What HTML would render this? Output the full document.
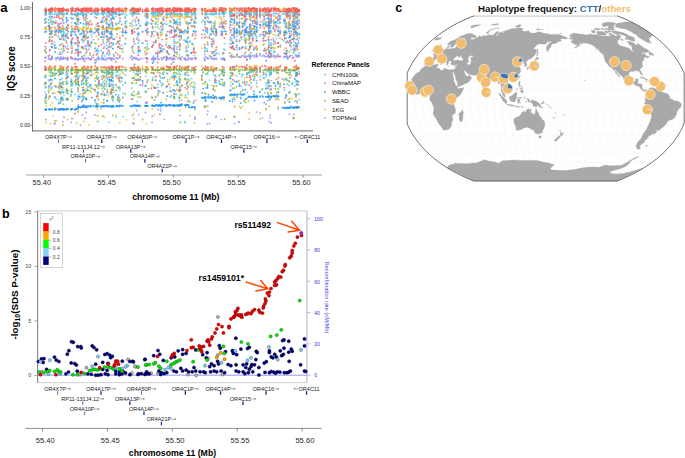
<!DOCTYPE html>
<html><head><meta charset="utf-8"><title>Figure</title>
<style>
html,body{margin:0;padding:0;background:#fff;}
body{width:685px;height:458px;overflow:hidden;}
svg{display:block;font-family:"Liberation Sans",sans-serif;}
</style></head><body>
<svg width="685" height="458" viewBox="0 0 685 458">
<rect width="685" height="458" fill="#fff"/>
<path d="M32.5 130.9H313" stroke="#858585" stroke-width="1.4" fill="none"/>
<path d="M32.5 2V131.6" stroke="#6c6c6c" stroke-width="1" fill="none"/>
<path d="M30.6 125.2H32.4" stroke="#555" stroke-width="0.6"/>
<text x="30" y="127" text-anchor="end" font-size="5.1" fill="#222">0.00</text>
<path d="M30.6 95.9H32.4" stroke="#555" stroke-width="0.6"/>
<text x="30" y="97.7" text-anchor="end" font-size="5.1" fill="#222">0.25</text>
<path d="M30.6 66.5H32.4" stroke="#555" stroke-width="0.6"/>
<text x="30" y="68.3" text-anchor="end" font-size="5.1" fill="#222">0.50</text>
<path d="M30.6 37.2H32.4" stroke="#555" stroke-width="0.6"/>
<text x="30" y="39" text-anchor="end" font-size="5.1" fill="#222">0.75</text>
<path d="M30.6 7.8H32.4" stroke="#555" stroke-width="0.6"/>
<text x="30" y="9.6" text-anchor="end" font-size="5.1" fill="#222">1.00</text>
<text transform="translate(14.6 68.8) rotate(-90)" text-anchor="middle" font-size="10.8" textLength="44.6" lengthAdjust="spacingAndGlyphs" font-weight="bold" fill="#000">IQS score</text>
<path d="M76.6 123.3h0M54.5 68.5h0M204.7 10.7h0M136 11.5h0M104.3 76.6h0M264.2 43.9h0M287.6 18.2h0M154.4 16h0M169.7 47h0M297.1 28.7h0M111.3 91.5h0M104.5 85.8h0M96.4 36.3h0M119.9 123h0M286 24.2h0M213.2 11.2h0M268.8 10.9h0M78.1 9.9h0M106.5 10.5h0M202.2 48.2h0M166.3 33.9h0M136.2 94.5h0M255.4 73.2h0M219.2 10.6h0M275.5 67.5h0M166.5 21.1h0M214.1 23.9h0M81.8 29.2h0M83.6 48.7h0M287.6 9h0M72.9 10.9h0M71.8 82.6h0M271 32.6h0M187.9 26.4h0M110.4 28.2h0M58.4 86.6h0M295.5 10.6h0M191 17.2h0M264.2 35.9h0M294.9 10h0M161.7 11.7h0M78 91.4h0M288.4 10.9h0M260 91.5h0M112.9 10.1h0M132 10.6h0M147.1 66.7h0M62.1 27.9h0M45.9 52.5h0M297.1 34.8h0M52.1 82.5h0M245.8 32.5h0M276.5 66.9h0M191.7 16.7h0M294 30.9h0M174.9 22h0M49.5 24.7h0M250 80.7h0M56.8 30.9h0M195.8 52.8h0M131.7 10.8h0M62.1 29.6h0M254.6 9.5h0M213.3 11.6h0M72.1 28.8h0M245.7 11.9h0M49.9 95.7h0M298.4 82.1h0M298.4 14.8h0M50.7 27h0M256.6 65.4h0M212.1 31.5h0M66.6 29.3h0M106 22.4h0M273.3 34.5h0M72.1 29.2h0M111.8 28.8h0M102 102.6h0M232.6 24.5h0M192 15.7h0M250.2 44.7h0M221 18.3h0M266.2 10.3h0M59.6 9.6h0M61.4 97.5h0M63 67.7h0M132.7 33.1h0M117.1 28.9h0M151.3 11.6h0M192.7 9.8h0M167.3 67.7h0M188.2 54.9h0M158.4 38h0M294 21.9h0M64 81.8h0M78.4 15.9h0M103 29.2h0M56.1 9.7h0M166.3 99.3h0M256.7 68.1h0M106.5 82.1h0M140.3 79.8h0M83.2 93.7h0M252.9 11.2h0M179.8 110.4h0M162.2 9.6h0M58.8 85.3h0M63.6 16.6h0M76.4 17.4h0M273.3 8.2h0M107.4 28.5h0M260 21.8h0M293.5 32.3h0M245.7 48h0M288.4 14.1h0M58.7 28.4h0M63 83.9h0M106.5 80.2h0M96.6 106.4h0M289.9 98.2h0M162.2 78.1h0M111.3 28.6h0M179.8 40.1h0M76.4 28.4h0M61.8 29.2h0M88.4 36.8h0M288.8 10.9h0M104.3 32.1h0M112.6 81.5h0M297.1 10.4h0M277.9 99.1h0M136.8 11.3h0M168.8 67.3h0M86.5 80.8h0M64 28.4h0M179.8 16.7h0" stroke="#f6bb2f" stroke-width="1.95" stroke-linecap="round" stroke-opacity="0.78" fill="none"/>
<path d="M164.2 20.1h0M297.2 35.5h0M48.5 59.1h0M132.6 123.1h0M286.5 25.5h0M245.2 48.2h0M146.5 58.5h0M169.1 59h0M137.3 38h0M51.4 59.2h0M86.5 45.4h0M109.5 58.2h0M106.5 42.5h0M233.6 35.4h0M242.7 30.9h0M296.5 34.2h0M233.6 28.9h0M290.2 55.5h0M52.3 17.1h0M189.9 17.1h0M132 59.3h0M174.1 30.7h0M249.7 26.9h0M72.1 59.1h0M90.6 58.9h0M168.8 58.1h0M269 57.6h0M62 35h0M75.1 58.1h0M222.3 58.4h0M293.7 57.3h0M45 70h0M278 56.5h0M195.1 16.1h0M293.5 48.8h0M138.8 23.6h0M299.2 55.6h0M298.4 40.8h0M113.5 18.1h0M191.7 59.4h0M231.7 55.5h0M195.1 58.7h0M295.9 94.7h0M232.6 88.3h0M89 58.9h0M157.7 87.5h0M263.3 24.7h0M83.2 59.3h0M185.2 122.6h0M297.1 34.3h0M122.8 58.7h0M107.5 91.7h0M87.9 44.1h0M244.4 21.8h0M187.9 59.8h0M152.6 58h0M153.8 59.5h0M66.3 58h0M185.4 58.7h0M236.5 39.4h0M252.7 23.6h0M136 73.7h0M72.9 37.9h0M207.8 17h0M262.3 34.2h0M163.1 58h0M244.7 32.8h0M78.5 77.7h0M166.5 59.9h0M65.5 58.1h0M145.6 30.2h0M252.7 38.2h0M91.8 57.2h0M45.9 18.4h0M151.3 19.2h0M251.3 87.2h0M264.2 36.8h0M216 117.2h0M239.4 57.1h0M273.6 15.8h0M286.2 56.9h0M87.7 42.5h0M280.3 45.3h0M136.8 58.1h0M166.5 59h0M277.9 17h0M205.6 56.8h0M78.1 21.8h0M139.5 59.4h0M248.3 55.1h0M260.3 34.6h0M132.6 57.6h0M83.6 57.9h0M286.2 97.5h0M188.8 58.7h0M249.2 56.2h0M54.5 123.6h0M169.7 58.3h0M114.2 18.7h0M267.8 33.1h0M181.1 30.4h0M82.9 47.1h0M169.1 48.4h0M236.5 45.3h0M102 33.5h0M155.6 58.5h0M295.9 32.2h0M106.5 45.3h0M187.1 50.8h0M45.9 13.8h0M74.9 43.6h0M45.9 109.6h0M136 57.7h0M145.4 102.6h0M224.6 59.9h0" stroke="#9a90f7" stroke-width="1.95" stroke-linecap="round" stroke-opacity="0.78" fill="none"/>
<path d="M205.6 69.8h0M130.1 25.8h0M194.3 94.6h0M174.4 85.4h0M101.4 37.2h0M251.4 69.9h0M52.1 76.3h0M46.2 96.8h0M62.8 87.9h0M256.5 112.1h0M173 69.8h0M72.1 70h0M54.9 69.4h0M234.4 70.3h0M102 88.5h0M284.9 70.2h0M164.2 49.2h0M138.3 69.9h0M62.1 99.5h0M194.3 70.1h0M260 69.9h0M59.6 69.3h0M132 78.3h0M195.8 69.8h0M86.2 91.1h0M97.5 95.9h0M176.1 69.1h0M246.8 82h0M250.2 69.6h0M51.4 88.8h0M154.4 69.7h0M54.9 75.4h0M155.4 70.4h0M146.5 50h0M101.1 70.3h0M102 72.1h0M48.5 98.8h0M230.6 85.6h0M147.2 69.8h0M117.8 27.8h0M247 77.2h0M121.7 69.8h0M83.5 48.4h0M103 75.8h0M102 55.5h0M60.8 72.9h0M110.4 94h0M48.5 19.9h0M70.9 95.9h0M179.8 91.1h0M166.5 56.4h0M136 79.7h0M233.6 70h0M112.3 76.1h0M125.4 69.6h0M278.6 34.3h0M204.7 105.9h0M207.3 72.9h0M287.4 50.5h0M204.7 34.1h0M66.3 41h0M268.9 46.9h0M108.5 47h0M140.3 96.9h0M157.7 34.1h0M256.5 69.5h0M119.1 69.4h0M138.6 27.9h0M180.4 122.5h0M268.9 69.7h0M179.4 43.1h0M209.6 69.9h0M173.4 69.8h0M229.8 53h0M111.3 75.6h0M131.8 70h0M242.6 69.8h0M278.3 106.9h0M78.1 84h0M210.6 69.6h0M166.3 69.9h0M125.3 18h0M237.1 81.9h0M145 69.8h0M176.9 70.1h0M93.4 70.1h0M289.5 25.5h0M292.2 70.2h0M245.7 16.6h0M266.2 69.5h0M176.1 56.6h0M230.6 30h0M280.3 46.8h0M152.6 28.2h0M116.5 69.8h0M153.6 21.2h0M158.4 70h0M182 69.9h0M298.4 19.7h0M173.7 73h0M103.8 77.8h0M75.1 70.3h0M55 70.3h0M71.8 91.7h0M185.6 69.6h0M112.9 69.6h0M72.9 70h0M161.1 32.8h0M48.5 90.7h0M239.5 27h0M284.3 69.5h0M152.2 72.7h0M132.6 69.7h0M285.2 30.6h0M180.2 79.5h0M113.5 86.7h0M80 69.9h0M181.5 95.4h0M174.7 53h0M173.7 97.4h0M286.5 94.9h0M78 72.5h0M225.9 21.2h0M82.9 93.6h0M215 22.8h0M86.3 49.7h0M289.9 72.5h0M176.1 73h0M95.3 69.8h0M147.7 69.7h0M293.8 45.3h0M86.2 99.6h0M71.1 43.7h0M289.5 81.5h0M280.3 83.4h0M245.8 41h0M60.2 52.1h0M273.6 69.7h0M286.5 52.7h0M86.3 85.3h0M231.7 43.5h0M245.7 102.6h0M136.2 82.9h0M86.7 69.8h0M138.8 50.5h0M52.9 74.9h0M274.6 70.1h0M249.2 34.9h0M215 90.6h0M251 53h0M81.5 75.5h0M245.7 38.7h0M256.7 48.5h0M120 82.3h0M71.1 69.9h0" stroke="#8bb52e" stroke-width="1.95" stroke-linecap="round" stroke-opacity="0.78" fill="none"/>
<path d="M48.5 55.9h0M83.6 26.8h0M214 13.7h0M51.4 72.1h0M182.1 16.4h0M205.3 50.3h0M230.6 37.3h0M86.2 84.9h0M277.9 72.3h0M293.7 35.9h0M72.1 82.9h0M121.7 13.8h0M216.4 53.2h0M171.7 14.4h0M289 29h0M223.9 71.7h0M133.9 53h0M97.6 14h0M101.4 85.4h0M108.3 70.9h0M248.3 13.9h0M232.8 14.4h0M86.2 14.2h0M80.6 14.4h0M189.9 22.9h0M193.8 82h0M256.7 14.1h0M295.5 13.9h0M268.8 44.2h0M180.2 14.4h0M136.8 71.5h0M155.4 76.1h0M299.2 56.1h0M75.1 13.9h0M153 14.5h0M159.4 14.3h0M185.6 14.2h0M186 41.7h0M87.9 71.9h0M58.7 71.4h0M112.9 89.2h0M213.7 14.5h0M182 14.2h0M79 75.9h0M286.8 28h0M62.1 82.3h0M276.5 38.5h0M212.1 13.8h0M179 14h0M107.5 71.7h0M231.7 38.2h0M268.2 86.2h0M262.3 14.4h0M98.4 23.5h0M146.5 91.8h0M299.2 72.1h0M270 71.2h0M230.5 75.9h0M174.2 13.5h0M164.2 23.3h0M250.2 36.2h0M179.4 54.6h0M297.2 29.1h0M139.5 51.4h0M120 14.1h0M90.5 30.8h0M117.1 14h0M58.7 54h0M187.4 50.5h0M118.6 96.5h0M79 30.9h0M167.3 14.4h0M174.9 75.7h0M67.8 73.7h0M106.5 22.1h0M103 14.9h0M83.8 33.5h0M269 99.1h0M275.3 22.3h0M245.7 14.6h0M236.5 81.5h0M286.5 13.2h0M63 83.8h0M180.2 78.8h0M177.5 21.8h0M174.7 13.6h0M112.9 72.8h0M256.5 31.5h0M179.8 21.9h0M180.1 32.1h0M60.2 13.8h0M61.8 78.7h0M83.6 24h0M62 12.3h0M83.2 71.6h0M111.4 92.7h0M286.2 95.3h0M224.6 43.6h0M145.6 71.7h0M289.5 28.8h0M271.3 13.9h0M254.6 22.7h0M104.7 55.9h0M138.2 52.7h0M211.3 29.7h0M140.3 73.5h0M102.1 14h0M270 56.4h0M209.6 80.1h0M293.5 34.4h0M290.2 17.9h0M179.4 39.9h0M60 73.8h0M240.7 97.5h0M79 14.1h0M137.3 34.1h0M66.5 17.7h0M297.1 84h0M78.1 14h0M157.6 14h0M266.2 72.1h0M90.5 13.5h0M66.9 36.4h0M111.3 21.7h0M161.7 22.4h0M78 12.6h0M291.2 49.8h0M112.6 25.2h0M115.8 16.5h0M251.3 13.1h0M61.8 97.1h0M163.1 27.2h0M66.9 29.6h0M296.5 12.1h0M116.2 117h0M195.8 14.2h0M170.2 37.4h0M221.1 21.6h0M256.6 15.8h0M180.4 74.2h0M276.5 13.7h0M185 121.8h0M174.2 39.1h0M54.5 42.2h0M286 14.1h0M106.9 100.8h0M254.6 14.5h0M293.5 22.8h0M223.2 13.4h0M45.9 13h0M111.4 13.5h0M84.5 93.1h0M207.3 14.2h0M106.5 82.4h0M293.8 14h0M182.1 15.9h0M195.1 19.2h0M278.6 13.8h0M285.2 23.8h0M66.5 75.6h0M260 35.9h0M60.4 13.8h0M145.6 85.4h0M56.1 34.9h0M79 96.8h0M111.1 86.1h0M45 14.4h0M278.3 14.1h0M103 71.2h0M182 32.5h0M289 74.7h0M164.2 72.1h0M299.2 71.4h0M271.1 50.9h0M78.1 56h0M231.7 14.3h0M176.9 80.7h0M82.9 12.8h0M91.8 36.9h0M86.7 14.1h0M244.7 14.6h0M91.2 41.9h0M293.8 29.4h0" stroke="#45cff4" stroke-width="1.95" stroke-linecap="round" stroke-opacity="0.78" fill="none"/>
<path d="M287.4 108.1h0M95 48.3h0M67.9 93.5h0M58.7 109.7h0M52.1 109.3h0M295.9 107.6h0M86.7 106.4h0M112.3 74.2h0M80.6 107.5h0M101.1 106.3h0M266 104.1h0M279.9 32.6h0M60 109.4h0M187.9 28.1h0M161.1 105.2h0M112.7 25.8h0M257.2 97.2h0M275.5 96h0M231.7 73.5h0M71.8 74.1h0M102.1 34h0M232.6 94.7h0M56.1 30.6h0M163.1 105.2h0M160.7 48.1h0M185.6 104.8h0M275.3 96.5h0M242.7 94.7h0M109.5 33.2h0M289.5 101.9h0M297.9 81.7h0M256.5 96.9h0M50.8 32.3h0M188.8 23.3h0M81.8 106.5h0M221.1 97.5h0M238.8 25.7h0M71.4 35.2h0M294.9 32.1h0M255.4 96.6h0M88.4 106.4h0M116.2 90.6h0M192 107.3h0M138 105.4h0M110.4 32.2h0M106.9 48.5h0M180.4 89.9h0M289.9 74.2h0M45.9 109.5h0M51.4 46.6h0M219.2 75.4h0M115.8 12.5h0M174.7 105.9h0M132.6 31.2h0M299.2 28.1h0M163.1 74.2h0M284.9 108h0M66.6 84h0M179 104.8h0M296 45.4h0M152 32.1h0M87.9 106.7h0M85.2 19.7h0M225.9 31.5h0M286 107.8h0M146.3 106h0M270 31.8h0M186 105.4h0M136 105.7h0M121.7 48.9h0M76.4 24.5h0M251.3 31h0M277.9 96.4h0M153.8 12.3h0M98.4 99.6h0M98.9 106.6h0M146.5 103.1h0M66.6 109.2h0M138.2 74.1h0M78.4 46.6h0M293.7 18.8h0M111.4 37.4h0M106.5 105.8h0M166.5 35.5h0M161 105.3h0M174.2 96.6h0M205.3 81.7h0M51.8 31.9h0M189.9 41.4h0M266 96.6h0M152.2 105.5h0M60.8 109.2h0M297.1 107.3h0M80 34.1h0M179.4 105.1h0M188.4 100.7h0M295.5 25.9h0M132 47.8h0M189.9 107.4h0M179.8 33h0M63.5 109.1h0M169.1 105.1h0M269.1 96.3h0M87.7 106.2h0M244.4 94.6h0M296 22.2h0M78.5 107.4h0M126.5 32.4h0M278 96h0M121.7 105.8h0M276.5 96.6h0M79 106.7h0M54.5 45.6h0M237 54.3h0M185.4 12.6h0M242.6 47.3h0M85.2 77.9h0M187.4 42.4h0M109.5 38.1h0M254.6 96.9h0M185.2 105.2h0M248.3 97h0M111.8 90.2h0M97.5 53.5h0M138.3 105.8h0M251 31.3h0M215 55.2h0M286.8 12.3h0M87.9 77.8h0M54.5 109.6h0M76.6 109.2h0M230.5 47.2h0M246.8 59.4h0M91.2 30.9h0M61.4 108.9h0M238.8 94.1h0" stroke="#1e93f5" stroke-width="1.95" stroke-linecap="round" stroke-opacity="0.78" fill="none"/>
<path d="M204.7 44.7h0M176.1 34.7h0M95.3 11.1h0M191.7 25.9h0M268.2 15.6h0M120 77.3h0M216.4 68.4h0M246.8 11.6h0M239.5 9.4h0M146.9 11h0M231.7 11.4h0M205.3 10.9h0M233.6 14.8h0M111.4 37.1h0M101.1 84.4h0M295.5 10.9h0M245.8 42.9h0M174.4 43.1h0M174.7 15h0M101.1 67.3h0M65.5 10h0M109.5 9h0M146.3 66.9h0M142.6 11.7h0M247 59.7h0M45.9 12h0M52.3 36.9h0M136.2 10.3h0M174.9 9.1h0M276.5 79.3h0M98.9 84.6h0M262.3 66.3h0M240.7 13.3h0M287.6 15.4h0M179.4 68.2h0M249.2 8.6h0M194.9 52.5h0M248.3 8.5h0M95 89.5h0M72.1 11.1h0M232.8 10h0M78.1 40.3h0M55 11.7h0M72.1 10.1h0M179.8 8.8h0M293.5 38.5h0M111.8 11.8h0M251.4 11h0M233.6 8.4h0M176.9 65.9h0M82.3 56.5h0M106.5 19.7h0M202.2 34.6h0M203.1 67.9h0M191.7 9.9h0M297.1 21.2h0M293.5 8.9h0M193.8 52.5h0M213.3 41h0M102 71.5h0M162.2 39.6h0M155.6 10.8h0M142.6 9.5h0M159.1 45.8h0M84.5 61.3h0M82.3 68h0M216.4 29.4h0M174.4 20.5h0M251.4 9.6h0M55.6 11.3h0M119.9 9.6h0M115.8 68.1h0M194.5 67.8h0M76.6 76.7h0M90 11h0M133.9 123.8h0M114.2 9.6h0M279.9 15.5h0M112.3 9.2h0M176.1 9h0M85.2 7.9h0M273.6 9h0M68.1 49h0M193.4 8.5h0M104.3 11.1h0M249.7 16.1h0M78.4 9.7h0M45.7 67.8h0M88.4 9.6h0M153 8.1h0M232.8 9.9h0M231.7 10h0M106 10.1h0M245.2 11.8h0M278 20.4h0M174.4 48h0M252.7 8.4h0M187.9 10.3h0M126.5 9h0M255.4 21.5h0M138.3 8.9h0M76 76.9h0M66.6 9.6h0M162.2 8.5h0M221 8.7h0M116.5 11.4h0M153.6 11.1h0M142.6 68.5h0M213.3 43.9h0M195.8 57.7h0M156 40.4h0M211.3 67.4h0M185.2 68.1h0M290.2 17.9h0M88.4 69.9h0M154.4 59.1h0M51.8 8.2h0M271 53.7h0M268.9 11.3h0M152 11.5h0M291.2 9.7h0M86.2 10.7h0M66.6 67.9h0M59.6 11.3h0M63.6 10.6h0M210.6 11.3h0M191.7 53.1h0M46.2 10.5h0M45 9.4h0M120 10.8h0M230.6 9.1h0M282.2 39.5h0M121.7 66.5h0M63.4 67.8h0M134.6 67.8h0M139.5 8.8h0M287.4 17.1h0M131.7 55.9h0M87.9 23.7h0M173.4 67.6h0M288.8 22.7h0M299.2 11.8h0M88.4 11.7h0M294.9 79.1h0M112.3 22.7h0M76.4 72.7h0M256.7 18.8h0M52.1 9.2h0M208.5 67.4h0M122.8 9.9h0M138.6 40.3h0M132.7 46.2h0M66.3 9.8h0M91.8 8.3h0M219.8 10.9h0M213.7 9.9h0M290.2 40.8h0M132.6 8.1h0M147.7 9.2h0M271.1 8.4h0M185 8.4h0M240.7 8.2h0M118.6 87.9h0M51.4 9h0M256.6 67.1h0M174.9 35.5h0M244.4 16h0M195.8 58.8h0M166.2 9.4h0M112.6 28.5h0M159.9 114.3h0M286.2 42.5h0M284.9 67.2h0M188.2 11.3h0M254.6 74.6h0M254.6 48.3h0M170.1 14.1h0M49.6 37.1h0M292.7 10.7h0M176.9 34.8h0M267.8 11.7h0M180.2 9.3h0M195.8 8.9h0M224.3 38h0M60.4 54.1h0M88.4 42.6h0M173 90h0M77.4 26.8h0M58.4 32.7h0M59.6 11.1h0M104.7 10.2h0M109 12h0M276.6 18h0M260.1 72h0M96.4 10.1h0M224 10.5h0M112.3 8.8h0M71.7 53h0M75.1 113.4h0M181.1 8.9h0M173.7 9.8h0M138.8 8.7h0M45 22.9h0M63 8.5h0M112.6 11.6h0M179.8 8.9h0M70.9 34.5h0M252.9 17h0M83.6 10.5h0M278 8.7h0M82.3 8.6h0M254.6 8.1h0M75.1 67h0M254.7 67.7h0M109.5 67.5h0M133.9 10.4h0M268.9 67.4h0M189.9 9.7h0M205.7 10.6h0M86.3 10.2h0M155.4 10.7h0M256.6 17.8h0M297.2 9.5h0M187.9 28.1h0M86.7 10.2h0M179 36.8h0M294 50h0M262.3 9.5h0M278.3 8.8h0M55.6 8.7h0M246.8 10.8h0M166.3 38.9h0M102 11.7h0M67.9 52.1h0M119.1 68h0M211.6 44.4h0M179.8 8.9h0M50.7 11.2h0M117.1 34.1h0M132 29.6h0M256.5 71.8h0M166.3 11.4h0M138.6 9.3h0M185.4 8.8h0M132.6 14.7h0M277.9 67.4h0M106.9 8h0M101.1 37.1h0M173.4 11.4h0M108.5 67.3h0M78 8.3h0M109 10.7h0M147.1 29.7h0M78.1 18.5h0M180.1 9.9h0M296 8.7h0M176.1 8.2h0M278 67.7h0M251.3 66.9h0M245.7 68.2h0M154.4 87.9h0M133.8 8.5h0M223.2 9h0M224.3 22.1h0M275.3 10.5h0M174.4 11.5h0M176.9 9.7h0M222.3 66.8h0M224.3 9.3h0M60.4 11.7h0M163.1 11.4h0M48.8 10h0M103 67.2h0" stroke="#f65a58" stroke-width="1.95" stroke-linecap="round" stroke-opacity="0.78" fill="none"/>
<path d="M146.5 48.5h0M212.1 85.6h0M269.4 10.1h0M188.4 44.4h0M244.7 77.7h0M189.9 115.4h0M189.9 80.3h0M106 77.5h0M64 15.5h0M194.9 16.8h0M49.7 16.5h0M181.3 67.8h0M78.4 78.7h0M269 28.6h0M157.7 21.6h0M275.5 56.4h0M86.5 28.4h0M189.9 16.3h0M78.5 28.6h0M207.3 11h0M275.3 16.6h0M82.3 29.2h0M256.6 49h0M106 27.8h0M292.2 25.8h0M45.9 29.6h0M251.4 8.8h0M157.7 72.6h0M174.1 10.5h0M93.4 10.9h0M222.3 35.8h0M119.2 97.9h0M269 81h0M289.5 11.6h0M251 88.9h0M294.9 39.2h0M273.3 38.1h0M266.2 109.7h0M166.3 45h0M145 15.7h0M49.7 28.7h0M273.6 25.5h0M98.9 28.7h0M96.6 68.3h0M188.8 65.7h0M45 19.6h0M249.6 10.2h0M166.5 11.8h0M240.7 10.5h0M275.5 18.5h0M168.8 84.6h0M255.4 66.2h0M223.9 99.6h0M51.8 40.4h0M294.8 66.4h0M82.9 28.7h0M289 21.6h0M76 29.1h0M162.2 33.8h0M293.7 50.7h0M147.2 15h0M224.6 9.6h0M223 68.3h0M279.9 9.4h0M136.8 80.6h0M60.2 93.1h0M147.7 68.9h0M98.9 104.1h0M284.3 34.5h0M169.1 10.4h0M45.2 27.5h0M177.6 15.8h0M289 12h0M104.7 29.1h0M57.8 91.9h0M133.8 114h0M133.9 80.5h0M58.4 28.5h0M61 28h0M83.8 121.4h0M213.7 67.2h0M135.5 75.5h0M202.2 11.9h0M179.8 9.9h0M174.7 29.3h0M63 45h0M67.9 119.8h0M249.7 66.1h0M181.5 100h0M170.1 20.7h0M185 67h0M125.4 10.3h0M80 28.5h0M66.9 28.7h0M157.7 67.8h0M221.7 19.7h0M223.2 10.8h0M251 10.1h0M87.7 29.5h0M205.6 11.6h0M191 86.1h0M123 48.3h0M293.5 9h0M156 53h0M293.7 28.7h0M163.1 66.9h0M158.1 15.9h0M292.2 98.8h0M214 86.9h0M109.4 20.9h0M173.7 30.6h0M260.3 11.1h0M136.2 9.6h0M74.9 28.8h0M225.9 8.5h0M257.2 10.1h0M297.2 8.9h0M116.2 28.1h0M54.9 123h0M146.3 11.1h0M278 9.4h0M287.4 83.7h0M231.7 31.1h0M266.2 88.3h0M264.8 9.7h0M249.2 18.4h0M95 51.7h0" stroke="#f6bb2f" stroke-width="1.95" stroke-linecap="round" stroke-opacity="0.78" fill="none"/>
<path d="M155.4 58.9h0M257.2 24h0M188.4 24.2h0M299.2 26.3h0M271.3 70.8h0M102.1 59.5h0M224.3 28.8h0M113.5 54.5h0M80.6 59.1h0M294 29h0M191 58.2h0M63.5 58.4h0M277.9 83.4h0M103 91.5h0M254.5 56.7h0M75.1 53.2h0M286 35.1h0M106.5 58.4h0M293.8 26.6h0M142.6 58.5h0M112.9 38.9h0M109 68.3h0M147.7 59h0M239.4 34.6h0M133.8 57.5h0M231.7 43.6h0M237 32.3h0M83.6 104.7h0M101.4 21.9h0M278.6 99.6h0M86.2 23.9h0M260 55.6h0M61.8 53.4h0M166.5 51.5h0M160.7 110.7h0M254.7 56.9h0M278 19.9h0M80 93.9h0M249.2 36.8h0M221 58.8h0M262.3 21.5h0M269.4 121.8h0M109 17.1h0M263.3 74.7h0M86.2 112.5h0M224 85.7h0M194.3 100.8h0M256.7 72.5h0M107.5 52.3h0M250 14.4h0M89 49.1h0M49.7 29.5h0M234.4 56.8h0M166.2 59.7h0M82.4 114.9h0M275.5 25.8h0M257.2 20.9h0M271 56.7h0M257.2 56.9h0M236.5 55.7h0M67.9 58.8h0M293.8 32.9h0M214 59.1h0M237.1 23.8h0M179.8 22.3h0M45.2 57.7h0M293.7 114.4h0M147.2 24.8h0M179.8 58.8h0M289.5 57.1h0M78.5 59.7h0M152.2 59.1h0M192 58.6h0M111.1 57.9h0M63 38.8h0M119.9 21h0M71.8 57.9h0M80.6 34.5h0M120 57.3h0M254.6 47.4h0M109 40h0M222.5 35h0M186 67.8h0M180.1 45.9h0M98.4 57.9h0M292.7 24.1h0M96.4 24.9h0M87.7 50.6h0M289 37.7h0M77.4 59.4h0M216.1 58.1h0M49.5 37.3h0M242.6 47.1h0M58.8 31.4h0M238.8 121.7h0M286 56.2h0M256.5 38.3h0M267.8 56.4h0M111.8 59.7h0M273.3 56.4h0M90 31.2h0M201.8 37.7h0M167.7 58.9h0M297.2 102.7h0M174.1 48.2h0M86.7 33.1h0M234.4 28.2h0M78.4 53.1h0M76.6 59.1h0M295.5 43.1h0M103 58h0M145.6 57.9h0M180.1 58.8h0" stroke="#9a90f7" stroke-width="1.95" stroke-linecap="round" stroke-opacity="0.78" fill="none"/>
<path d="M252.9 69.7h0M270 72.8h0M297.1 69.4h0M85.2 98h0M161.1 34.8h0M177.6 41.9h0M81.8 80.9h0M125.3 26.9h0M120 88.1h0M78 69.9h0M49.6 34h0M112.9 78.1h0M222.3 70h0M123 73.2h0M148.5 48.7h0M234.4 18.9h0M286.8 53.6h0M257.2 69.8h0M122.8 70h0M76.4 82.9h0M97.6 69.5h0M207.8 70h0M221.7 73.4h0M109.5 51.8h0M216.4 86h0M140.3 76.9h0M245.7 69.7h0M109.5 69.9h0M293.8 23.7h0M82.4 69.8h0M211.3 70.5h0M96.6 103.7h0M211.6 70.1h0M286.5 23.2h0M181.1 35.6h0M86.2 52.6h0M295.5 69.9h0M290.2 69.7h0M138.2 75.3h0M273.6 43.9h0M179.8 80.7h0M132.7 50.3h0M179 97.1h0M242.7 82.4h0M271.3 69.4h0M229.8 69.3h0M186.8 46.1h0M58.8 70.1h0M134.6 69.5h0M274.6 96.3h0M63.6 69.9h0M112.6 69.9h0M297.2 88.9h0M109 72.7h0M216 96.5h0M83.2 87.6h0M236.5 69.2h0M166.2 35.5h0M246.8 73.3h0M103 28.1h0M187.1 69.6h0M67.9 98.5h0M138.6 33.9h0M67.9 70.1h0M125.4 38.4h0M224.6 119h0M97.6 96.3h0M78.4 69.6h0M293.5 53.1h0M219.8 24.1h0M179.4 76.8h0M71.7 69.6h0M251 34h0M122.8 28.8h0M62 69.8h0M58.4 70.5h0M205.7 69.8h0M90 54.9h0M239.4 73.7h0M106.5 70.1h0M179 35.6h0M276.5 92.4h0M112.6 16.4h0M163.1 70h0M292.7 70h0M242.6 74.7h0M112.2 70h0M104.3 72.7h0M131.7 70h0M45 101.4h0M221.1 73.6h0M193.8 70h0M137.3 69.8h0M213.7 70h0M133.8 69.8h0M45 69.5h0M161 69.3h0M289.9 77.9h0M186.5 55.3h0M155.6 69.9h0M74.9 81.5h0M222.5 26.5h0M114.2 56h0M158.4 37.8h0M87.9 69.6h0M215 27.9h0M98.9 85.8h0M54.9 107.9h0M192.7 26.3h0M49.6 72.1h0M275.3 89h0M260.1 69.5h0M148.5 69.5h0M250.2 47h0M95.3 85.1h0M122.8 51.8h0M297.2 24.5h0M80.6 70.7h0M271.1 98.1h0M60.8 100.1h0M232.8 69.3h0M48.8 92.6h0M50.7 83.5h0M171.4 95.8h0M114.2 70.1h0M264.8 69.4h0M133.9 70.5h0M155.6 80.2h0M247 69.6h0M230.4 69.7h0M86.5 82.6h0M277.9 70.1h0M83.2 69.9h0M103 41.4h0M115.8 52.7h0M152 70h0M108.5 70.1h0M45.2 83.8h0M174.2 69.7h0M78.4 53.4h0" stroke="#8bb52e" stroke-width="1.95" stroke-linecap="round" stroke-opacity="0.78" fill="none"/>
<path d="M156 18.3h0M86.2 30.8h0M126.5 15.1h0M170.1 96.9h0M201.8 22.2h0M209.6 35.9h0M103.8 35h0M77.4 74.4h0M90.6 21.2h0M295.5 54.7h0M88.4 27.4h0M48.8 88h0M96.6 14.9h0M159.1 14.3h0M205.7 15h0M125.4 25.9h0M289 85.5h0M78.1 91.6h0M169.1 14h0M138.6 91.5h0M182.1 85.3h0M102 13.6h0M117.1 72h0M230.6 20.7h0M174.2 93.1h0M133.9 72.1h0M173 74.4h0M112.2 13.8h0M162.2 14h0M86.2 80.6h0M271.1 22.9h0M111.3 13.9h0M109.4 13.9h0M180.4 89.2h0M254.7 13.8h0M108.5 71.3h0M77.4 42h0M153 77.7h0M119.9 46.2h0M264.2 16.8h0M179.8 74.2h0M166.5 17.8h0M284.9 71.2h0M55 44.6h0M297.1 13.4h0M287.6 14.1h0M72.1 91.6h0M216.4 82.6h0M252.9 71.9h0M216.1 116.1h0M221 84.4h0M106.5 14.1h0M45.9 48.5h0M72.1 13.9h0M247 14.3h0M91.2 46.5h0M162.6 28.7h0M254.7 33.8h0M191 71.6h0M254.6 13.3h0M237.1 97.6h0M275.5 35.3h0M216.4 99h0M174.2 13.8h0M269.4 75.6h0M219.8 16.3h0M96.4 50.3h0M79 19.7h0M125.3 14.1h0M91.2 72h0M154.4 42.6h0M174.1 12.8h0M188.2 13.9h0M86.5 89.9h0M147.1 14.2h0M278.3 84.1h0M233.6 22.6h0M83.5 14.3h0M276.6 72.8h0M254.6 78.3h0M188.2 94.2h0M294.9 27.5h0M253.9 71.6h0M63.6 32.5h0M63.6 31.2h0M115.8 14.1h0M62 35.3h0M52.9 73.4h0M299.2 52.9h0M161 31.9h0M288.4 12.3h0M45.7 13.8h0M78 49.1h0M173.7 46.2h0M72.9 14.3h0M64 13.6h0M121.7 71.7h0M284.9 23.2h0M187.1 83.3h0M78.5 45.5h0M66.9 13.7h0M117.8 42.7h0M194.3 55.4h0M46.2 31.7h0M118.6 23.6h0M81.5 83.5h0M224.6 82.9h0M160.7 51.6h0M221 22.9h0M216 14h0M169.7 13.3h0M121.7 78.2h0M186.5 51.5h0M116.2 76.1h0M294.8 85.9h0M63 82.3h0M109 122.1h0M86.7 24.4h0M166.3 44.4h0M66.3 74.4h0M52.3 23.9h0M45.2 92.1h0M249.6 39.5h0M155.6 13.7h0M156 14.1h0M260 13.9h0M237 49.7h0M194.3 89.3h0M147.1 44.3h0M299.2 35.2h0M107.4 23.1h0M249.7 72.4h0M146.5 14.2h0M138.8 14.1h0M114.2 14h0M62 83.5h0M98.9 13.5h0M147.1 46.9h0M207.4 87.2h0M102 57h0M213.3 72h0M238.8 13.6h0M76.4 19.3h0M52.1 79.9h0M232.8 28.6h0M238.8 71.3h0M285.2 26.1h0M86.7 89.3h0M256.5 14.3h0M251.4 35.6h0M205.6 14.8h0M103 82.3h0M214 52.8h0M268.9 18.9h0M297.1 74h0M90.6 13.6h0M211.6 13.6h0M78 14.1h0M101.4 86.1h0M50.8 13.9h0M182.1 13.9h0M62.1 37h0M49.5 17.1h0M109.5 25.8h0M148.5 22.7h0M212.1 41.8h0M111.3 35.5h0M294.8 71.7h0M93.4 89.2h0M239.4 13.7h0M132.7 26.3h0M161.7 23.4h0M298.4 13.6h0M202.2 12.8h0M268.2 56.1h0M121.7 80.9h0M292.2 14.2h0M177.6 14.3h0M101.4 21.7h0M171.4 21.6h0M145.4 71.2h0M61.4 101.2h0M187.9 38.2h0M62.8 93.1h0M103 72.3h0M221.7 97.7h0M152 33.4h0M138.2 43h0M239.5 71.4h0M78.5 71.9h0M193.4 13.9h0" stroke="#45cff4" stroke-width="1.95" stroke-linecap="round" stroke-opacity="0.78" fill="none"/>
<path d="M157.7 11h0M71.1 109.3h0M71.8 109h0M139.5 105.6h0M72.9 29.1h0M86.2 107h0M221.7 32.3h0M120 28.3h0M260 96.4h0M52.3 47.5h0M212.1 31.2h0M251.3 31.5h0M108.5 106.6h0M125.3 82.8h0M173.4 76.6h0M83.8 31.9h0M91.8 42.8h0M50.7 84.5h0M46.2 109.4h0M180.4 31.5h0M151.3 36.2h0M222.3 31.7h0M260 97h0M62.8 73.2h0M278 31.3h0M61 109.3h0M177.5 105.5h0M67.9 90.6h0M284 31.9h0M140.3 105.7h0M86.3 73.7h0M142.6 31.7h0M48.5 25.9h0M195.1 11.9h0M260.1 11.7h0M111.3 77.1h0M248.3 72.7h0M50.7 109.6h0M188.4 87.1h0M181.1 105.4h0M83.6 83.4h0M230.4 95h0M216.4 32.2h0M81.5 12.4h0M145.6 24.8h0M204.7 97.6h0M287.6 41.1h0M276.6 96h0M48.5 109.3h0M274.6 23.2h0M112.6 97h0M250.2 32.4h0M79 85.4h0M180.1 105.7h0M245.7 21.2h0M211.6 97.4h0M56.8 31h0M54.9 78.4h0M109.5 72.5h0M188.4 105.3h0M297.1 108h0M155.6 97.3h0M186.8 41.4h0M260.3 96.5h0M252.7 96.7h0M213.2 89.2h0M153.6 61.2h0M45 31.9h0M274.6 51.7h0M66.6 99.7h0M280.3 31.3h0M268.8 96.2h0M60.2 79.6h0M86.2 106.5h0M266.2 32.3h0M164.2 105.1h0M268.1 96.5h0M170.1 105.1h0M87.9 41h0M86.2 80.3h0M67.9 109h0M51.8 31h0M266.2 60.8h0M186.8 105h0M208.5 94.7h0M269.4 31.4h0M97.5 105.9h0M269 18.4h0M269.4 96.4h0M148.5 32h0M288.4 107.8h0M273.3 96.3h0M260 24.7h0M161.1 102.7h0M61.4 87h0M71.4 32.5h0M195.8 17.6h0M109.5 79.5h0M207.3 32.5h0M58.8 29.4h0M173.4 61.9h0M294 107.6h0M234.6 30.3h0M71.7 45.5h0M268.9 19.9h0M80.6 22.9h0M61 91.9h0M192.7 44.3h0M266.2 83.1h0M222.3 79.6h0M68.1 31.4h0M78.1 50h0M103 106.7h0M90 32.1h0M286 78.8h0M113.5 106.7h0M81.8 33.4h0M104.7 83.8h0M219.8 84h0M284 84.2h0M290.2 25.1h0M61.8 31.4h0M83.8 106.5h0M242.7 90.2h0M95.3 62.8h0M173.7 105.4h0M269 96.8h0M142.6 43h0M60 83.4h0M293.5 29.2h0M193.8 48.4h0M205.7 97.3h0M66.6 27.2h0M193.4 102.7h0M50.7 79.6h0M299.2 33.8h0M109.4 106.1h0M113.5 44.3h0M96.6 50.7h0M159.1 104.9h0M239.5 27.4h0M108.5 24.7h0M103.8 12.3h0M254.6 25.9h0M244.4 94h0M253.9 96.6h0M256.6 24.2h0M157.6 54h0M159.4 105.5h0M240.7 98.3h0M147.7 17.4h0M219.2 81.2h0M138.8 105.6h0M179.8 49.2h0M52.9 93.5h0M106 18.9h0M173.7 55.7h0M201.8 97.8h0M207.8 44.5h0M63.5 109.4h0M95 90.6h0" stroke="#1e93f5" stroke-width="1.95" stroke-linecap="round" stroke-opacity="0.78" fill="none"/>
<path d="M208.5 22h0M71.7 8.3h0M299.2 10.1h0M256.6 8.9h0M166.2 9.3h0M45 67.3h0M264.2 8.9h0M134.6 13.7h0M275.5 10.2h0M46.2 43.1h0M271 16.2h0M72.1 10.9h0M219.8 7.9h0M221.7 8.9h0M271 68.4h0M56.8 15.4h0M297.2 22.7h0M254.6 20.3h0M89 44.9h0M140.3 9.8h0M231.7 35h0M111.3 10.3h0M177.6 9.3h0M109.4 15.6h0M138.3 11.5h0M234.6 8.3h0M83.2 79.3h0M82.3 68.2h0M83.2 9.5h0M252.7 38.4h0M192 10.2h0M86.2 8.9h0M112.9 8.5h0M223.2 11.7h0M260 67.4h0M51.4 67.8h0M268.8 15.9h0M269.4 86.6h0M164.2 57.2h0M270 11.3h0M230.6 10.3h0M234.4 9.6h0M67.8 10.7h0M296.5 67.4h0M159.4 11.8h0M181.1 9.7h0M45 51.1h0M244.7 16.7h0M253.9 26h0M252.7 38.6h0M230.6 11.3h0M237.1 33.6h0M45.2 66.5h0M52.1 8.2h0M45.2 46.5h0M108.3 11.7h0M230.5 30.1h0M252.9 8.3h0M264.2 50.6h0M186.8 8.8h0M194.3 9h0M111.1 80.3h0M191 20.3h0M76.4 72.1h0M185 9.8h0M174.1 9.6h0M158.1 15.3h0M171.7 13.7h0M295.9 14.1h0M146.5 9.5h0M234.6 14.1h0M194.9 10.4h0M84.5 76h0M162.6 25h0M279.9 11.7h0M97.6 23.2h0M85.2 10.6h0M135.5 20.4h0M161 23.2h0M55 66.2h0M104.7 8.6h0M256.5 14.7h0M187.1 88.9h0M254.7 67.7h0M271.3 66.7h0M119.9 9.7h0M45 50.1h0M211.3 10.3h0M174.2 8.8h0M91.8 11.5h0M77.4 44.9h0M256.6 15h0M72.9 9.3h0M112.9 66.8h0M146.3 22.7h0M84.5 34.5h0M234.6 67.6h0M62.1 8.6h0M63.5 8.7h0M157.7 56.1h0M169.1 84.1h0M256.5 10.6h0M285.2 21.1h0M83.6 10.2h0M194.9 8.9h0M164.2 68.7h0M101.4 9.5h0M86.2 9.8h0M166.5 11h0M192.7 34.2h0M232.8 35.3h0M82.4 10.8h0M159.4 44h0M233.6 43.2h0M138 9.4h0M285.2 11.6h0M119.2 11.1h0M125.4 10.2h0M286 48.1h0M225.9 23.8h0M221.7 9.9h0M58.8 17.1h0M173 10.3h0M225.9 34.2h0M260.3 9.1h0M54.9 7.9h0M246.8 30.6h0M60 11.1h0M170.1 67.5h0M152 8.7h0M232.6 67h0M255.4 8.5h0M271 53.6h0M80.6 11h0M120 9.2h0M249.6 77.3h0M54.9 22.5h0M174.1 11.2h0M106 68h0M49.9 33.7h0M271.3 8.4h0M287.4 9.1h0M182 9.3h0M72.9 68.1h0M156 42.4h0M260 10.1h0M108.5 8.2h0M167.7 67.3h0M168.8 68.3h0M78.4 99.2h0M294.8 8.3h0M77.4 10.4h0M156 10.2h0M145.4 71.1h0M58.4 8.4h0M107.4 11.7h0M132.7 8.5h0M136.8 10.8h0M76.4 8.8h0M169.1 10.6h0M221.1 8.8h0M97.6 26.4h0M231.7 10.5h0M207.3 28.3h0M90.5 10.9h0M74.9 43.1h0M174.1 23.4h0M109.4 11.5h0M214.1 68.5h0M270 57.1h0M62 67.5h0M245.7 57.2h0M211.6 10h0M78 10.2h0M292.7 58.2h0M251 79.2h0M268.9 9.8h0M52.3 11.3h0M230.5 68.7h0M250.2 9h0M216.4 32.7h0M146.9 32.9h0M174.1 66.4h0M299.2 74h0M179.4 8.5h0M176.9 9.8h0M159.1 8.2h0M106.5 9.4h0M83.2 11.4h0M112.3 24h0M106.5 10.1h0M89 22.7h0M171.4 32.9h0M83.5 9.4h0M255.4 10.9h0M204.7 11.1h0M109.5 37.9h0M268.9 11.6h0M274.6 8.3h0M74.9 31.7h0M136 11.8h0M166.5 66h0M205.7 8.5h0M260.3 27.4h0M98.4 10.5h0M188.8 10.2h0M80.6 9.3h0M87.9 8.2h0M279.9 10.8h0M174.9 10.5h0M193.8 11.4h0M82.4 10.2h0M211.3 10.3h0M76.4 67.1h0M289 10.4h0M86.7 18.6h0M268.1 8.3h0M50.8 67.8h0M97.6 78.6h0M192 67.7h0M213.7 55.5h0M249.2 85.2h0M97.6 11.8h0M153.8 9.1h0M179 10.2h0M204.7 37.7h0M60.2 9.3h0M112.6 10.9h0M256.7 11.8h0M278.3 42.9h0M291.2 35.1h0M167.7 47.2h0M294 11.4h0M187.4 72.3h0M104.7 89.1h0M216.4 67.9h0M257.2 11.1h0M291.2 9.1h0M161 10.5h0M68.1 11.1h0M66.3 9.8h0M76.6 23.1h0M173.4 8.4h0M117.1 9.6h0M251.3 70.7h0M234.6 15.3h0M140.3 8.4h0M237 10.3h0M93.4 11.6h0M159.4 9.2h0M194.5 10.2h0M85.2 11.5h0M56.8 15.4h0M294 11.4h0M71.4 26.6h0M63 8.1h0M151.3 88.3h0M71.7 73.7h0M145.6 40.6h0M222.3 8.5h0M260 10.6h0M256.5 31.1h0M187.9 55.8h0M157.7 33.4h0M179 9.7h0M66.6 42.8h0" stroke="#f65a58" stroke-width="1.95" stroke-linecap="round" stroke-opacity="0.78" fill="none"/>
<path d="M134.6 12.3h0M155.4 26.8h0M182 16.1h0M62 28.9h0M86.3 91h0M48.5 29.2h0M249.2 37.6h0M222.3 8.4h0M110.4 74.7h0M246.8 10.4h0M296.5 10.6h0M161.1 15.9h0M286.8 10.7h0M181.1 10.6h0M286.2 78.2h0M158.4 16.6h0M278.6 9.2h0M185.4 21.4h0M207.8 37.4h0M212.1 11.3h0M273.6 49.6h0M130.1 9.6h0M219.2 17.4h0M298.4 67.3h0M155.4 17.3h0M294 11.2h0M60.4 93.1h0M97.2 28.9h0M101.1 27h0M210.6 21.4h0M252.7 45.5h0M52.9 116.1h0M174.1 79.8h0M167.7 92.1h0M102 68h0M192.7 86.7h0M249.2 119h0M174.7 15.7h0M242.7 26.8h0M297.9 10.5h0M245.2 40h0M68.1 8.7h0M193.4 86.2h0M273.3 22.6h0M140.3 106.8h0M57.8 91.4h0M232.6 9h0M186.8 102.1h0M224.3 26.7h0M284.3 10.9h0M254.6 18.4h0M96.6 43.1h0M110.4 28h0M242.6 106.5h0M205.7 66.2h0M284 9h0M95 73.3h0M170.2 16.5h0M215 20.7h0M87.9 28.2h0M204.7 47.2h0M161 68h0M203.1 10h0M237 18.2h0M115.8 28.6h0M89 125h0M286.5 10.6h0M219.2 9.8h0M79 28.6h0M179.8 11.2h0M146.5 123.8h0M194.9 16.1h0M63.6 84.4h0M278.6 35.2h0M180.2 86.6h0M219.8 10.2h0M134.6 18.6h0M287.4 17.5h0M103.8 29.1h0M50.7 123.7h0M171.4 15.2h0M58.4 72.5h0M95 78.4h0M187.4 97.7h0M119.2 28.2h0M83.6 94.4h0M185.4 67.3h0M152.2 24h0M238.8 67.7h0M208.5 9.6h0M179 16.1h0M66.3 28.5h0M280.3 30.1h0M72.9 118.8h0M299.2 10.2h0M97.6 9.8h0M152.2 11.4h0M104.3 9.6h0M293.8 8.8h0M50.8 11.8h0M279.9 27.7h0M86.3 28h0M244.4 11.4h0M84.5 40.2h0M181.1 29.7h0M277.9 92.3h0M230.5 67.1h0M256.5 10h0M90.6 29.7h0M62.1 83.1h0M229.8 93.9h0M115.8 84.9h0M216.1 76.4h0M179.8 79.8h0M154.4 115.3h0M171.7 76.5h0" stroke="#f6bb2f" stroke-width="1.95" stroke-linecap="round" stroke-opacity="0.78" fill="none"/>
<path d="M107.5 58.5h0M126.5 26.1h0M250.2 24h0M71.7 31.2h0M194.5 91.1h0M68.1 58.5h0M245.8 21.2h0M185.4 30.5h0M147.1 81.7h0M207.8 58.2h0M209.6 22.8h0M167.3 57.5h0M242.7 55.5h0M83.8 17.3h0M185.2 40.7h0M55.6 58.1h0M62 59h0M193.8 21.3h0M136.8 110.5h0M104.5 95.3h0M254.6 33.6h0M230.5 32.5h0M262.3 118.1h0M98.4 84.9h0M75.1 58.6h0M60.2 29.5h0M166.3 35.5h0M117.8 42h0M145.4 16.3h0M293.7 41.2h0M299.2 23h0M153.8 31.2h0M287.4 56.3h0M91.8 13.9h0M276.6 55.8h0M111.3 19.5h0M132.6 16.1h0M296 56h0M212.1 14.4h0M55 123.8h0M284.9 101.6h0M166.5 17.7h0M159.1 59.2h0M76.6 28.8h0M279.9 56.4h0M195.8 35.4h0M285.2 70.2h0M78.5 54.8h0M113.5 59h0M48.8 57.4h0M138.2 59.1h0M249.2 50.2h0M111.3 60h0M83.6 75.2h0M185.6 59.8h0M174.9 32.3h0M216.4 53.8h0M250.2 42.7h0M230.4 56.2h0M180.2 59h0M244.4 25.2h0M56.1 29.3h0M132 24h0M271 45.2h0M279.9 18.4h0M279.9 38.1h0M211.6 59.1h0M256.7 27.7h0M109.5 57.9h0M205.6 36.4h0M238.8 122.2h0M60.2 58.3h0M176.1 36.5h0M156 15.6h0M189.9 58.6h0M83.8 37.4h0M140.3 79.4h0M174.2 51h0M71.4 42.2h0M111.3 47h0M63.4 34.3h0M174.1 29.3h0M45.7 58h0M72.9 58.7h0M48.5 79.9h0M159.9 91.6h0M207.8 105.9h0M239.5 86.3h0M60 57.8h0M278 109.1h0M66.6 59h0M70.9 58.1h0M274.6 41.2h0M264.8 35h0M76.4 42.9h0M85.2 46.4h0M81.8 56.8h0M116.5 58.6h0M115.8 84.9h0M204.7 17.8h0M284.3 56.7h0M66.6 48.2h0M78.1 59.7h0M72.1 13.7h0M296.5 56.3h0M82.3 46.7h0M174.4 34.7h0M185.2 87.7h0M244.4 57h0M289.5 114.2h0M82.9 15.4h0M77.4 20.5h0M112.9 77.5h0M91.2 24.2h0M87.9 86.8h0M162.2 59.5h0M252.7 55.7h0M138.6 21.7h0M173.7 58.8h0M64 58.8h0M174.2 58.7h0M286.5 54.1h0M103 53.7h0M107.4 16.6h0M104.7 59.3h0M121.7 45.1h0M299.2 68.2h0M284.9 20.7h0M112.6 58.3h0M83.6 58.7h0M116.2 57.6h0M140.3 58.5h0M97.5 94.4h0M254.7 69.3h0M271.3 56.2h0" stroke="#9a90f7" stroke-width="1.95" stroke-linecap="round" stroke-opacity="0.78" fill="none"/>
<path d="M221 79.1h0M113.5 18.4h0M103 116.3h0M75.1 81.7h0M125.3 94h0M278.3 70.1h0M166.5 105.7h0M77.4 69.9h0M292.7 16.2h0M110.4 91.8h0M130.1 70.7h0M78.5 81.4h0M60.2 70h0M82.3 96h0M46.2 52.5h0M55 73.9h0M111.3 72.4h0M293.5 70h0M232.6 72.9h0M119.1 78.9h0M86.2 70h0M76 69.9h0M119.9 99.7h0M252.7 75.8h0M125.3 23.2h0M284.9 103.1h0M112.3 99.3h0M233.6 33.1h0M158.1 70.1h0M119.2 69.6h0M205.7 18.5h0M79 69.9h0M222.3 70.3h0M71.4 84.9h0M242.6 22.7h0M85.2 93h0M252.7 70h0M221 70h0M117.8 70.1h0M176.9 23.5h0M162.2 69.6h0M179.4 70h0M78.4 84.6h0M60.8 85.2h0M248.3 72.9h0M58.4 36.2h0M133.9 91.6h0M116.2 29.1h0M254.7 69.9h0M244.4 69.9h0M83.2 79.4h0M278 83.2h0M112.7 69.6h0M240.7 37.4h0M108.3 69.9h0M49.9 39.4h0M49.5 69.9h0M97.5 72.7h0M81.8 69.9h0M188.2 69h0M273.3 96h0M188.2 37.2h0M109.4 73h0M70.9 84.6h0M131.7 94.9h0M278.6 70.1h0M269.1 106.2h0M90.5 70.2h0M189.9 101.7h0M78.1 87.9h0M63.4 69.6h0M136.8 70h0M224.6 72.6h0M63.4 46.7h0M271.3 47.5h0M232.6 56.6h0M186.5 69.8h0M204.7 69.2h0M231.7 70.1h0M58.8 75.3h0M71.4 85.5h0M54.9 85.8h0M76.4 75.1h0M212.1 70.1h0M194.9 69.5h0M273.6 21.6h0M187.4 85.9h0M176.9 69.8h0M164.2 69.7h0M111.1 69.8h0M67.8 70h0M286.2 69.9h0M104.7 72.4h0M96.4 72.3h0M238.8 70.4h0M192.7 69.4h0M145.6 69.9h0M216.1 69.7h0M133.9 95.4h0M117.8 100.1h0M270 33.5h0M71.4 69.8h0M170.1 21.8h0M271 69.9h0M83.5 70.3h0M55.6 86.3h0M152.2 69.7h0M153.8 72.7h0M185.6 107h0M295.5 42.9h0M55.6 73.7h0M96.6 75.9h0M242.7 23h0M71.1 17.8h0M185 69.7h0M157.6 70h0M90.5 30.3h0M58.7 91.6h0M138.8 93.2h0M167.7 69.5h0M177.6 69.7h0M230.5 72.5h0M136 69.9h0M63 69.9h0M59.6 91.7h0M185.4 97.3h0M112.6 89.7h0M239.4 25.4h0M240.7 34.3h0M87.9 73.4h0M203.1 72.6h0" stroke="#8bb52e" stroke-width="1.95" stroke-linecap="round" stroke-opacity="0.78" fill="none"/>
<path d="M112.7 44.7h0M59.6 13.5h0M74.9 27.1h0M187.1 14.5h0M112.7 76.6h0M291.2 107.9h0M297.2 24.6h0M109.5 47.3h0M109 54.9h0M193.8 13.2h0M194.3 71.4h0M111.1 23.5h0M136.2 13.6h0M101.1 37h0M46.2 100.5h0M244.4 29.9h0M297.9 14.4h0M71.8 51.7h0M256.5 36.4h0M96.4 13.8h0M101.4 50.4h0M71.8 13.8h0M224.3 13.6h0M249.6 13.5h0M224 23.4h0M133.9 12.4h0M85.2 14.4h0M194.3 30.7h0M241.6 76.3h0M177.6 19.3h0M191.7 14.6h0M236.5 12.4h0M163.1 24.3h0M171.7 91.5h0M188.4 79.1h0M256.6 71.5h0M279.9 19h0M139.5 14.1h0M244.4 81.4h0M194.9 13.4h0M263.3 15.1h0M268.2 71.4h0M60 87.6h0M54.5 23h0M296 14h0M56.1 21.3h0M166.5 13.9h0M186 51.2h0M91.8 14.1h0M104.5 36.9h0M276.6 71.8h0M215 75.4h0M90 71.4h0M152.6 13h0M254.5 14.7h0M116.5 13.1h0M279.9 17.4h0M174.4 22.7h0M257.2 22.5h0M86.2 35.5h0M63 14.4h0M112.6 42.8h0M219.8 13.6h0M78.5 24.3h0M153.6 14.1h0M256.5 31.4h0M62.8 30.6h0M76.4 83.6h0M294.8 78.4h0M234.6 22.7h0M181.3 14.1h0M45.7 77.5h0M147.7 23.4h0M81.8 14.1h0M63.4 22.2h0M132 14.3h0M66.3 13.8h0M74.9 94.5h0M95.3 80.9h0M296.5 23.3h0M234.6 123.8h0M49.7 37.1h0M173.7 12.8h0M62.8 13.9h0M284 13.5h0M219.2 53.5h0M263.3 77.9h0M257.2 55.9h0M125.3 21.6h0M170.1 87.7h0M136 13.4h0M279.9 22.6h0M160.7 108.5h0M179 72h0M77.4 15.5h0M236.5 75.9h0M49.7 97h0M174.9 13.7h0M269.4 73.9h0M282.2 14.1h0M71.7 82.7h0M81.8 81.4h0M58.4 71.9h0M106.5 76.1h0M251 82.9h0M208.5 71.6h0M119.9 40.6h0M173.7 41.5h0M256.5 13.8h0M211.6 34.3h0M98.4 56.4h0M132.6 14.4h0M286.8 13.6h0M295.9 45.8h0M161.7 30.3h0M247 26.9h0M180.1 14h0M254.5 13.7h0M125.3 16.7h0M273.6 52.4h0M294.8 23.7h0M185 29.8h0M104.5 80.5h0M264.8 92.8h0M90.5 71.6h0M58.7 88.1h0M284 41.1h0M59.8 13.6h0M254.6 31.3h0M119.1 86.6h0M296 100.8h0M66.5 14.2h0M82.9 98.4h0M153.6 56.2h0M185.2 14.2h0M123 116.5h0M81.5 14h0M60 71.7h0M102 84.3h0M155.4 12.7h0M83.6 13.5h0M48.5 23h0M297.1 14h0M242.6 14.2h0M121.7 31.9h0M176.1 83.3h0M72.1 86.1h0M153 57.1h0M254.5 95.4h0M158.4 14.4h0M289.5 23.6h0M90.6 30.6h0M49.6 13.9h0M104.5 12.4h0M187.4 14.2h0M296 34.1h0M131.7 14h0M52.9 22h0M112.9 14.1h0M62.1 13.6h0M56.1 99h0M74.9 14.7h0M159.9 28.7h0M152.6 15.7h0" stroke="#45cff4" stroke-width="1.95" stroke-linecap="round" stroke-opacity="0.78" fill="none"/>
<path d="M145 105.7h0M174.9 105.2h0M256.7 96.7h0M125.4 32h0M80 97.1h0M157.6 105.4h0M230.5 25h0M174.2 105.2h0M274.6 83.2h0M291.2 31.5h0M201.8 76h0M138.3 34.3h0M169.1 45.8h0M83.6 106.9h0M284 108.3h0M210.6 34h0M146.9 58.2h0M237.1 94.6h0M249.2 96.4h0M98.9 59.4h0M155.4 23.8h0M55 11.3h0M83.6 106.9h0M137.3 28.9h0M215 79h0M271.1 72.8h0M271 74.4h0M195.8 31.5h0M223 97.3h0M119.2 106.4h0M289.9 45.3h0M176.9 28.6h0M207.3 51.3h0M147.7 106.3h0M254.7 96.6h0M271 93.4h0M273.6 96.1h0M138.8 47.3h0M86.3 107h0M289.5 107.9h0M224.3 31.1h0M245.2 31.4h0M289.9 36.7h0M134.6 43.6h0M109.5 44.1h0M90 85.7h0M288.4 28.4h0M222.3 97.6h0M233.6 94.9h0M118.6 106.1h0M274.6 96.6h0M83.5 106.3h0M78.1 37.6h0M207.8 97h0M107.4 100.7h0M234.4 94.7h0M215 82.1h0M116.2 105.9h0M296 13.9h0M54.9 31.7h0M282.2 107.4h0M239.5 30.9h0M66.3 78.2h0M236.5 32.6h0M132 12.3h0M112.9 48.7h0M182.1 104.5h0M134.6 64.4h0M134.6 104.9h0M117.8 106.1h0M45 19.5h0M71.8 43h0M98.4 32.7h0M58.8 109.4h0M102 106.3h0M219.8 98.1h0M187.9 31.8h0M253.9 49.7h0M224 75.3h0M97.6 106.1h0M221 97.6h0M57.8 109.2h0M109.4 80.3h0M173.7 49.5h0M271 96.6h0M104.3 94.2h0M269 28.7h0M86.5 99.2h0M271.1 89.2h0M266.2 74.6h0M193.8 92.4h0M104.7 106.3h0M297.2 46.4h0M204.7 60.5h0M101.4 106.4h0M111.3 106.5h0M194.3 26h0M166.5 105.5h0M111.3 79.8h0M174.9 75.9h0M120 105.5h0M119.1 106.1h0M57.8 57.5h0M239.5 84.9h0M136.8 105.8h0M247 19.2h0M229.8 101h0M264.2 50.6h0M169.7 105.4h0M268.2 25.7h0M273.6 28.7h0M249.7 32.1h0M269.1 25.7h0M52.9 21.5h0M223.9 75.5h0M45.9 22.3h0M207.4 30.5h0M97.5 30.3h0M160.7 105.9h0M293.7 107.7h0M145.4 86h0M267.8 88.2h0M266.2 11.9h0M213.3 97.4h0M51.4 59.1h0M176.9 81.9h0M266 32.2h0M249.6 28.9h0M86.3 22.2h0M214.1 97.4h0M264.2 31.5h0M106 19.3h0M264.2 24.1h0M210.6 97.5h0M298.4 106.9h0M84.5 76.4h0M104.3 95h0M276.5 22.3h0M131.8 31.4h0M205.6 31.2h0M294 38.5h0M239.4 32.1h0M213.2 95.2h0M109.4 83.7h0M249.2 12h0M271 25.7h0M250 25h0M249.2 35.6h0M276.5 26.3h0M251.4 96.8h0M152.6 63h0M45.7 110.1h0M138.2 79.8h0" stroke="#1e93f5" stroke-width="1.95" stroke-linecap="round" stroke-opacity="0.78" fill="none"/>
<path d="M90 44.4h0M254.5 32.7h0M174.4 55.6h0M276.6 27.2h0M239.4 15.1h0M76 9.9h0M222.5 11.6h0M214.1 41.8h0M181.5 10.1h0M157.6 12h0M79 52h0M211.6 68.6h0M49.7 67.5h0M159.4 8.9h0M51.8 41.1h0M157.7 67.2h0M287.4 9.4h0M63.4 9.3h0M103 10h0M104.3 8.6h0M110.4 34h0M119.2 66.9h0M187.9 67h0M277.9 9.3h0M223 10.2h0M182 31.6h0M95 70.1h0M111.4 9.9h0M52.3 8.9h0M49.5 55.3h0M224 11.5h0M138 10.7h0M297.1 11h0M123 10.1h0M237 16.7h0M58.8 15h0M148.5 11.1h0M63 68.2h0M111.4 11h0M167.7 11.1h0M194.9 22.2h0M104.3 8.8h0M116.2 69.1h0M194.3 8.5h0M268.1 27.1h0M91.2 10.3h0M297.1 10.7h0M111.8 68.6h0M98.9 80.5h0M242.6 10.6h0M58.4 26.3h0M62 8.6h0M49.9 9.2h0M294.9 13.9h0M90 53.1h0M245.2 30.8h0M242.6 10h0M264.2 28h0M153.8 11.6h0M131.8 8.7h0M161.7 51.3h0M219.2 9.2h0M157.7 9.1h0M278.3 10.5h0M115.8 11.1h0M158.1 8.9h0M52.9 10.1h0M249.2 8.6h0M211.6 39.3h0M166.2 10.6h0M66.9 77.6h0M75.1 8.6h0M156 9.9h0M115.8 61.8h0M135.5 10.3h0M213.2 8.2h0M161.7 68.2h0M49.6 50.8h0M297.9 67.9h0M169.7 31.5h0M230.5 67.5h0M90.6 59.4h0M83.6 8.4h0M146.5 68.5h0M266 11.4h0M131.7 10.3h0M293.5 29.4h0M216.4 8.9h0M112.9 10.7h0M101.4 9.5h0M112.9 105.7h0M70.9 12h0M80.6 52.3h0M57.8 11.7h0M188.2 8.2h0M156 8.6h0M117.8 41.8h0M237.1 23.3h0M157.6 10.2h0M211.6 27.9h0M157.7 35h0M262.3 9.5h0M250.2 19.6h0M233.6 48.9h0M211.3 67.9h0M133.8 67.7h0M224.6 10h0M84.5 9.8h0M268.1 69.2h0M167.3 9.5h0M285.2 11h0M205.6 11.8h0M74.9 11.2h0M286.2 32.8h0M249.6 48.4h0M264.2 8.3h0M139.5 79.9h0M68.1 25.4h0M201.8 79h0M271.1 86.1h0M216.4 97.9h0M90 9.1h0M230.5 9.7h0M83.8 8.1h0M242.6 15.2h0M58.8 11.8h0M91.8 24.2h0M205.6 67.8h0M293.7 8.5h0M133.8 11.4h0M213.7 10h0M266 15.3h0M269.1 51.1h0M245.7 8.8h0M102.1 79.2h0M257.2 8.8h0M117.8 8.5h0M111.3 66.2h0M193.4 67.9h0M97.2 68.1h0M274.6 10.1h0M297.1 8.5h0M173.4 37.1h0M119.9 48.3h0M242.7 15.3h0M83.6 10h0M174.7 8.6h0M171.4 64h0M205.6 12.1h0M231.7 9.2h0M66.3 10.1h0M67.8 28.3h0M298.4 10.2h0M147.2 8.5h0M87.7 8.5h0M193.4 9.1h0M297.1 16.5h0M193.4 8.8h0M112.6 12h0M117.1 67.4h0M216 80.5h0M249.6 14.3h0M219.2 9.3h0M195.1 10.2h0M253.9 8.5h0M61 66.4h0M254.6 10.4h0M296.5 11.7h0M173.7 8.5h0M54.9 27.4h0M249.7 9.7h0M289 10h0M232.8 67.5h0M216.1 11.1h0M299.2 11h0M194.9 27.3h0M224.6 10.8h0M162.6 11.2h0M263.3 38.4h0M286.5 15.9h0M133.9 41.3h0M111.8 67.3h0M193.4 51.6h0M194.9 38.4h0M45.7 69.5h0M51.4 9.3h0M179.4 89.5h0M250.2 25.6h0M255.4 23.3h0M239.4 10.7h0M109.4 68.7h0M78.5 9.3h0M76 10.5h0M61.4 71.6h0M289.9 10.9h0M58.4 9h0M288.8 9.2h0M286.2 53.7h0M77.4 52.3h0M87.9 9.5h0M260.3 11.9h0M268.8 11.1h0M252.7 28.8h0M195.8 66.6h0M108.3 9.1h0M159.1 11.8h0M59.6 9.3h0M256.5 46.7h0M182.1 10.5h0M244.7 11.6h0M239.4 15.2h0M188.2 81.4h0M207.8 11.2h0M262.3 10.7h0M83.2 15.6h0M267.8 100.6h0M239.5 11.1h0M82.4 87.6h0M278.3 46.7h0M292.7 11.5h0M278.3 56.2h0M241.6 48.2h0M133.9 67.1h0M284 11.1h0M50.8 21.7h0M174.9 8.1h0M48.8 86.2h0M97.2 10.7h0M298.4 67.9h0M205.6 10.5h0M76.6 10.6h0M46.2 10.7h0M160.7 8.3h0M253.9 11.9h0M171.7 27h0M176.1 11.4h0M86.3 15.7h0M256.5 40.9h0M162.6 10.2h0M249.2 8h0M118.6 10.7h0M278 9.8h0M269 11.1h0M293.7 21.8h0M293.8 10.5h0M133.9 9.5h0M269 11.9h0M248.3 33.6h0M268.8 25.2h0M108.3 8.7h0M153.6 73.6h0M271.3 39.6h0M167.3 11.6h0M89 25h0M174.7 10.8h0M120 18.2h0M119.9 38.2h0M68.1 9.7h0M166.5 8.9h0M142.6 11.3h0M103.8 11.5h0M152 97.1h0M45.9 8.1h0M186.5 9.6h0M271 67.9h0M293.5 12.8h0M186.5 8.7h0M136.8 80.3h0M289.5 8.7h0M102.1 11.5h0M110.4 67.4h0M153.6 42.1h0M188.8 11.5h0M177.5 10.5h0M106.5 9.2h0M296 67.1h0M295.5 67.2h0M81.8 8.9h0M111.1 66.5h0M289.9 33.7h0M179.4 24.3h0M111.3 43h0M251 9.3h0M286 68.8h0M71.7 40.3h0M221 10.3h0M93.4 10.9h0M264.8 11.4h0M224 9.3h0M61.8 9.7h0M104.5 10.3h0M181.1 38.6h0M163.1 68.2h0M163.1 20h0M276.5 9.3h0M293.8 11.2h0M72.1 48.3h0M63.4 10.7h0" stroke="#f65a58" stroke-width="1.95" stroke-linecap="round" stroke-opacity="0.78" fill="none"/>
<path d="M45.2 28.8h0M184 17.4h0M90.6 88h0M138.3 9.6h0M185.6 78.2h0M76 52h0M45.9 83.2h0M49.9 11.7h0M60.4 65.6h0M156 32h0M109.5 11.6h0M215 10.3h0M179.8 50.2h0M109.5 28.5h0M224.3 20.2h0M221 22.7h0M102.1 94.3h0M101.1 94.8h0M166.5 42.3h0M106.9 10.2h0M239.5 66.8h0M234.4 56.8h0M153 66.8h0M112.2 90.2h0M188.4 17.2h0M157.6 16.6h0M60.2 28.7h0M70.9 47.9h0M67.8 28.6h0M119.9 36.1h0M187.9 12.3h0M97.2 108.9h0M245.2 67.5h0M180.1 67.1h0M146.5 15.6h0M204.7 83.4h0M181.5 104h0M160.7 11.6h0M50.8 105.5h0M278.3 67.2h0M71.8 29.2h0M118.6 28.1h0M72.9 82.6h0M91.8 29h0M239.5 106.4h0M85.2 38.9h0M234.6 10.7h0M159.9 53.2h0M159.9 16.1h0M268.2 48.3h0M167.3 79.6h0M57.8 11.4h0M152.6 21.6h0M87.7 87.8h0M269.1 45.2h0M153.8 15.9h0M241.6 11.7h0M60.8 10.8h0M180.2 16.1h0M248.3 10.6h0M194.3 123h0M102.1 29h0M262.3 15h0M52.1 22.7h0M246.8 49h0M216 10.1h0M106.9 18.3h0M67.9 57.1h0M138 10.9h0M181.3 94.3h0M83.6 27h0M116.2 23.2h0M176.9 54.5h0M52.9 67.2h0M264.2 12.1h0M164.2 16.5h0M75.1 29h0M251.4 45.8h0M71.1 11.6h0M268.1 10.9h0M63.6 28.8h0M187.1 16.2h0M256.5 11.5h0M56.8 120.6h0M52.1 68.1h0M138.8 66.6h0M242.7 18.4h0M292.7 20.8h0M84.5 31.6h0M133.8 9h0M224.3 10.1h0M216.4 9.5h0M82.4 11.3h0M288.4 26.8h0M116.5 37h0M83.6 9.6h0M104.3 117.3h0M174.2 8.7h0M260.1 9.3h0M284.3 80.8h0M139.5 7.8h0M237.1 66.5h0M249.2 112.7h0M268.9 11.3h0M109.5 26.6h0M173.7 67.1h0M111.1 76.8h0M146.9 82.6h0M52.9 43.5h0M103.8 16.6h0M133.9 29h0M265.9 35.9h0" stroke="#f6bb2f" stroke-width="1.95" stroke-linecap="round" stroke-opacity="0.78" fill="none"/>
<path d="M249.7 75.5h0M108.3 39.9h0M213.3 58.7h0M173.4 27h0M76 58.9h0M224 59.1h0M249.7 57h0M288.4 57.2h0M86.2 58.1h0M294.9 27.6h0M83.6 35.7h0M111.3 94h0M83.6 58.9h0M56.8 58.3h0M295.5 50.5h0M246.8 98.5h0M83.5 58.3h0M293.7 25.8h0M132.7 59.5h0M147.1 41.3h0M279.9 32.3h0M185.2 58.2h0M59.6 59.7h0M214 34h0M50.8 59.1h0M68.1 38.1h0M234.4 116.7h0M71.4 57.7h0M66.6 22.5h0M234.4 66.7h0M146.9 58.6h0M286.8 42.5h0M204.7 57.9h0M174.1 58.4h0M239.4 21.7h0M275.5 25h0M297.1 21.4h0M45.9 119.4h0M156 53.3h0M232.8 41.9h0M161.1 13.9h0M185 59.7h0M67.8 77.4h0M245.7 16.3h0M207.3 114.6h0M214.1 58.6h0M60.4 59.5h0M288.8 24.8h0M230.5 56.2h0M49.7 16.5h0M63.6 57.2h0M82.9 59h0M195.1 117.9h0M277.9 54.1h0M273.6 20.5h0M65.5 46.4h0M82.9 37.4h0M60 24h0M223.9 16.7h0M179.8 57.6h0M297.2 21.8h0M109.5 53.9h0M45.9 57.2h0M176.9 49.2h0M157.7 84.3h0M184 33.2h0M211.3 57.9h0M71.1 122.4h0M221.1 119.6h0M49.9 49.7h0M98.9 34.4h0M224.6 49.9h0M210.6 29.3h0M68.1 20.3h0M245.7 28.5h0M251.3 56.3h0M80 58.4h0M62.8 58.5h0M136.8 39.2h0M188.4 57.1h0M111.4 84.2h0M207.8 111.3h0M208.5 58.5h0M207.3 124h0M78 28.9h0M184 40h0M106.5 75.4h0M71.7 118.6h0M293.8 23.9h0M230.6 22h0M180.4 58.5h0M86.5 58.4h0M230.5 18.3h0M293.5 28.7h0M130.1 57.5h0M290.2 36h0M201.8 75.1h0M237 56.3h0M260.1 113.3h0M138 60.1h0M63.4 100.2h0M273.6 39.7h0M49.5 81.3h0M104.5 17h0M294 19.7h0M147.1 58.1h0M88.4 57.7h0M205.3 24.1h0M284.9 19.2h0M263.3 55.1h0M245.8 52.1h0M271 43h0M108.5 68.2h0M110.4 59h0M275.5 57.5h0M262.3 26.1h0M158.1 109.7h0M58.4 24.9h0M234.4 20.3h0M57.8 26h0M268.1 55.2h0M268.9 13.9h0M286.5 56.9h0M97.6 58.5h0M74.9 32.6h0M66.6 35.4h0" stroke="#9a90f7" stroke-width="1.95" stroke-linecap="round" stroke-opacity="0.78" fill="none"/>
<path d="M289.5 69.8h0M201.8 80.3h0M249.2 43.5h0M278 88.9h0M260 69.4h0M84.5 89.7h0M216 31h0M224.3 69.7h0M230.5 16.2h0M225.9 33.9h0M223.2 97.7h0M76 84.1h0M254.7 29.2h0M50.7 70.2h0M112.3 69.9h0M119.9 70h0M185 79.5h0M299.2 56.4h0M185.4 72.7h0M156 80.4h0M284 70.4h0M95 69.3h0M76.4 75.9h0M174.9 30.7h0M213.7 89.3h0M48.8 69.3h0M98.4 69.8h0M205.3 69.8h0M297.1 94.4h0M90 45.1h0M187.9 30.3h0M223.9 98h0M167.3 70h0M63.5 48.7h0M231.7 75.8h0M156 69.8h0M278 73h0M98.4 39.4h0M101.4 70h0M70.9 69.7h0M201.8 70h0M166.2 106.3h0M223 69.9h0M268.8 36.9h0M176.1 21.3h0M204.7 69.8h0M71.4 92.5h0M241.6 18.4h0M174.7 72.4h0M205.6 93.8h0M186.8 70h0M294.9 93.7h0M116.5 29.8h0M161.1 22.7h0M289.9 23.9h0M167.3 73.1h0M67.8 83.1h0M162.6 73.1h0M254.6 69.7h0M51.8 69.4h0M109.4 73h0M192 69.7h0M205.6 106.8h0M249.2 69.5h0M279.9 69.6h0M83.8 37.2h0M251.3 17.7h0M146.5 72.9h0M289 93h0M66.6 89.1h0M234.4 88.2h0M146.3 24.2h0M296 33.9h0M83.5 97h0M250 69.9h0M159.9 69.9h0M168.8 69.6h0M293.5 118.2h0M273.3 47.7h0M179.8 69.7h0M173.7 69.6h0M126.5 69.7h0M97.6 115.8h0M48.5 70.2h0M125.3 70.1h0M268.1 93.9h0M142.6 69.7h0M289 99.2h0M66.5 98.7h0M293.8 69.6h0M91.8 70.2h0M254.6 76.4h0M181.5 69.4h0M244.4 23.5h0M296.5 72.5h0M266 50.3h0M116.2 43.6h0M63 29.1h0M86.7 80.3h0M244.7 53.4h0M223.2 75.2h0M273.3 82.9h0M90 90.8h0M103.8 86.9h0M169.7 70h0M151.3 72.7h0M106.5 20.3h0M52.1 72.8h0M262.3 88.9h0M256.5 74.4h0M74.9 72.5h0M191.7 70.1h0M250.2 27.5h0M234.4 97.4h0M269.1 69.9h0M87.7 72.9h0M157.7 95.6h0M238.8 80.6h0M215 51.1h0M95 43.3h0M136 25.6h0M187.1 22.4h0M249.2 69.4h0M207.4 42.4h0M177.6 74.3h0M113.5 70.1h0M58.4 87.1h0M71.8 69.9h0M46.2 70.1h0M156 69.7h0" stroke="#8bb52e" stroke-width="1.95" stroke-linecap="round" stroke-opacity="0.78" fill="none"/>
<path d="M293.7 13.5h0M66.6 82h0M77.4 14h0M237 32.4h0M249.7 46.5h0M112.3 34.9h0M109.5 13.9h0M207.8 74.4h0M108.5 13.7h0M203.1 20.1h0M195.1 14.4h0M237.1 22.2h0M97.5 78.9h0M83.6 13.9h0M241.6 39.6h0M109.5 73.6h0M84.5 14.2h0M274.6 83.6h0M82.9 42.1h0M58.8 14.7h0M45.9 13.7h0M49.5 22.6h0M269 54.5h0M45.2 19.5h0M219.2 27h0M138.2 92.6h0M194.9 22.3h0M268.2 84.3h0M188.4 47.3h0M161 13.6h0M284.3 14.1h0M106.5 94.9h0M133.8 14.1h0M118.6 46.9h0M246.8 84.2h0M208.5 21.5h0M82.4 96.6h0M207.8 14.1h0M295.5 30.6h0M146.3 13.9h0M138.2 80h0M158.4 50.6h0M145.4 91.3h0M112.9 99.7h0M189.9 84.3h0M260.1 14h0M152.2 13.9h0M101.1 13.7h0M245.7 46.3h0M66.5 34h0M116.5 14.1h0M242.7 23.1h0M185.4 13.1h0M287.4 13.9h0M52.3 24.3h0M95 14h0M151.3 14h0M71.8 34.8h0M111.8 27.6h0M111.8 72.7h0M239.5 83.2h0M50.8 73.5h0M287.4 84.6h0M170.2 14h0M222.3 71.9h0M169.7 79.6h0M242.7 74.4h0M46.2 22h0M173 14.4h0M126.5 20.9h0M112.6 14h0M54.9 14h0M112.2 81.2h0M109.5 81.7h0M275.3 13.5h0M230.4 12h0M230.5 89.9h0M64 95.4h0M208.5 18.4h0M80 14.1h0M286.2 13.9h0M284.3 35.7h0M145.6 76.1h0M290.2 13.8h0M284 19.6h0M284.9 98.3h0M158.1 33.3h0M240.7 14h0M125.4 70.7h0M157.7 24.5h0M120 14.7h0M170.1 71.2h0M176.9 13.9h0M239.4 18.8h0M119.2 14.5h0M167.7 14.4h0M98.4 93h0M203.1 71.9h0M205.6 14.2h0M256.5 80.7h0M211.6 43h0M284.3 22.8h0M112.6 17.3h0M86.2 14.3h0M193.4 87h0M74.9 76.6h0M112.9 87.4h0M248.3 39.4h0M74.9 14.1h0M76 79.6h0M132.7 13.7h0M71.4 71.9h0M60.8 32.8h0M186 40.5h0M205.6 13.7h0M103.8 13.9h0M138.2 14h0M103 13.8h0M45.2 13.5h0M176.1 77.1h0M162.6 12.7h0M111.8 71.7h0M104.5 46.4h0M71.7 89h0M210.6 14.2h0M48.8 13.5h0M95 28.4h0M140.3 71.7h0M82.3 13.8h0M264.2 20.2h0M294.8 101.2h0M229.8 13.9h0M156 12.4h0M101.4 76.9h0M67.8 14.1h0M117.8 71.8h0M118.6 23.2h0M49.6 86.5h0M221.7 13h0M119.2 98.3h0M207.4 14.2h0M186 14h0M222.5 13.7h0M245.2 23.2h0M83.2 72.1h0M50.7 70.8h0M116.2 72h0M135.5 79.8h0M237.1 32.7h0M215 13.8h0M86.3 13.8h0M168.8 53.6h0M76 84.9h0M119.1 87.6h0M61.4 71.4h0M66.6 71.6h0M260.3 13h0M179.4 13.6h0M230.5 40.3h0M296.5 20.9h0M209.6 13.9h0M55 14.1h0M297.9 17.6h0M98.9 29.9h0M166.3 86.5h0M93.4 12.2h0M67.9 45.6h0M86.5 14.4h0M161.1 83h0M71.7 22.4h0M221.1 31.2h0M134.6 13.5h0M231.7 73.2h0M230.6 13.7h0M204.7 14.2h0M223.9 49.3h0M229.8 43.9h0M294.8 79h0M71.1 71.5h0M246.8 13.3h0M265.9 32.3h0" stroke="#45cff4" stroke-width="1.95" stroke-linecap="round" stroke-opacity="0.78" fill="none"/>
<path d="M188.2 104.6h0M293.5 107.6h0M239.5 49.3h0M162.6 105.2h0M237.1 30.7h0M181.3 36.7h0M161.7 105.4h0M72.9 18.4h0M66.5 89.8h0M78.1 106.6h0M262.3 96h0M132.7 106h0M297.1 45.3h0M114.2 12.3h0M95 99.9h0M52.3 109.2h0M245.8 31h0M292.2 39.2h0M191.7 107.3h0M109 27.1h0M256.6 11.8h0M167.3 51.3h0M66.9 21.1h0M121.7 77.7h0M213.2 51.7h0M166.5 57.5h0M264.2 102.6h0M86.5 107.4h0M269.1 22.9h0M297.2 39.3h0M111.3 80.8h0M194.5 23h0M286.8 80h0M152.2 105.5h0M125.3 32.7h0M213.2 31.6h0M176.1 105.6h0M158.4 90.8h0M270 27.8h0M207.3 87.9h0M63.6 109h0M111.8 106.4h0M84.5 107h0M257.2 96h0M78 106.5h0M234.4 81.4h0M236.5 41.3h0M278 81.7h0M66.9 13h0M112.9 106.7h0M45.9 27.1h0M103 27.8h0M295.9 96.1h0M239.5 57.1h0M294.8 107.7h0M170.2 105.6h0M179.4 98h0M67.9 76.1h0M123 32.6h0M176.9 52.4h0M295.9 74.1h0M108.3 31.1h0M112.7 96.1h0M245.7 32.3h0M273.3 27.8h0M296.5 107.3h0M71.1 81.2h0M137.3 105.9h0M66.3 109.3h0M224 58.3h0M211.3 97.5h0M155.4 105.5h0M216 35.5h0M247 74.4h0M140.3 50.5h0M266 26h0M232.8 42.6h0M78 78.9h0M106 106.1h0M83.6 106.3h0M60.2 85.9h0M86.2 98.7h0M297.2 75.2h0M204.7 96.9h0M268.2 24.3h0M45.9 87h0M45.2 76.9h0M185 105.1h0M284.3 107.6h0M232.6 99.2h0M252.9 33.8h0M239.5 32.5h0M263.3 97.1h0M268.8 30.7h0M65.5 109.1h0M253.9 79.9h0M66.5 17.9h0M173 105.9h0M268.2 82.3h0M203.1 97.7h0M45.9 12h0M109.5 86h0M224 97.3h0M289.9 107.5h0M254.6 31.6h0M133.9 12.7h0M205.3 48h0M216 31.8h0M286 95.9h0M72.1 109.2h0M67.8 99.4h0M287.6 107.4h0M91.8 31.7h0M146.5 31.4h0M49.6 109.6h0M52.1 57.3h0M216.1 31.5h0M216.1 30.1h0M112.9 84.7h0M287.6 58.8h0M237 30.1h0M71.1 41.8h0M45.2 109.1h0M237 24.1h0M82.9 106.2h0M295.9 76.1h0M62.8 20h0M187.4 105h0M83.2 31.4h0M240.7 94.3h0M154.4 106.2h0M231.7 18.9h0M50.7 79.6h0M212.1 46.4h0M78.1 107.2h0M291.2 27.7h0M173.7 77.2h0M83.5 36.5h0M60.4 73.9h0M117.8 99.8h0M161.7 85.6h0M173.4 19.8h0M247 32.6h0M122.8 35.5h0M260 92h0M253.9 91.1h0M184 31.6h0M185 74.2h0M60.4 109.5h0M49.5 109.7h0M116.5 106.5h0M188.2 75.2h0M268.9 96.4h0M289.9 36.6h0M45.2 82.7h0M146.5 106h0M194.9 107.5h0M250 46.7h0M153.6 105.7h0M296.5 84.4h0M232.6 19.6h0M96.4 106.4h0M254.6 100.4h0M163.1 92.7h0" stroke="#1e93f5" stroke-width="1.95" stroke-linecap="round" stroke-opacity="0.78" fill="none"/>
<path d="M104.5 66.8h0M266.2 15.1h0M136.8 9.8h0M138.3 11.5h0M184 67.9h0M231.7 48.2h0M61 23.3h0M268.8 11.3h0M98.9 26h0M114.2 11.8h0M162.6 14h0M93.4 9.7h0M194.3 10.4h0M86.5 9.8h0M234.6 8.2h0M201.8 9.8h0M185.2 68.6h0M54.5 17.3h0M179.4 8.3h0M255.4 67.6h0M292.2 11.6h0M256.7 9.9h0M271.1 10.9h0M106.5 29.4h0M108.5 50.3h0M152.6 10.3h0M71.4 8.6h0M122.8 67.2h0M246.8 65h0M95.3 65.7h0M186 47.9h0M62.8 26h0M166.5 9.6h0M58.7 9.7h0M179 9.8h0M63.5 46.2h0M288.4 16h0M244.4 8.2h0M284.3 8.2h0M296 8.5h0M248.3 8.1h0M101.4 44.5h0M90.6 8.2h0M209.6 9.4h0M78.1 83.3h0M223 53h0M115.8 9.1h0M173 59.6h0M251.3 15.1h0M253.9 16.3h0M213.3 8.3h0M181.3 30.7h0M48.8 9.9h0M147.2 66.9h0M250.2 77h0M221.7 9.8h0M249.7 16.5h0M274.6 9.2h0M171.4 69.5h0M194.9 11.5h0M224 14.4h0M51.8 16.5h0M275.3 9.6h0M152.2 34.3h0M176.1 68h0M224.3 8.2h0M112.7 8.1h0M170.2 9.1h0M177.5 84.6h0M295.9 8.5h0M278.6 77.5h0M109.5 11.6h0M294.9 15.9h0M114.2 12h0M61 9.2h0M82.9 9.9h0M293.8 67.1h0M205.7 67.3h0M72.9 10.3h0M214.1 10h0M132.6 9.1h0M86.2 68.1h0M104.3 67.3h0M254.5 11.9h0M247 8.8h0M260 16.1h0M299.2 14.5h0M209.6 11.4h0M55.6 22.8h0M189.9 11.3h0M71.8 14.2h0M260 9.9h0M249.7 15.6h0M173.7 11h0M241.6 14.3h0M152.2 20.7h0M64 9.3h0M81.8 47.4h0M82.9 76.2h0M125.4 8.9h0M278.3 35.8h0M138.8 10h0M60.4 9.7h0M264.8 65.7h0M245.7 67.3h0M239.5 8.5h0M75.1 29.5h0M233.6 67h0M102 8.4h0M195.1 8.9h0M116.5 67.3h0M290.2 11.6h0M146.9 61.9h0M237.1 8.2h0M263.3 32.1h0M177.5 10.8h0M106.5 10h0M152.2 9.5h0M98.9 45.9h0M171.7 48.4h0M87.9 66.7h0M280.3 11.7h0M286 27.3h0M119.2 80.8h0M279.9 67.1h0M185 10.3h0M50.7 10.3h0M225.9 8.9h0M260 10.9h0M247 11.2h0M51.4 43.6h0M103 10.4h0M216.4 47.3h0M294.8 9.9h0M263.3 40.7h0M146.9 10.7h0M290.2 40.4h0M254.6 8.7h0M293.5 15.7h0M204.7 69.3h0M278.3 8.7h0M216.4 34.2h0M153 9.5h0M90.5 75.3h0M78.1 82.1h0M187.9 10.4h0M278.3 19.4h0M189.9 8.1h0M180.1 10.6h0M244.4 11.4h0M252.9 70.8h0M136.8 8.8h0M63 11.6h0M87.9 37.8h0M299.2 10.8h0M51.8 32.3h0M268.2 39.2h0M215 25.4h0M207.4 10.6h0M80.6 11h0M125.4 67.7h0M271 15.3h0M152.2 9.2h0M179 91.2h0M213.2 10.1h0M246.8 68.4h0M49.5 11.4h0M285.2 9.2h0M177.6 8.2h0M135.5 67.6h0M180.4 9.9h0M179 29.8h0M86.2 8.6h0M152.6 68.3h0M289.9 15.5h0M289 8.4h0M166.3 10.3h0M119.2 10.2h0M137.3 10.1h0M132 9.9h0M54.9 9.7h0M57.8 23.5h0M286.2 9.6h0M87.7 9.9h0M85.2 69.1h0M125.3 11.8h0M48.5 68h0M252.7 21.2h0M79 42h0M179.4 46.7h0M103.8 76.5h0M284.9 9h0M245.8 12h0M62 10h0M296.5 48.3h0M157.6 52.5h0M187.9 32.9h0M159.9 11.6h0M118.6 41.2h0M222.3 11h0M249.6 38.3h0M288.4 8.6h0M162.6 11.1h0M293.7 34.6h0M245.2 10.7h0M276.5 68.3h0M84.5 8.8h0M294 11.8h0M45 69.4h0M49.5 96.5h0M158.4 10.3h0M249.7 15.2h0M116.5 9.5h0M185.4 10.9h0M248.3 11.7h0M278.6 9.8h0M229.8 8.7h0M266 9.8h0M60 18.4h0M139.5 11h0M67.9 66.1h0M109.5 11.4h0M238.8 11.1h0M256.5 10h0M270 89.5h0M93.4 55.3h0M202.2 14.2h0M212.1 11.3h0M201.8 8.7h0M295.9 106.9h0M174.7 78.1h0M97.2 68.2h0M244.7 20.2h0M241.6 9.5h0M106.9 10.3h0M161.7 8.2h0M146.3 8.1h0M174.4 36.6h0M55.6 8.7h0M244.4 67.3h0M245.8 11.6h0M78 9.8h0M59.6 39h0M109 77.3h0M83.6 9.6h0M179.8 10.4h0M223.9 9.3h0M171.7 17.5h0M147.1 16h0M80 11h0M231.7 16h0M107.5 9.1h0M117.8 54.4h0M242.7 23.8h0M58.7 28.5h0M58.8 8.8h0M280.3 11.7h0M195.1 69.5h0M249.2 10.3h0M181.1 10.8h0M122.8 31h0M145 10.6h0M146.5 10.5h0M161 26.4h0M265.9 40.6h0M64 50.7h0M291.2 10.5h0M98.9 81.8h0M222.5 28h0M167.3 11.1h0M239.4 15.7h0M251 8.9h0M268.1 49.1h0M50.8 10.1h0M286.8 67.5h0M164.2 8.6h0M61.4 9.2h0M284 9.5h0M234.4 49.4h0M223 22.5h0M260.1 16.3h0M103 37h0M90.5 8.4h0M83.5 11.3h0" stroke="#f65a58" stroke-width="1.95" stroke-linecap="round" stroke-opacity="0.78" fill="none"/>
<path d="M231.7 40.7h0M117.1 86.9h0M193.8 46.8h0M116.2 115h0M231.7 9.9h0M237 55.5h0M49.6 28.4h0M126.5 11h0M286 67.3h0M58.8 27.7h0M86.2 17.7h0M250.2 9.9h0M83.2 66.9h0M109.4 28.1h0M83.6 19.8h0M45 28.9h0M132.6 12.1h0M126.5 119.8h0M185 18.7h0M52.3 102.8h0M117.8 46.4h0M223.9 9.9h0M222.5 12.1h0M167.3 16.5h0M207.8 10.8h0M185.2 16.3h0M284.9 8.4h0M72.1 26h0M249.2 10.3h0M211.6 66.2h0M174.1 16.2h0M112.2 29.3h0M142.6 66.3h0M119.1 100.2h0M294.9 17.1h0M187.1 33.1h0M271 92.5h0M86.2 28.9h0M174.9 16.5h0M170.1 68.7h0M134.6 28.6h0M59.8 67.1h0M204.7 26.6h0M195.8 100.3h0M138.6 68.8h0M267.8 10.8h0M51.8 27.3h0M153.6 17.4h0M273.6 25.7h0M282.2 9.4h0M186.5 10.6h0M201.8 66.5h0M62.8 16.5h0M297.1 36.4h0M90 30.2h0M179.4 17.2h0M78.5 110.4h0M86.7 27.8h0M260 10.1h0M95 28.1h0M291.2 76h0M277.9 11.5h0M77.4 66.6h0M297.1 18.4h0M78.1 28.4h0M271 10.2h0M72.1 74.1h0M179 16.3h0M61 94.3h0M195.1 10.9h0M278.6 73.8h0M152.6 9.3h0M50.7 32.6h0M55.6 10.8h0M250 97.1h0M254.7 10.4h0M293.5 117.1h0M221 26.4h0M66.5 78.8h0M186.8 11h0M230.6 82.3h0M296 11.4h0M256.7 32.6h0M51.4 28.6h0M111.3 89h0M112.6 29.9h0M245.7 55.5h0M180.1 19.1h0M46.2 106.1h0M239.4 66.7h0M293.5 17.4h0M50.8 34.8h0M125.3 9.8h0M201.8 77.4h0M91.2 92.3h0M234.4 9.1h0M63.4 67.3h0M233.6 75.3h0M49.5 67.5h0M260 119h0M296 36.7h0M288.8 21.4h0M50.7 9.7h0M292.2 10.8h0M121.7 9.4h0M180.2 36.3h0M98.4 28.6h0M91.8 75.4h0M54.9 93h0M103 28.5h0M256.5 45.8h0M297.1 101h0M63.5 9.6h0M160.7 35.8h0M95.3 90.9h0M91.2 28.6h0M242.6 10.8h0M97.5 9.7h0M216.1 17.3h0M284 49.8h0M221.1 8.6h0M83.6 11.8h0M88.4 67.1h0M133.9 66.2h0M159.4 14.8h0M231.7 9.4h0M148.5 11h0M245.8 8.7h0M230.6 10.3h0M133.9 118.8h0M173.7 16.3h0M295.9 97.5h0M83.5 28.4h0M123 67.1h0M158.1 20h0M230.6 23.1h0" stroke="#f6bb2f" stroke-width="1.95" stroke-linecap="round" stroke-opacity="0.78" fill="none"/>
<path d="M242.6 30.2h0M280.3 56.5h0M237 23.7h0M195.1 33.2h0M152 59.5h0M63 58.1h0M288.8 28h0M106.5 23.7h0M257.2 30.4h0M213.2 39.1h0M182.1 56.9h0M184 58.3h0M45.9 15.3h0M271 18.8h0M222.5 23.9h0M264.8 56.5h0M171.7 57.6h0M177.6 58.4h0M271.3 80.6h0M117.8 58.5h0M223 58.8h0M46.2 31.1h0M249.6 26.2h0M111.8 33.4h0M251.4 31h0M138.3 36.1h0M242.6 25.8h0M106 60.2h0M299.2 38h0M270 117.8h0M56.1 47.8h0M52.3 58.6h0M166.5 15.5h0M254.5 32.6h0M180.1 35.9h0M194.9 117.1h0M173 58.7h0M145.6 112.6h0M152.2 33h0M56.1 59.4h0M86.2 23.9h0M297.1 55.5h0M134.6 58.1h0M91.2 59.2h0M181.1 59.4h0M166.5 35.2h0M207.4 58h0M176.1 23.5h0M104.3 21h0M234.6 32.1h0M234.4 66.7h0M297.1 46.3h0M111.3 58.9h0M55 120.8h0M240.7 57.3h0M63.5 28.2h0M133.9 70.1h0M96.4 61h0M293.7 22h0M101.1 108.5h0M52.1 57.4h0M271.1 122.9h0M210.6 57h0M56.1 31.6h0M222.5 59.6h0M87.9 42.4h0M195.8 17.9h0M247 56.5h0M46.2 69h0M244.4 56.2h0M278.3 28.6h0M244.4 23.7h0M51.8 43.6h0M265.9 25.3h0M87.9 42h0M146.5 18.3h0M109.5 46.3h0M215 28.4h0M103 59h0M233.6 56.6h0M254.6 55.2h0M71.8 67.9h0M279.9 18.9h0M296.5 14.5h0M106.5 28.1h0M145.4 112.4h0M268.8 20h0M152.2 116.2h0M62 44h0M132.6 115.5h0M162.6 59.1h0M101.4 58.7h0M156 19h0M138.6 32.8h0M93.4 57.7h0M204.7 59.6h0M114.2 59.1h0M269.4 24.2h0M194.9 58.5h0M169.7 32.8h0M63.6 23.2h0M93.4 33.1h0M249.2 55.9h0M179.8 115.4h0M209.6 123.5h0M138.2 46.6h0M284 56.7h0M264.2 40.8h0M125.4 30.2h0M71.8 18.7h0M147.7 28.5h0M266.2 56.6h0M119.2 57.5h0M132.6 21h0M294.8 47.1h0M256.5 56.3h0" stroke="#9a90f7" stroke-width="1.95" stroke-linecap="round" stroke-opacity="0.78" fill="none"/>
<path d="M245.8 69.7h0M230.6 69.3h0M97.6 121.5h0M136.2 70.3h0M96.6 69.6h0M96.6 85.4h0M45.2 84.5h0M62.1 36.6h0M289 69.7h0M63.5 70.4h0M84.5 92.1h0M214.1 70h0M195.1 72.4h0M51.4 69.6h0M78 111.9h0M97.2 70.3h0M138.6 19.6h0M185.2 78.6h0M103.8 69.6h0M293.5 118.3h0M253.9 70h0M145 47.8h0M236.5 86.4h0M268.1 80.7h0M248.3 101.1h0M213.3 70h0M251 70.2h0M253.9 29.1h0M132.7 69.8h0M289 81.2h0M170.2 70.1h0M239.5 32.8h0M59.8 69.8h0M204.7 93.5h0M297.9 69.8h0M118.6 69.5h0M153 70h0M204.7 51.4h0M271.3 55.8h0M265.9 70h0M139.5 69.8h0M83.6 69.4h0M174.1 70h0M131.7 83.3h0M96.4 77.8h0M241.6 31.9h0M208.5 70.2h0M112.9 72.9h0M268.1 70.2h0M205.7 98.7h0M138 97.1h0M76.6 69.7h0M113.5 90.1h0M45.2 98.4h0M153.8 86.7h0M66.3 92.3h0M188.4 69.9h0M289 27.8h0M180.1 90.6h0M213.7 85.8h0M159.4 70.1h0M268.1 92.4h0M269.4 70.1h0M83.6 70.2h0M166.2 70.1h0M171.7 77.7h0M282.2 70h0M167.7 81.5h0M266.2 50.3h0M147.7 16.3h0M133.9 38.9h0M147.7 79.9h0M145.6 92h0M136.8 74.5h0M84.5 55.6h0M109.5 84.8h0M111.8 72.5h0M257.2 49.8h0M63.5 73.1h0M297.9 49.7h0M286 72.6h0M133.8 77.8h0M260.3 70.1h0M104.5 69.9h0M297.2 69.3h0M125.4 75.1h0M214 69.9h0M147.1 69.9h0M288.4 69.8h0M284 79.1h0M54.5 69.5h0M89 70.2h0M245.2 41.4h0M254.6 69.8h0M184 69.6h0M75.1 70h0M191.7 82.8h0M78.1 84h0M257.2 86.8h0M130.1 23h0M277.9 20h0M163.1 84.2h0M207.4 84h0M187.1 82.1h0M120 70h0M55.6 33.3h0M138.2 94h0M45.9 82.8h0M240.7 108.1h0M294.9 69.9h0M106.5 74.1h0M234.4 116.8h0M146.9 70h0M284.9 38.8h0M219.2 69.5h0M195.1 84.1h0M240.7 91.9h0M179 69.6h0M203.1 83.7h0M45.9 103.2h0M103.8 99.8h0M78.5 70.2h0M244.4 101.4h0" stroke="#8bb52e" stroke-width="1.95" stroke-linecap="round" stroke-opacity="0.78" fill="none"/>
<path d="M145 13.8h0M256.5 29h0M122.8 13.9h0M75.1 15.3h0M299.2 94h0M54.5 14.5h0M194.9 87.5h0M72.9 84.4h0M91.2 34.4h0M207.3 21.2h0M216.4 13.9h0M181.5 14.2h0M106 72.3h0M65.5 29.4h0M249.7 71.6h0M98.4 77.4h0M95 13.7h0M68.1 70.7h0M112.7 14h0M83.6 23.4h0M62.8 51.8h0M237 24.4h0M59.6 38.2h0M296.5 43.7h0M112.7 15h0M119.2 15.5h0M244.7 35.3h0M137.3 13.7h0M136.8 25.1h0M186.8 79.6h0M173.4 13h0M138 13.8h0M180.4 23.1h0M177.5 84.8h0M176.1 22.3h0M147.2 13.7h0M167.3 14h0M244.7 23.7h0M104.3 13.6h0M179 78.9h0M239.5 41.6h0M252.7 36.4h0M251 72.3h0M118.6 95.1h0M186.8 14.5h0M119.9 90h0M265.9 13.8h0M89 86.8h0M104.5 89h0M276.6 94.8h0M83.2 90.4h0M252.7 71.6h0M118.6 75.5h0M294.8 20h0M269.4 14h0M76.4 37h0M83.8 13.7h0M162.6 48.9h0M50.7 19.8h0M296.5 17.2h0M81.8 84.9h0M78.1 77.4h0M207.3 48.9h0M268.1 13.9h0M170.1 14.8h0M157.7 14.2h0M269.4 28.7h0M48.8 41.5h0M195.8 22.4h0M205.3 24.2h0M82.4 13.8h0M137.3 101.4h0M266.2 85.6h0M83.2 75.9h0M77.4 83.7h0M213.2 23.2h0M162.6 51.6h0M52.1 13.9h0M187.4 38.8h0M249.2 71.2h0M250.2 13.9h0M167.3 74.3h0M260.3 71.8h0M289 72.2h0M273.6 71.3h0M61 82.9h0M191.7 43.7h0M78.1 13.4h0M138.8 40.4h0M45.2 75.5h0M213.3 29.3h0M179 36.7h0M110.4 13.5h0M87.7 21.6h0M225.9 12.4h0M68.1 27.8h0M51.8 33.6h0M159.9 14h0M162.6 73.6h0M271.1 22.5h0M278 23.6h0M166.5 14.5h0M244.4 14.1h0M247 34.5h0M103 85.6h0M185 14.4h0M156 22.2h0M160.7 77.9h0M61 13.5h0M97.2 70.5h0M269 23.1h0M297.1 56.6h0M264.8 14.1h0M95.3 101.7h0M112.6 28.3h0M152 12.9h0M286.8 33h0M251.3 20.5h0M285.2 26.5h0M86.2 25.6h0M234.6 22.6h0M271.3 44.6h0M214 25.7h0M168.8 13.8h0M268.9 51.9h0M176.9 22h0M58.8 14.1h0M107.4 79h0M260 13.6h0M112.9 101.1h0M293.7 51.8h0M107.5 31.4h0M153.6 44.5h0M188.4 54.9h0M257.2 12.4h0M211.6 56.8h0M132 93.4h0M173.7 23.2h0M63 98.5h0M138.3 71.6h0M251 13.9h0M138.6 13.9h0M292.7 82.5h0M219.2 14.1h0M64 33.6h0M84.5 55.1h0M162.6 77.9h0M224.3 13.8h0M103 22h0M71.1 31.6h0M112.3 71.8h0M50.7 75.8h0M123 93.3h0M191.7 78.6h0M192.7 13.4h0M290.2 43.1h0M237 36.1h0M78.4 14.5h0M286.5 38.2h0M112.9 80.8h0M166.3 13.9h0M63.5 14h0M166.2 13.8h0M264.2 14.1h0M247 92.5h0M268.8 13.7h0M76 13.6h0M262.3 89.5h0" stroke="#45cff4" stroke-width="1.95" stroke-linecap="round" stroke-opacity="0.78" fill="none"/>
<path d="M76 109.1h0M112.2 106.2h0M289.9 92h0M270 31.8h0M286.2 31.7h0M98.4 28.9h0M210.6 22.2h0M290.2 107.5h0M152.6 80h0M83.2 30.6h0M280.3 85.4h0M112.3 105.9h0M152.6 105.8h0M111.1 106.8h0M159.9 105.7h0M266 88.6h0M97.2 106.5h0M55 97.3h0M242.7 26.7h0M112.6 17.8h0M104.3 106.2h0M252.9 97.2h0M230.4 90.5h0M55 51.9h0M95 32.4h0M82.3 106.9h0M122.8 106h0M155.6 105.4h0M82.9 90.2h0M138.2 50.7h0M151.3 23.7h0M81.8 101.5h0M250 32.7h0M297.2 80.9h0M279.9 22.4h0M62.1 108.9h0M76 35.1h0M179 106h0M62 109.3h0M95.3 106.5h0M292.7 25.4h0M230.5 21.7h0M72.9 31.4h0M292.7 107.4h0M78.1 18.6h0M267.8 96.7h0M78 108.7h0M117.1 105.7h0M106.9 106h0M112.7 106.1h0M77.4 13.6h0M202.2 97.7h0M107.5 71.8h0M192 19.2h0M296 81.4h0M67.8 109h0M111.3 31.8h0M239.5 22.9h0M213.7 97.7h0M203.1 30.3h0M111.3 33.9h0M202.2 92.9h0M181.3 105.1h0M215 96.8h0M58.7 103.4h0M85.2 36.3h0M64 40h0M234.4 21.1h0M166.5 86.8h0M117.8 97.5h0M260.1 25h0M60.2 102.7h0M291.2 42.8h0M191 12.5h0M297.2 33h0M59.8 31h0M114.2 38.9h0M269.1 82.5h0M234.6 37.5h0M159.9 80.9h0M98.4 51.1h0M252.9 21.5h0M250.2 97.1h0M171.4 30.3h0M267.8 18.1h0M221.1 34.5h0M45.9 97.4h0M133.9 78.1h0M223.2 12.4h0M265.9 96.8h0M62.8 109.4h0M50.7 11.6h0M90.5 106.4h0M192.7 107.3h0M234.4 31.3h0M242.6 94.6h0M166.3 104.9h0M138.6 105.9h0M170.2 25.7h0M76.4 109h0M255.4 34.7h0M106.9 27.2h0M174.9 31.1h0M66.5 109.8h0M271.1 96.5h0M163.1 18h0M166.5 24.3h0M64 109.4h0M116.2 24.3h0M249.6 96.7h0M250.2 58.6h0M111.4 105.9h0M75.1 109.7h0M167.3 105.6h0M289 31.6h0M60.2 31.5h0M230.5 95.4h0M61 98.5h0M280.3 33.5h0M265.9 33.6h0M179.8 82.4h0M158.4 93.1h0M223 27.2h0M241.6 94.8h0M250 97h0M56.1 73.4h0M106.9 35.9h0M232.6 101.6h0M70.9 109.3h0M269.4 52.2h0M253.9 94h0M107.5 12h0M290.2 37h0M82.4 80.8h0M289 31.2h0M245.7 98.9h0M254.5 96.7h0M166.5 105.4h0M103 52.5h0M251 30h0M54.9 47.9h0M106.9 32.2h0M174.9 22.8h0M109.5 11.3h0M122.8 97.4h0M109.4 24.5h0M194.9 107.6h0M59.6 109.4h0M82.9 99.7h0M232.6 83.9h0M133.8 105.5h0M293.8 107.2h0M93.4 106h0M295.5 11.8h0M152 46.6h0M147.1 106.1h0M205.3 98.3h0M295.9 27.1h0M115.8 94.6h0M91.2 106.2h0M239.5 48h0M60 45.2h0M138.2 105.5h0M158.1 105.9h0M295.9 31.7h0M168.8 105h0M286.5 108h0M234.4 94.4h0M209.6 96.7h0M140.3 25.8h0" stroke="#1e93f5" stroke-width="1.95" stroke-linecap="round" stroke-opacity="0.78" fill="none"/>
<path d="M294.8 28.9h0M229.8 27.4h0M174.2 94.3h0M216 11.8h0M79 10.3h0M254.6 10.2h0M109.5 11.6h0M184 10.4h0M286 67.5h0M52.9 9.4h0M286.5 10.6h0M76.6 8.9h0M222.3 7.9h0M273.6 68.2h0M167.3 8.5h0M96.4 54.8h0M167.3 10.9h0M91.2 9.4h0M167.3 53h0M264.2 16.4h0M247 10.7h0M260 11.2h0M265.9 8.2h0M270 11.6h0M295.5 11.5h0M77.4 8.3h0M112.9 11.6h0M86.3 9h0M245.2 84.8h0M242.7 8.3h0M187.1 12h0M161 50.2h0M106.9 9.4h0M260.1 9.3h0M45 61.2h0M78 89.5h0M62.1 18.5h0M97.5 10.3h0M277.9 42.9h0M126.5 8.7h0M263.3 11.5h0M223.9 67.7h0M167.3 86.3h0M278.6 10.5h0M106.9 30.4h0M133.9 8.2h0M252.9 68.8h0M284.9 10.9h0M242.6 15.1h0M62.1 9.8h0M293.8 8.2h0M191 11.8h0M289.5 15.9h0M48.5 9.6h0M179.4 10.8h0M256.6 16.2h0M96.6 96.6h0M177.6 11.4h0M254.5 8.9h0M204.7 8.7h0M126.5 27.5h0M109.5 11.5h0M182.1 67.4h0M68.1 67.3h0M170.1 9.5h0M260 15.8h0M275.5 29.8h0M251 11.5h0M269 47h0M234.6 106.4h0M299.2 15.1h0M96.6 17.7h0M54.5 35h0M120 14.6h0M289.9 9h0M97.6 8.5h0M240.7 9.3h0M79 9.7h0M221 8.3h0M74.9 63.8h0M260.1 8.1h0M168.8 8.9h0M97.6 67.5h0M76 80.2h0M267.8 14.6h0M95.3 8.4h0M185.6 11.5h0M157.6 8.9h0M125.3 8.3h0M276.6 11.4h0M83.6 10.2h0M138.2 71.4h0M274.6 31.5h0M250 68.7h0M49.7 10.9h0M264.8 48.4h0M174.7 67.6h0M138.2 69.2h0M171.4 10.5h0M131.7 67.9h0M104.7 9.9h0M211.6 11.1h0M83.6 72.8h0M186 9.4h0M222.3 25.7h0M87.9 67.8h0M205.3 10.7h0M213.7 9.9h0M95 10.5h0M181.3 11.2h0M146.3 25.2h0M161.7 9.4h0M138.6 48.6h0M66.9 67.7h0M61.4 11.3h0M62 87.1h0M173 37.1h0M54.5 8.7h0M297.9 11.8h0M284.9 68.7h0M292.2 8h0M288.8 9.5h0M103 18h0M104.5 33.9h0M286.2 9.4h0M63.5 10.1h0M90.6 8.6h0M83.6 40.6h0M159.4 47.8h0M229.8 8.3h0M219.2 11.7h0M159.4 52.2h0M162.2 46.2h0M152.6 9.6h0M234.4 69.2h0M269.4 11.2h0M256.5 14.2h0M163.1 11.8h0M123 10.6h0M180.1 44.4h0M271 21.6h0M60 11.6h0M269.1 68.2h0M68.1 37.9h0M294 70.5h0M158.4 11.1h0M138.2 9.2h0M256.6 9.6h0M271.1 10.2h0M90.6 10.2h0M250 15.3h0M157.7 35.1h0M282.2 11.6h0M287.4 11.1h0M174.9 66.6h0M89 8.4h0M153 68.8h0M265.9 11.5h0M76 26.4h0M71.1 35.7h0M289.9 10.9h0M256.6 53.8h0M232.8 74.3h0M162.2 8.1h0M286.2 11h0M148.5 10.9h0M112.7 11.6h0M298.4 9.9h0M204.7 9.3h0M171.7 10h0M181.5 8.4h0M296.5 65.5h0M130.1 68h0M264.2 19.2h0M230.5 15.7h0M167.7 11h0M83.6 77.1h0M233.6 15h0M275.3 8.8h0M153.6 8.7h0M209.6 37.9h0M76.6 15.7h0M159.9 73.2h0M95 12h0M86.2 69.6h0M297.2 23.9h0M239.5 40.2h0M97.5 12.1h0M112.2 8.4h0M95 60h0M249.6 67.3h0M234.4 10.8h0M251.3 10.1h0M134.6 8.8h0M237 8.5h0M81.8 8.9h0M249.2 8.7h0M273.3 11.3h0M79 43.3h0M133.9 10.4h0M50.8 9.6h0M83.6 17.7h0M97.2 11.6h0M296 67.7h0M252.7 68.3h0M169.7 8.3h0M286.5 15.5h0M215 8.1h0M75.1 11.5h0M101.1 22.2h0M268.2 10.1h0M111.3 10.8h0M266.2 10h0M57.8 8.7h0M151.3 67.2h0M49.5 28.5h0M132 67.7h0M251.4 10.5h0M81.8 11.1h0M232.8 79.8h0M86.3 37.8h0M121.7 10.7h0M152.2 67.6h0M241.6 33.3h0M98.9 34.6h0M170.1 11.8h0M269.4 53.3h0M294 15.7h0M60.4 8.7h0M185.6 11.4h0M113.5 8h0M137.3 67.9h0M90 10.1h0M237.1 24.3h0M224.6 10.3h0M106 9.5h0M171.4 31.4h0M295.9 18h0M288.4 12h0M112.9 67.1h0M111.4 15.1h0M214.1 9.1h0M298.4 10.5h0M286.5 11.6h0M245.2 10.8h0M188.4 8.7h0M116.2 67.2h0M265.9 32.8h0M103.8 11.2h0M180.2 11.8h0M173.7 7.9h0M174.7 11.5h0M186.5 16.8h0M132 9.3h0M292.2 11.4h0M186 8.3h0M82.9 9.5h0M260.1 67.7h0M225.9 10.3h0M287.6 8.7h0M239.4 9.1h0M111.8 9.7h0M50.7 8.5h0M161.7 10.2h0M213.7 71.2h0M270 9.5h0M153.6 8.5h0M244.4 82.8h0M63.5 10.4h0M296.5 11.8h0M98.9 9.5h0M145.6 11.6h0M186.5 84h0M207.4 67.5h0M45.7 9.4h0M137.3 10.3h0M121.7 24.4h0M103 26.9h0M173 8.2h0M173 9.9h0M87.7 72.4h0M223.9 11.1h0M89 9.1h0M109 8.8h0" stroke="#f65a58" stroke-width="1.95" stroke-linecap="round" stroke-opacity="0.78" fill="none"/>
<path d="M250 67.1h0M167.7 17.5h0M46.2 74.9h0M287.6 100.2h0M285.2 10.2h0M78.1 42.7h0M251.4 27.5h0M293.7 10.9h0M254.6 33.4h0M191 22.7h0M181.5 16.4h0M265.9 11h0M49.5 75.5h0M138.2 14h0M95.3 66.8h0M107.5 28.8h0M181.1 31h0M166.5 16.7h0M86.5 21.8h0M221.7 17.8h0M236.5 56.7h0M249.2 32.8h0M67.9 66.9h0M111.1 29.4h0M45.9 122.4h0M152.2 108.8h0M205.6 10h0M97.5 97.8h0M279.9 85.9h0M230.4 8.3h0M194.3 74.2h0M145.6 66.7h0M211.3 67.3h0M108.5 95.6h0M252.7 10.9h0M152.2 16.4h0M62.8 28.1h0M231.7 54.4h0M179 57h0M248.3 39.3h0M176.9 16.5h0M78 21h0M275.3 48.3h0M194.3 10.2h0M119.1 97.9h0M119.1 29.1h0M176.1 15.2h0M45.9 28h0M250 80.7h0M195.8 11.3h0M66.3 89.8h0M181.1 15.9h0M287.6 26h0M244.4 39.9h0M138.8 78.6h0M75.1 67.4h0M266 32.1h0M251 29.3h0M76.6 28.6h0M59.6 82.3h0M147.7 34.9h0M249.2 40.2h0M135.5 10.5h0M59.8 89h0M193.8 10.1h0M174.2 79.5h0M114.2 28.9h0M158.1 94.1h0M188.2 92.2h0M90.5 20.8h0M90.5 28.1h0M132.6 52.1h0M55 8.7h0M78 29.6h0M117.1 77.5h0M109 28.2h0M224 10h0M275.5 99.6h0M49.6 90h0M58.7 49h0M229.8 10.8h0M71.7 28.2h0M160.7 15h0M233.6 10.4h0M255.4 17.6h0M194.3 21.2h0M234.6 25.6h0M205.6 88h0M222.3 83h0M295.9 67.3h0M153.8 36.3h0M83.8 65.8h0M106.5 84.9h0M251.3 67.5h0M120 66.4h0M155.6 87.7h0M120 74.3h0M254.6 65.5h0M111.4 46h0M96.4 29.6h0M249.2 11.6h0M180.4 15.9h0M237 96.9h0M119.9 10.2h0M107.4 67.2h0M167.3 38.5h0M185.6 11.3h0M269.4 20.9h0M205.3 11.6h0M222.3 9.3h0M114.2 92.3h0M290.2 74.6h0M264.2 22.4h0M146.9 67.3h0M46.2 29.2h0M82.4 80.2h0M54.9 29.6h0M186 16.3h0" stroke="#f6bb2f" stroke-width="1.95" stroke-linecap="round" stroke-opacity="0.78" fill="none"/>
<path d="M298.4 24.2h0M103.8 59.4h0M89 46.6h0M142.6 85.4h0M80.6 52.1h0M103 27.1h0M264.2 55.6h0M256.7 83.2h0M78 54.7h0M265.9 22.3h0M256.6 55.7h0M249.6 56h0M93.4 39.8h0M152.2 58.9h0M51.8 87h0M299.2 20.8h0M282.2 79h0M160.7 44.7h0M187.1 59.4h0M271.1 30.9h0M106.9 15.7h0M211.6 21.9h0M236.5 28.6h0M98.9 58.2h0M78.1 29.3h0M204.7 54.5h0M216.4 59.6h0M268.9 24.8h0M61.4 58.8h0M194.9 119.3h0M109 58.1h0M90.5 59.5h0M171.4 59.4h0M266.2 24.8h0M266.2 18.6h0M50.7 59.4h0M256.5 22.3h0M86.3 59.3h0M215 75.8h0M86.3 48.6h0M82.3 59.3h0M111.3 37.2h0M106.9 54h0M222.3 97.8h0M58.7 58.4h0M245.8 40.6h0M164.2 119.1h0M78.4 19.7h0M268.2 21.9h0M86.2 16.9h0M138.6 114.5h0M284.3 53h0M74.9 59.6h0M152 122.4h0M269.1 27.4h0M64 117.2h0M275.5 22h0M136.2 59.2h0M289.9 56.4h0M170.1 46.7h0M157.7 58.9h0M76 49.7h0M131.7 33.5h0M72.1 51h0M96.6 29.9h0M268.8 56.2h0M262.3 56.2h0M273.6 55.2h0M297.2 56.9h0M154.4 58h0M78.4 104.8h0M78.4 31.8h0M251 56.3h0M174.9 59h0M56.1 87h0M216 58.8h0M174.9 51.8h0M67.8 59.9h0M213.7 58.9h0M80.6 125.2h0M289.9 19.3h0M85.2 118.2h0M49.7 59.2h0M298.4 55.2h0M278.6 20h0M78 50.8h0M219.8 26.8h0M180.1 25.1h0M271.1 55h0M95 17h0M270 115.1h0M207.3 29.7h0M266 23.9h0M62.8 121.7h0M170.2 58h0M257.2 16.5h0M237.1 81.6h0M192.7 58.4h0M103.8 43.4h0M78.5 42.3h0M78.4 59.1h0M96.6 58.7h0M230.4 39.4h0M223 26h0M251.3 42.8h0M174.9 30.2h0M135.5 58.6h0M231.7 57.6h0M109.5 42.3h0M265.9 69.5h0M292.2 55.6h0M61 57h0M299.2 28.1h0M211.3 51.6h0M241.6 55.9h0M274.6 56.4h0M95 115h0M161.1 58.1h0M278.3 26.6h0M269.1 50.1h0M252.7 38.9h0M207.3 58.4h0M157.6 57.2h0M155.6 40.7h0" stroke="#9a90f7" stroke-width="1.95" stroke-linecap="round" stroke-opacity="0.78" fill="none"/>
<path d="M179.8 87.3h0M202.2 69.6h0M82.3 70h0M171.7 69.5h0M271.1 69.4h0M293.7 69.8h0M251.3 69.4h0M189.9 70.2h0M289.5 52h0M154.4 100h0M54.9 109.7h0M66.9 91.2h0M223.9 84.9h0M78.1 20.8h0M276.6 99.1h0M76.4 70.7h0M86.2 83.5h0M107.5 92.7h0M101.4 93.9h0M138.6 70.1h0M63.5 35.3h0M66.3 70h0M273.3 69.9h0M111.8 97.4h0M98.4 88.2h0M169.1 70h0M267.8 26h0M57.8 69.9h0M52.9 72.7h0M103 25.6h0M84.5 69.9h0M64 109.7h0M244.4 100.2h0M45.9 69.7h0M138 69.8h0M140.3 69.8h0M116.2 70h0M83.6 84h0M63 104.1h0M106.9 71.8h0M263.3 70.2h0M266 108.6h0M216.4 69.9h0M176.9 27.5h0M107.4 89.8h0M224 72.9h0M266.2 32.3h0M132 70h0M60 73.2h0M91.8 88.3h0M91.2 70h0M106 69.3h0M291.2 106.2h0M234.6 69.9h0M204.7 107.2h0M205.7 74.2h0M194.9 109.6h0M256.5 69.3h0M157.7 27.3h0M70.9 90.6h0M168.8 54.2h0M112.9 115.5h0M132.6 83.1h0M96.6 86.7h0M255.4 69.6h0M103.8 102.8h0M78.1 72.5h0M192.7 35.8h0M193.4 70h0M249.2 49.8h0M62.1 70.1h0M264.2 73.9h0M107.5 40.9h0M205.6 70h0M287.4 72.8h0M61.8 70h0M72.1 100.7h0M239.5 70.2h0M240.7 69.5h0M110.4 38.4h0M188.8 69.7h0M185.2 69.4h0M169.1 26.1h0M267.8 69.4h0M296.5 23.6h0M271.3 96.7h0M269 69.9h0M52.1 56.2h0M264.2 70.1h0M166.5 69.6h0M296.5 74h0M62.8 124.9h0M148.5 88.8h0M111.4 69.4h0M224.3 82.5h0M152.2 98.1h0M145 51.9h0M142.6 119.5h0M186.5 23.5h0M71.1 109.7h0M268.2 79.6h0M157.7 70h0M152 85.1h0M223 53.8h0M55.6 69.7h0M234.4 69.7h0M213.3 27.3h0M194.5 69.5h0M86.5 69.6h0M132.7 99.3h0M62.8 69.9h0M174.7 98.3h0M45.9 69.8h0M284.3 33.3h0M82.9 73.8h0M83.8 73h0M276.6 70h0M209.6 55.7h0M113.5 97.5h0M263.3 44.7h0M90.6 69.6h0M78 81.3h0M82.9 70.2h0M71.7 72.9h0M278.3 46.6h0M176.9 89.7h0M245.2 69.5h0M288.8 69.9h0M97.5 78.4h0M275.3 70.3h0M181.3 69.1h0M213.3 32.2h0M207.4 70h0M72.1 69.5h0M182.1 69.8h0M257.2 75.5h0M230.4 78.3h0M266 26h0" stroke="#8bb52e" stroke-width="1.95" stroke-linecap="round" stroke-opacity="0.78" fill="none"/>
<path d="M98.4 14.2h0M270 86h0M179.4 100.4h0M145.6 23.8h0M87.9 83.2h0M176.1 43h0M106 86h0M177.6 24.1h0M179.8 95.1h0M205.7 101.1h0M63.5 13.8h0M251.4 25.2h0M49.9 14.2h0M86.2 81.2h0M160.7 14.3h0M244.7 21.6h0M266 76.7h0M71.7 80.2h0M135.5 22.4h0M192 14.3h0M295.9 13.8h0M294.9 16.2h0M123 12.8h0M153.8 13.9h0M299.2 99.7h0M158.1 13.9h0M91.8 74.2h0M264.2 78.3h0M97.6 48.7h0M95.3 13.2h0M146.9 21.6h0M119.1 13h0M215 82.9h0M266.2 22.5h0M288.4 15.7h0M45.2 87.8h0M185.4 95.2h0M187.9 16.3h0M255.4 13.9h0M279.9 87.5h0M174.7 45.4h0M154.4 13.7h0M180.1 19h0M131.8 87.9h0M104.7 13.2h0M75.1 23h0M86.2 78.6h0M189.9 23.2h0M179.8 30.2h0M224 14.1h0M61.4 49.3h0M49.7 17.4h0M234.4 35.5h0M83.8 97h0M216.1 13.6h0M56.8 14h0M130.1 13.4h0M268.8 19.1h0M174.9 13.9h0M67.8 33.6h0M273.3 13.7h0M289.9 12.6h0M241.6 12.4h0M237 13.5h0M205.3 100.3h0M86.2 46h0M70.9 94.8h0M186 74.7h0M237 45.6h0M97.5 14.6h0M297.1 23.1h0M274.6 13.4h0M241.6 86.3h0M230.5 14h0M78.5 13.6h0M250 12.9h0M58.7 100.1h0M83.6 14.2h0M244.7 24.4h0M125.4 23.4h0M103 39.5h0M111.8 92.9h0M51.8 12.5h0M176.1 24h0M179.8 14h0M97.5 77.9h0M158.1 72.1h0M224.3 83.4h0M51.4 18.4h0M83.8 40.3h0M222.3 13.6h0M268.9 42.5h0M260 76.5h0M287.6 80.4h0M152.2 13.8h0M223 14.6h0M213.7 74.6h0M268.9 45h0M58.7 14.6h0M174.1 89.9h0M211.3 13.9h0M50.8 76.1h0M96.4 30h0M86.7 71.5h0M186.5 22.1h0M57.8 14.2h0M65.5 38.3h0M142.6 81.3h0M194.5 72.1h0M231.7 13h0M78 98.7h0M234.4 17h0M294 23.2h0M291.2 71h0M257.2 29.8h0M109 14.1h0M299.2 15.6h0M161.1 13.7h0M132.6 95.2h0M71.1 79.3h0M211.6 25.6h0M244.4 14.5h0M224.6 84h0M204.7 21.4h0M284.3 89.7h0M188.4 14.2h0M263.3 23.1h0M176.9 14.3h0M81.8 47.4h0M268.9 85.5h0M245.8 12.9h0M205.6 27.8h0M51.4 32.1h0M107.4 77.5h0M275.5 22.1h0M76.6 13.7h0M188.8 13.6h0M253.9 32.4h0M245.8 39.4h0M267.8 14.3h0M187.9 14.2h0M279.9 16.7h0M50.7 13.9h0M176.1 94.2h0M66.3 19.6h0M176.9 46.9h0M224 53.1h0M66.5 81.2h0M174.7 41.1h0M234.4 22.9h0M266 23.6h0M70.9 14h0M273.3 41.6h0M222.3 84.9h0M219.2 13.9h0M250 54.7h0M75.1 34.5h0M119.9 22h0M232.6 13.8h0M214.1 14.6h0M181.1 71h0M62.1 90h0M244.4 37.1h0M158.4 18.6h0M122.8 84.7h0M260 17.6h0M224.6 13.7h0M76.4 24.3h0M250 15.4h0" stroke="#45cff4" stroke-width="1.95" stroke-linecap="round" stroke-opacity="0.78" fill="none"/>
<path d="M116.5 75.4h0M106.5 30.8h0M142.6 81.1h0M66.3 36h0M270 99.4h0M125.3 43.7h0M234.6 94.3h0M107.4 106.5h0M91.8 97.6h0M254.5 27h0M85.2 106.3h0M297.2 107.4h0M177.6 105.4h0M236.5 95.5h0M194.5 107.3h0M260 54h0M186.5 32h0M288.8 108.1h0M230.5 78.5h0M176.9 105.6h0M156 104.8h0M112.6 106.1h0M49.9 109.1h0M78.4 30.7h0M285.2 32.8h0M212.1 102h0M131.7 106.3h0M297.9 107.5h0M96.6 103.9h0M269 22h0M61.8 98.1h0M164.2 77.8h0M205.6 100.9h0M222.5 97.6h0M176.1 30.8h0M236.5 32.4h0M158.4 105.3h0M81.8 39.8h0M131.8 105.7h0M72.1 109h0M268.2 97.2h0M167.7 31.6h0M245.7 29.4h0M284 20.5h0M152.6 26.7h0M153 105.7h0M176.9 105.3h0M299.2 107.3h0M49.7 30.9h0M223.9 97.6h0M297.1 73h0M155.4 88h0M257.2 40.8h0M167.3 96h0M80 107.3h0M59.8 92.4h0M111.3 19.2h0M63.6 36.2h0M245.2 89.8h0M193.4 31.4h0M219.2 98h0M234.4 33.5h0M145.4 105.9h0M234.4 99.6h0M87.9 90.2h0M263.3 34.7h0M294.8 49.2h0M108.3 73.9h0M109 106.2h0M207.4 85.9h0M248.3 32.1h0M146.9 105.8h0M98.9 83.1h0M119.9 106.3h0M171.7 105h0M71.7 109.2h0M75.1 109h0M293.5 26.4h0M48.8 26h0M247 27.7h0M166.2 105.1h0M63.5 91.9h0M229.8 11.8h0M135.5 106.2h0M214 98.2h0M104.5 31.8h0M271.3 48.4h0M292.2 84h0M78.4 96.3h0M71.4 81.9h0M55.6 108.9h0M133.9 12.6h0M97.6 92.5h0M271.1 20.2h0M74.9 109.4h0M174.1 105.1h0M162.2 105.3h0M278.3 30.6h0M203.1 88.6h0M298.4 43.3h0M286.5 50.9h0M59.6 27h0M240.7 103.1h0M268.9 40.2h0M96.6 106.1h0M179.8 104.6h0M230.6 95h0M161.1 50.7h0M284.9 54.1h0M244.4 34.7h0M109.5 86h0M256.7 31.8h0M256.6 26.9h0M237 94.7h0M181.5 104.5h0M90.6 85h0M269 33.8h0M191 53h0M145.6 105.8h0M147.2 105.9h0M90.6 105.7h0M106.9 36.9h0M170.2 90.9h0M102.1 20.1h0M221.1 99.3h0M182 32.2h0M156 104.9h0M75.1 22.9h0M112.9 106h0M103 105.8h0M208.5 97.7h0M61 74.1h0M188.8 106.9h0M138.6 20.2h0M63.4 109.8h0M271.3 96.7h0M232.8 47.4h0M49.5 27.2h0M278.3 92.3h0M174.9 90.7h0M102.1 31.9h0M96.6 30.7h0M140.3 84.9h0M222.3 71.5h0M76 49.7h0M231.7 94.5h0M278.6 96.4h0M130.1 106.1h0M63 109.3h0M187.1 105h0M89 106.1h0M177.6 85.4h0M119.2 101.8h0M219.2 97.7h0M50.7 34.1h0M194.3 107h0M275.5 86h0M171.4 105.3h0M98.4 83.2h0M46.2 94.8h0M268.8 25.4h0" stroke="#1e93f5" stroke-width="1.95" stroke-linecap="round" stroke-opacity="0.78" fill="none"/>
<path d="M214 11.4h0M179.8 65.9h0M118.6 9h0M288.8 9.5h0M76.6 68.5h0M214.1 11.8h0M66.5 10.7h0M140.3 69.4h0M216.1 49.7h0M216.1 68.2h0M282.2 11.1h0M256.5 8.9h0M61 39.2h0M67.9 10.4h0M286 10.9h0M171.4 11.9h0M263.3 72.4h0M207.4 11.3h0M72.1 38.9h0M142.6 83.4h0M164.2 10.9h0M182 85.8h0M119.9 11.1h0M282.2 71.1h0M162.6 29.8h0M81.8 47.1h0M125.3 8.5h0M138.2 55.2h0M263.3 9.3h0M188.4 66.9h0M207.8 11.3h0M173.4 67.7h0M188.8 9.8h0M181.3 31h0M153 45.2h0M76 67h0M121.7 8.5h0M70.9 57.2h0M97.6 31.5h0M166.5 10h0M295.9 9.7h0M232.6 15.9h0M266.2 53.2h0M280.3 66h0M145.6 54.6h0M297.1 10.3h0M278.3 70h0M138.2 10.7h0M271 9.8h0M72.1 9.9h0M156 10.5h0M222.3 33.6h0M293.7 8.2h0M236.5 47.5h0M111.8 89.8h0M194.9 9.3h0M275.5 43.3h0M169.1 8.8h0M60.2 68.4h0M137.3 11.3h0M112.6 68.1h0M219.2 10.5h0M107.4 11.3h0M116.2 69.9h0M59.8 10.4h0M87.7 11.7h0M231.7 9.7h0M278.6 15.6h0M132 9.7h0M266.2 9.2h0M71.1 9.4h0M191 10h0M119.1 44h0M120 55.8h0M86.5 10.9h0M58.7 10.4h0M242.7 10.8h0M132 98.9h0M223 9.9h0M49.7 9.8h0M252.9 8.3h0M249.6 10.2h0M71.8 67.3h0M267.8 33.4h0M231.7 47.1h0M284 87.6h0M55 67.6h0M298.4 84.8h0M252.9 40.8h0M159.9 75.9h0M222.5 9.4h0M63.5 10.4h0M156 76.7h0M145 9.8h0M65.5 35.5h0M45.9 10.1h0M202.2 8.6h0M147.2 58.4h0M66.9 10.4h0M147.7 14.3h0M49.5 11.5h0M269.1 10.7h0M252.7 9.3h0M271 18.1h0M256.5 68.8h0M45.2 10.5h0M232.8 46h0M212.1 53.3h0M182.1 11.1h0M106.5 10.2h0M207.3 10.5h0M284.3 11.7h0M263.3 10.2h0M130.1 10.4h0M102.1 8h0M121.7 11.3h0M269.1 14.8h0M179 9h0M72.1 9h0M103.8 48.2h0M118.6 78.2h0M207.4 68.6h0M202.2 10.4h0M185.6 11.2h0M152.2 46.9h0M138.6 10.8h0M170.1 47.3h0M286.8 11.4h0M268.2 10.1h0M179 29.1h0M174.2 68.1h0M157.6 62.5h0M119.2 66.4h0M122.8 11.1h0M156 9.2h0M296 75.4h0M82.9 67.6h0M45.7 10.8h0M138 67.3h0M147.1 11.7h0M174.2 11.2h0M187.4 11.7h0M216 9.6h0M265.9 11.1h0M66.9 30.3h0M119.1 8.2h0M204.7 22.1h0M224.6 59.8h0M138.8 10.5h0M96.4 8.5h0M91.2 66.5h0M180.4 8.9h0M241.6 37.2h0M80 10.7h0M98.4 9.7h0M260.3 10.9h0M130.1 11h0M103 11h0M166.3 11.3h0M268.1 8.2h0M284 35h0M273.6 9.6h0M193.8 49.7h0M287.4 13.8h0M46.2 69h0M268.2 10.7h0M245.7 18.7h0M174.9 9.9h0M161.1 9.1h0M244.7 16.5h0M102.1 8.9h0M186.8 67.1h0M205.7 12.9h0M90.5 67.6h0M131.8 31.2h0M244.4 9.5h0M45 11.3h0M90.5 8.8h0M294.9 60.7h0M299.2 9.6h0M62.8 10.3h0M219.8 9.6h0M71.1 10.9h0M146.9 11.5h0M83.2 67.4h0M294.8 9.6h0M135.5 11.2h0M273.3 8.2h0M236.5 65.5h0M111.3 92.4h0M132.6 33.3h0M212.1 11.5h0M245.7 8.2h0M260.3 79.8h0M133.9 8.7h0M77.4 38.4h0M284.9 38h0M49.5 40.9h0M265.9 66.8h0M81.5 10.6h0M67.9 24.9h0M152.2 9h0M167.3 11.1h0M45.9 11.7h0M117.8 47.1h0M45.2 10.8h0M49.5 10.1h0M86.3 11.6h0M72.9 8h0M234.4 15.4h0M256.5 11.2h0M160.7 11.1h0M136.8 17.4h0M292.2 22h0M264.2 9h0M244.7 12h0M49.6 10.5h0M112.9 11.5h0M270 22.8h0M119.2 15h0M95.3 9.6h0M135.5 8.7h0M294.9 10h0M294.9 10.8h0M111.1 9.3h0M78.1 37.4h0M215 11.2h0M162.2 10.6h0M147.2 102.1h0M222.3 10.7h0M276.5 68.7h0M66.5 72.4h0M170.2 67h0M107.5 39.3h0M86.3 52.4h0M50.7 10.9h0M134.6 32h0M156 9.6h0M167.7 10.3h0M245.8 13.5h0M68.1 10.6h0M195.8 9.1h0M91.8 67.5h0M56.1 9.2h0M244.7 10.5h0M184 10.7h0M138.8 67.5h0M242.7 67.3h0M288.8 42.6h0M84.5 67h0M107.5 10.5h0M71.7 8.5h0M195.1 10.6h0M187.1 8.4h0M191 10.2h0M49.7 65.9h0M168.8 67.3h0M275.5 8.2h0M291.2 46.4h0M146.9 53.3h0M51.8 8.7h0M269.4 10.3h0M177.6 26.5h0M237 16.2h0M97.5 10.9h0M138.2 11.2h0M87.7 32h0M221.1 10.2h0M66.9 77.8h0M205.6 28.7h0M116.2 9.4h0M296.5 68.4h0M131.7 68.4h0M187.4 67.3h0M251.4 34.7h0M176.9 10.6h0M145.6 10.9h0M50.7 9.2h0M215 80.6h0M205.7 17.1h0M145.4 10.9h0M289.5 11.2h0M56.8 17.2h0M241.6 66.4h0M193.8 11.5h0M62 14.4h0M106.5 67.8h0" stroke="#f65a58" stroke-width="1.95" stroke-linecap="round" stroke-opacity="0.78" fill="none"/>
<text x="311.4" y="66.9" font-size="7" font-weight="bold" fill="#000">Reference Panels</text>
<circle cx="325" cy="74.5" r="0.9" fill="#45cff4" fill-opacity="0.9"/>
<text x="332" y="76.6" font-size="6.1" fill="#111">CHN100k</text>
<circle cx="325" cy="83.2" r="0.9" fill="#f65a58" fill-opacity="0.9"/>
<text x="332" y="85.3" font-size="6.1" fill="#111">ChinaMAP</text>
<circle cx="325" cy="91.9" r="0.9" fill="#1e93f5" fill-opacity="0.9"/>
<text x="332" y="94" font-size="6.1" fill="#111">WBBC</text>
<circle cx="325" cy="100.7" r="0.9" fill="#8bb52e" fill-opacity="0.9"/>
<text x="332" y="102.8" font-size="6.1" fill="#111">SEAD</text>
<circle cx="325" cy="109.4" r="0.9" fill="#f6bb2f" fill-opacity="0.9"/>
<text x="332" y="111.5" font-size="6.1" fill="#111">1KG</text>
<circle cx="325" cy="118.1" r="0.9" fill="#9a90f7" fill-opacity="0.9"/>
<text x="332" y="120.2" font-size="6.1" fill="#111">TOPMed</text>
<g><text x="45" y="138.7" font-size="5.5" fill="#222">OR4X7P</text>
<path d="M67.2 137H71.5M71.5 137l-1.2 -0.9M71.5 137l-1.2 0.9" stroke="#444" stroke-width="0.45" fill="none"/>
<rect x="58.1" y="139.4" width="0.7" height="3.6" fill="#1a2a9c"/>
<text x="86.8" y="138.7" font-size="5.5" fill="#222">OR4A17P</text>
<path d="M112 137H116.3M116.3 137l-1.2 -0.9M116.3 137l-1.2 0.9" stroke="#444" stroke-width="0.45" fill="none"/>
<rect x="101.1" y="139.4" width="1.3" height="3.6" fill="#1a2a9c"/>
<text x="127.3" y="138.7" font-size="5.5" fill="#222">OR4A50P</text>
<path d="M152.5 137H156.8M156.8 137l-1.2 -0.9M156.8 137l-1.2 0.9" stroke="#444" stroke-width="0.45" fill="none"/>
<rect x="142" y="139.4" width="0.7" height="3.6" fill="#1a2a9c"/>
<text x="172.5" y="138.7" font-size="5.5" fill="#222">OR4C1P</text>
<path d="M194.9 137H199.2M199.2 137l-1.2 -0.9M199.2 137l-1.2 0.9" stroke="#444" stroke-width="0.45" fill="none"/>
<rect x="185.5" y="139.4" width="1.3" height="3.6" fill="#1a2a9c"/>
<text x="206.3" y="138.7" font-size="5.5" fill="#222">OR4C14P</text>
<path d="M231.7 137H236M236 137l-1.2 -0.9M236 137l-1.2 0.9" stroke="#444" stroke-width="0.45" fill="none"/>
<rect x="220.8" y="139.4" width="1.3" height="3.6" fill="#1a2a9c"/>
<text x="253.5" y="138.7" font-size="5.5" fill="#222">OR4C16</text>
<path d="M275.3 137H279.6M279.6 137l-1.2 -0.9M279.6 137l-1.2 0.9" stroke="#444" stroke-width="0.45" fill="none"/>
<rect x="266.2" y="139.4" width="1.3" height="3.6" fill="#1a2a9c"/>
<text x="299.4" y="138.7" font-size="5.5" fill="#222">OR4C11</text>
<path d="M299 137H294.7M294.7 137l1.2 -0.9M294.7 137l1.2 0.9" stroke="#444" stroke-width="0.45" fill="none"/>
<rect x="306.7" y="139.4" width="1.3" height="3.6" fill="#1a2a9c"/>
<text x="62.1" y="148.5" font-size="5.5" fill="#222">RP11-131J4.12</text>
<path d="M100.3 146.8H104.6M104.6 146.8l-1.2 -0.9M104.6 146.8l-1.2 0.9" stroke="#444" stroke-width="0.45" fill="none"/>
<rect x="83.2" y="149.2" width="0.7" height="3.6" fill="#1a2a9c"/>
<text x="115.7" y="148.5" font-size="5.5" fill="#222">OR4A13P</text>
<path d="M140.9 146.8H145.2M145.2 146.8l-1.2 -0.9M145.2 146.8l-1.2 0.9" stroke="#444" stroke-width="0.45" fill="none"/>
<rect x="130.1" y="149.2" width="1.3" height="3.6" fill="#1a2a9c"/>
<text x="230.5" y="148.5" font-size="5.5" fill="#222">OR4C15</text>
<path d="M252.3 146.8H256.6M256.6 146.8l-1.2 -0.9M256.6 146.8l-1.2 0.9" stroke="#444" stroke-width="0.45" fill="none"/>
<rect x="243.2" y="149.2" width="1.3" height="3.6" fill="#1a2a9c"/>
<text x="70.5" y="158.3" font-size="5.5" fill="#222">OR4A10P</text>
<path d="M95.7 156.6H100M100 156.6l-1.2 -0.9M100 156.6l-1.2 0.9" stroke="#444" stroke-width="0.45" fill="none"/>
<rect x="85.2" y="159" width="0.7" height="3.6" fill="#1a2a9c"/>
<text x="129.8" y="158.3" font-size="5.5" fill="#222">OR4A14P</text>
<path d="M155 156.6H159.3M159.3 156.6l-1.2 -0.9M159.3 156.6l-1.2 0.9" stroke="#444" stroke-width="0.45" fill="none"/>
<rect x="144.2" y="159" width="1.3" height="3.6" fill="#1a2a9c"/>
<text x="147.2" y="168.1" font-size="5.5" fill="#222">OR4A21P</text>
<path d="M172.4 166.4H176.7M176.7 166.4l-1.2 -0.9M176.7 166.4l-1.2 0.9" stroke="#444" stroke-width="0.45" fill="none"/>
<rect x="161.6" y="168.8" width="1.3" height="3.6" fill="#1a2a9c"/></g>
<path d="M26 175H322" stroke="#c2c2c2" stroke-width="1.5" fill="none"/>
<path d="M43.5 175v2.6" stroke="#666" stroke-width="0.7" fill="none"/>
<text x="41.8" y="185.2" text-anchor="middle" font-size="8.1" textLength="18.4" lengthAdjust="spacingAndGlyphs" fill="#2a2a2a">55.40</text>
<path d="M108.4 175v2.6" stroke="#666" stroke-width="0.7" fill="none"/>
<text x="106.7" y="185.2" text-anchor="middle" font-size="8.1" textLength="18.4" lengthAdjust="spacingAndGlyphs" fill="#2a2a2a">55.45</text>
<path d="M173.3 175v2.6" stroke="#666" stroke-width="0.7" fill="none"/>
<text x="171.6" y="185.2" text-anchor="middle" font-size="8.1" textLength="18.4" lengthAdjust="spacingAndGlyphs" fill="#2a2a2a">55.50</text>
<path d="M238.2 175v2.6" stroke="#666" stroke-width="0.7" fill="none"/>
<text x="236.5" y="185.2" text-anchor="middle" font-size="8.1" textLength="18.4" lengthAdjust="spacingAndGlyphs" fill="#2a2a2a">55.55</text>
<path d="M303.1 175v2.6" stroke="#666" stroke-width="0.7" fill="none"/>
<text x="301.4" y="185.2" text-anchor="middle" font-size="8.1" textLength="18.4" lengthAdjust="spacingAndGlyphs" fill="#2a2a2a">55.60</text>
<text x="175.8" y="199.6" text-anchor="middle" font-size="9.2" textLength="87.3" lengthAdjust="spacingAndGlyphs" font-weight="bold" fill="#000">chromosome 11 (Mb)</text>
<text x="0.2" y="11.8" font-size="13.2" font-weight="bold" fill="#000">a</text>
<rect x="37.6" y="210.9" width="269.3" height="171.7" fill="#fff" stroke="#d6d6d6" stroke-width="1.2"/>
<path d="M37.6 210.9V382.6" stroke="#707070" stroke-width="0.8"/>
<path d="M306.9 210.9V382.6" stroke="#d2d2e4" stroke-width="1.4"/>
<path d="M34.2 375.4H37.5" stroke="#777" stroke-width="0.6"/>
<text x="31.2" y="377.3" text-anchor="end" font-size="5.4" fill="#444">0</text>
<path d="M34.2 320.9H37.5" stroke="#777" stroke-width="0.6"/>
<text x="31.2" y="322.8" text-anchor="end" font-size="5.4" fill="#444">5</text>
<path d="M34.2 266.4H37.5" stroke="#777" stroke-width="0.6"/>
<text x="31.2" y="268.3" text-anchor="end" font-size="5.4" fill="#444">10</text>
<path d="M34.2 211.9H37.5" stroke="#777" stroke-width="0.6"/>
<text x="31.2" y="213.8" text-anchor="end" font-size="5.4" fill="#444">15</text>
<path d="M307 375.2H310.4" stroke="#8a8aec" stroke-width="0.6"/>
<text x="314.2" y="377.4" font-size="6" textLength="2.9" lengthAdjust="spacingAndGlyphs" fill="#3838dc">0</text>
<path d="M307 343.9H310.4" stroke="#8a8aec" stroke-width="0.6"/>
<text x="314.2" y="346.1" font-size="6" textLength="5.7" lengthAdjust="spacingAndGlyphs" fill="#3838dc">20</text>
<path d="M307 312.6H310.4" stroke="#8a8aec" stroke-width="0.6"/>
<text x="314.2" y="314.8" font-size="6" textLength="5.7" lengthAdjust="spacingAndGlyphs" fill="#3838dc">40</text>
<path d="M307 281.3H310.4" stroke="#8a8aec" stroke-width="0.6"/>
<text x="314.2" y="283.5" font-size="6" textLength="5.7" lengthAdjust="spacingAndGlyphs" fill="#3838dc">60</text>
<path d="M307 250H310.4" stroke="#8a8aec" stroke-width="0.6"/>
<text x="314.2" y="252.2" font-size="6" textLength="5.7" lengthAdjust="spacingAndGlyphs" fill="#3838dc">80</text>
<path d="M307 218.7H310.4" stroke="#8a8aec" stroke-width="0.6"/>
<text x="314.2" y="220.9" font-size="6" textLength="8.6" lengthAdjust="spacingAndGlyphs" fill="#3838dc">100</text>
<text transform="translate(324.8 297.4) rotate(90)" text-anchor="middle" font-size="5.7" fill="#4646e0">Recombination rate (cM/Mb)</text>
<text transform="translate(18.3 294.5) rotate(-90)" text-anchor="middle" font-size="9.8" font-weight="bold" fill="#000">-log<tspan font-size="6.9" dy="2">10</tspan><tspan dy="-2">(SDS P-value)</tspan></text>
<path d="M37.5 375.2H180 l1 -0.6 1 0.6H306.5" stroke="#6a6af0" stroke-width="0.7" fill="none"/>
<rect x="40.4" y="213.5" width="22" height="54" fill="#fff" stroke="#bbb" stroke-width="0.6"/>
<rect x="43.2" y="223.1" width="5.5" height="8.4" fill="#ff0000"/>
<rect x="43.2" y="231.4" width="5.5" height="8.4" fill="#ffa500"/>
<rect x="43.2" y="239.8" width="5.5" height="8.4" fill="#00ff00"/>
<rect x="43.2" y="248.1" width="5.5" height="8.4" fill="#87cefa"/>
<rect x="43.2" y="256.5" width="5.5" height="8.4" fill="#000080"/>
<path d="M48.7 232h2.6" stroke="#666" stroke-width="0.45"/>
<text x="52.8" y="233.8" font-size="5" fill="#444">0.8</text>
<path d="M48.7 240.3h2.6" stroke="#666" stroke-width="0.45"/>
<text x="52.8" y="242.1" font-size="5" fill="#444">0.6</text>
<path d="M48.7 248.6h2.6" stroke="#666" stroke-width="0.45"/>
<text x="52.8" y="250.4" font-size="5" fill="#444">0.4</text>
<path d="M48.7 256.9h2.6" stroke="#666" stroke-width="0.45"/>
<text x="52.8" y="258.7" font-size="5" fill="#444">0.2</text>
<text x="49.6" y="221.2" font-size="5.6" fill="#444" font-style="italic">r<tspan font-size="3.6" dy="-2.6" font-style="normal">2</tspan></text>
<g fill="#b0b0b0" stroke="#555" stroke-width="0.45"><circle cx="86.4" cy="367.7" r="1.6"/><circle cx="128.1" cy="359.4" r="1.6"/><circle cx="41.9" cy="371.7" r="1.6"/><circle cx="79.9" cy="374.7" r="1.6"/><circle cx="217.9" cy="317" r="1.6"/><circle cx="217.6" cy="355.2" r="1.6"/><circle cx="208" cy="358.3" r="1.6"/><circle cx="135.3" cy="366.6" r="1.6"/><circle cx="131.8" cy="373.2" r="1.6"/><circle cx="151" cy="373.2" r="1.6"/><circle cx="158" cy="373.2" r="1.6"/><circle cx="187.8" cy="374.5" r="1.6"/><circle cx="196.2" cy="375.3" r="1.6"/><circle cx="222.5" cy="374.5" r="1.6"/><circle cx="135.1" cy="366.4" r="1.6"/></g>
<g fill="#00007f" stroke="#000030" stroke-width="0.45"><circle cx="71.5" cy="341.7" r="1.6"/><circle cx="73.3" cy="342.3" r="1.6"/><circle cx="77.7" cy="346.6" r="1.6"/><circle cx="80.8" cy="346.6" r="1.6"/><circle cx="81.2" cy="348" r="1.6"/><circle cx="92.2" cy="345.8" r="1.6"/><circle cx="94" cy="347.5" r="1.6"/><circle cx="96.6" cy="349.8" r="1.6"/><circle cx="68.9" cy="350.7" r="1.6"/><circle cx="67.3" cy="354.2" r="1.6"/><circle cx="104.8" cy="354.5" r="1.6"/><circle cx="107.1" cy="353.7" r="1.6"/><circle cx="109.7" cy="355" r="1.6"/><circle cx="112.3" cy="356.3" r="1.6"/><circle cx="110.6" cy="357.7" r="1.6"/><circle cx="54.5" cy="357.2" r="1.6"/><circle cx="56.3" cy="360.1" r="1.6"/><circle cx="58.9" cy="361.5" r="1.6"/><circle cx="41.4" cy="358.9" r="1.6"/><circle cx="44" cy="358.6" r="1.6"/><circle cx="43.1" cy="362.4" r="1.6"/><circle cx="38.4" cy="361.5" r="1.6"/><circle cx="71.2" cy="362.9" r="1.6"/><circle cx="74.7" cy="363.6" r="1.6"/><circle cx="76.4" cy="365" r="1.6"/><circle cx="95.7" cy="364.2" r="1.6"/><circle cx="102.7" cy="362.4" r="1.6"/><circle cx="108" cy="363.3" r="1.6"/><circle cx="122.3" cy="361.2" r="1.6"/><circle cx="129.9" cy="361.5" r="1.6"/><circle cx="46.6" cy="369.4" r="1.6"/><circle cx="65.9" cy="373.8" r="1.6"/><circle cx="68.5" cy="372" r="1.6"/><circle cx="77.3" cy="371.2" r="1.6"/><circle cx="87.8" cy="373.8" r="1.6"/><circle cx="91.3" cy="374.3" r="1.6"/><circle cx="95.7" cy="375.2" r="1.6"/><circle cx="98.3" cy="375.2" r="1.6"/><circle cx="101" cy="374.7" r="1.6"/><circle cx="105.3" cy="373.8" r="1.6"/><circle cx="108" cy="374.7" r="1.6"/><circle cx="115.8" cy="373.8" r="1.6"/><circle cx="119.4" cy="374.7" r="1.6"/><circle cx="122" cy="373.8" r="1.6"/><circle cx="125.5" cy="372.9" r="1.6"/><circle cx="129.9" cy="374.7" r="1.6"/><circle cx="115.8" cy="371.2" r="1.6"/><circle cx="119.4" cy="372" r="1.6"/><circle cx="122.9" cy="371.2" r="1.6"/><circle cx="102.7" cy="369.4" r="1.6"/><circle cx="107.1" cy="370.3" r="1.6"/><circle cx="219.3" cy="345.6" r="1.6"/><circle cx="220.2" cy="348.2" r="1.6"/><circle cx="225.5" cy="351.7" r="1.6"/><circle cx="158" cy="350.5" r="1.6"/><circle cx="159.8" cy="354.3" r="1.6"/><circle cx="153.7" cy="355.7" r="1.6"/><circle cx="144.9" cy="359.6" r="1.6"/><circle cx="132.6" cy="361.3" r="1.6"/><circle cx="163.3" cy="360.4" r="1.6"/><circle cx="171.2" cy="357.8" r="1.6"/><circle cx="174.7" cy="356.9" r="1.6"/><circle cx="178.2" cy="350.8" r="1.6"/><circle cx="182.6" cy="349.6" r="1.6"/><circle cx="182.6" cy="354.3" r="1.6"/><circle cx="186.1" cy="353.4" r="1.6"/><circle cx="195.7" cy="349.9" r="1.6"/><circle cx="207.1" cy="352.6" r="1.6"/><circle cx="202.7" cy="354.7" r="1.6"/><circle cx="206.2" cy="357.8" r="1.6"/><circle cx="211.5" cy="363.9" r="1.6"/><circle cx="209.7" cy="366.6" r="1.6"/><circle cx="214.1" cy="365.7" r="1.6"/><circle cx="217.6" cy="361.3" r="1.6"/><circle cx="218.5" cy="363.9" r="1.6"/><circle cx="228.1" cy="364.5" r="1.6"/><circle cx="180.8" cy="368.3" r="1.6"/><circle cx="182.6" cy="371" r="1.6"/><circle cx="186.1" cy="370.1" r="1.6"/><circle cx="194" cy="367.5" r="1.6"/><circle cx="188.7" cy="371.8" r="1.6"/><circle cx="192.2" cy="371.8" r="1.6"/><circle cx="195.7" cy="371" r="1.6"/><circle cx="200.1" cy="371.8" r="1.6"/><circle cx="203.6" cy="371.8" r="1.6"/><circle cx="205.3" cy="372.7" r="1.6"/><circle cx="210.6" cy="371.8" r="1.6"/><circle cx="214.1" cy="371" r="1.6"/><circle cx="216.7" cy="371.8" r="1.6"/><circle cx="221.1" cy="371" r="1.6"/><circle cx="224.6" cy="372.7" r="1.6"/><circle cx="137.9" cy="374.5" r="1.6"/><circle cx="141.4" cy="373.6" r="1.6"/><circle cx="144.9" cy="374.5" r="1.6"/><circle cx="147.5" cy="373.6" r="1.6"/><circle cx="146.6" cy="371.8" r="1.6"/><circle cx="160.7" cy="374.5" r="1.6"/><circle cx="161.5" cy="372.7" r="1.6"/><circle cx="164.2" cy="373.6" r="1.6"/><circle cx="166.8" cy="372.7" r="1.6"/><circle cx="173.8" cy="371" r="1.6"/><circle cx="176.4" cy="371.8" r="1.6"/><circle cx="158.9" cy="371" r="1.6"/><circle cx="133.4" cy="361.9" r="1.6"/><circle cx="145.1" cy="359.4" r="1.6"/><circle cx="138.6" cy="373.8" r="1.6"/><circle cx="145.6" cy="373.8" r="1.6"/><circle cx="149.1" cy="373.8" r="1.6"/><circle cx="235.8" cy="338.2" r="1.6"/><circle cx="304.5" cy="338.9" r="1.6"/><circle cx="304.5" cy="345.9" r="1.6"/><circle cx="282.6" cy="340.6" r="1.6"/><circle cx="284" cy="339.9" r="1.6"/><circle cx="288.7" cy="341.2" r="1.6"/><circle cx="284" cy="348.2" r="1.6"/><circle cx="291.3" cy="349.1" r="1.6"/><circle cx="292.2" cy="351.3" r="1.6"/><circle cx="288.7" cy="352.2" r="1.6"/><circle cx="280.3" cy="350.8" r="1.6"/><circle cx="283.4" cy="354.3" r="1.6"/><circle cx="281.7" cy="355.7" r="1.6"/><circle cx="274.7" cy="354.3" r="1.6"/><circle cx="276.4" cy="356.9" r="1.6"/><circle cx="271.2" cy="356.9" r="1.6"/><circle cx="272.9" cy="357.8" r="1.6"/><circle cx="269.4" cy="350.8" r="1.6"/><circle cx="269.4" cy="352.6" r="1.6"/><circle cx="289.2" cy="361.3" r="1.6"/><circle cx="300.6" cy="364.8" r="1.6"/><circle cx="304.5" cy="371" r="1.6"/><circle cx="305.7" cy="371.5" r="1.6"/><circle cx="256.3" cy="351.3" r="1.6"/><circle cx="257.2" cy="352.6" r="1.6"/><circle cx="255.9" cy="359.6" r="1.6"/><circle cx="249.3" cy="347.3" r="1.6"/><circle cx="247.5" cy="348.5" r="1.6"/><circle cx="240.9" cy="349.1" r="1.6"/><circle cx="232.6" cy="350.8" r="1.6"/><circle cx="233.5" cy="352.6" r="1.6"/><circle cx="236.7" cy="354.7" r="1.6"/><circle cx="230.9" cy="365.7" r="1.6"/><circle cx="236.1" cy="364.8" r="1.6"/><circle cx="243.1" cy="364.8" r="1.6"/><circle cx="246.6" cy="363.9" r="1.6"/><circle cx="251.9" cy="364.5" r="1.6"/><circle cx="254.5" cy="364.8" r="1.6"/><circle cx="245.8" cy="367.5" r="1.6"/><circle cx="249.3" cy="369.2" r="1.6"/><circle cx="251" cy="366.6" r="1.6"/><circle cx="264.2" cy="363.1" r="1.6"/><circle cx="266.3" cy="361.7" r="1.6"/><circle cx="258.9" cy="367.5" r="1.6"/><circle cx="236.1" cy="371" r="1.6"/><circle cx="238.8" cy="371.8" r="1.6"/><circle cx="243.1" cy="371.8" r="1.6"/><circle cx="244.9" cy="373.6" r="1.6"/><circle cx="248.4" cy="372.7" r="1.6"/><circle cx="252.8" cy="371.8" r="1.6"/><circle cx="258.9" cy="375" r="1.6"/><circle cx="265" cy="372.4" r="1.6"/><circle cx="269.4" cy="372.7" r="1.6"/><circle cx="271.2" cy="371.5" r="1.6"/><circle cx="273.8" cy="372.2" r="1.6"/><circle cx="275.5" cy="373.2" r="1.6"/><circle cx="277.3" cy="371.8" r="1.6"/><circle cx="279.9" cy="372.2" r="1.6"/><circle cx="284.3" cy="372.7" r="1.6"/><circle cx="286.9" cy="372.7" r="1.6"/><circle cx="288.7" cy="372.2" r="1.6"/><circle cx="290.4" cy="371" r="1.6"/><circle cx="233.4" cy="353.4" r="1.6"/><circle cx="232.5" cy="350.8" r="1.6"/></g>
<g fill="#87cefa" stroke="#33566e" stroke-width="0.45"><circle cx="40.5" cy="361.5" r="1.6"/><circle cx="49.8" cy="360.1" r="1.6"/><circle cx="98" cy="356.6" r="1.6"/><circle cx="92.2" cy="366.3" r="1.6"/><circle cx="48.4" cy="373.8" r="1.6"/><circle cx="60.1" cy="373.8" r="1.6"/><circle cx="127.2" cy="365.6" r="1.6"/><circle cx="125.5" cy="366.8" r="1.6"/><circle cx="122" cy="368.5" r="1.6"/><circle cx="115.8" cy="367.7" r="1.6"/><circle cx="221.5" cy="362.7" r="1.6"/><circle cx="205" cy="365.7" r="1.6"/><circle cx="170.3" cy="366.6" r="1.6"/><circle cx="168.5" cy="367.5" r="1.6"/><circle cx="171.2" cy="368.7" r="1.6"/><circle cx="165" cy="369.7" r="1.6"/><circle cx="268.9" cy="347" r="1.6"/><circle cx="301" cy="349.9" r="1.6"/><circle cx="277.7" cy="359.6" r="1.6"/><circle cx="251" cy="357.8" r="1.6"/><circle cx="247.5" cy="360.4" r="1.6"/><circle cx="235.3" cy="350.8" r="1.6"/></g>
<g fill="#00ee00" stroke="#0a5a0a" stroke-width="0.45"><circle cx="39.1" cy="372" r="1.6"/><circle cx="44" cy="372.6" r="1.6"/><circle cx="47.5" cy="371.5" r="1.6"/><circle cx="49.8" cy="370.6" r="1.6"/><circle cx="54.5" cy="371.5" r="1.6"/><circle cx="57.2" cy="369.9" r="1.6"/><circle cx="58.9" cy="371.5" r="1.6"/><circle cx="60.7" cy="372" r="1.6"/><circle cx="72.9" cy="374.7" r="1.6"/><circle cx="77.3" cy="374.7" r="1.6"/><circle cx="84.3" cy="373.4" r="1.6"/><circle cx="89.6" cy="370.6" r="1.6"/><circle cx="92.2" cy="369.9" r="1.6"/><circle cx="94.8" cy="369.4" r="1.6"/><circle cx="97.5" cy="369.9" r="1.6"/><circle cx="100.1" cy="368.9" r="1.6"/><circle cx="104.5" cy="367.1" r="1.6"/><circle cx="108" cy="366.8" r="1.6"/><circle cx="110.6" cy="367.7" r="1.6"/><circle cx="113.2" cy="368.9" r="1.6"/><circle cx="119.4" cy="368.9" r="1.6"/><circle cx="122" cy="371.2" r="1.6"/><circle cx="223.4" cy="346.4" r="1.6"/><circle cx="224.3" cy="353.4" r="1.6"/><circle cx="207.1" cy="359.9" r="1.6"/><circle cx="193.1" cy="361.7" r="1.6"/><circle cx="198.3" cy="349.9" r="1.6"/><circle cx="179.9" cy="360.1" r="1.6"/><circle cx="177.3" cy="361.3" r="1.6"/><circle cx="175.5" cy="362.2" r="1.6"/><circle cx="173.8" cy="363.4" r="1.6"/><circle cx="171.2" cy="364.5" r="1.6"/><circle cx="166.8" cy="361.3" r="1.6"/><circle cx="155.4" cy="362.7" r="1.6"/><circle cx="153.7" cy="363.9" r="1.6"/><circle cx="149.3" cy="364.5" r="1.6"/><circle cx="146.6" cy="364.8" r="1.6"/><circle cx="137.9" cy="367.1" r="1.6"/><circle cx="158.9" cy="366.2" r="1.6"/><circle cx="160.7" cy="368.3" r="1.6"/><circle cx="145.6" cy="365" r="1.6"/><circle cx="299.7" cy="300.5" r="1.6"/><circle cx="281.3" cy="329.8" r="1.6"/><circle cx="276.8" cy="335" r="1.6"/><circle cx="270.6" cy="336.4" r="1.6"/><circle cx="241.4" cy="342" r="1.6"/><circle cx="248" cy="343.8" r="1.6"/></g>
<g fill="#ffa500" stroke="#7a4a00" stroke-width="0.45"><circle cx="220.7" cy="352.9" r="1.6"/><circle cx="216.7" cy="357.5" r="1.6"/><circle cx="224.6" cy="359.2" r="1.6"/></g>
<g fill="#f00000" stroke="#6a0000" stroke-width="0.45"><circle cx="40.5" cy="374.7" r="1.6"/><circle cx="55.9" cy="374.7" r="1.6"/><circle cx="81.2" cy="372.4" r="1.6"/><circle cx="99.7" cy="367.7" r="1.6"/><circle cx="108.3" cy="364.2" r="1.6"/><circle cx="115.8" cy="361.2" r="1.6"/><circle cx="117.6" cy="361.2" r="1.6"/><circle cx="115" cy="364.2" r="1.6"/><circle cx="114.1" cy="365.9" r="1.6"/><circle cx="118.5" cy="364.2" r="1.6"/><circle cx="218.5" cy="324.5" r="1.6"/><circle cx="222" cy="326.6" r="1.6"/><circle cx="229" cy="326.3" r="1.6"/><circle cx="229" cy="327.7" r="1.6"/><circle cx="216.7" cy="328.9" r="1.6"/><circle cx="215" cy="332.9" r="1.6"/><circle cx="223.4" cy="332.9" r="1.6"/><circle cx="212.3" cy="336.8" r="1.6"/><circle cx="211.5" cy="338.9" r="1.6"/><circle cx="208" cy="339.9" r="1.6"/><circle cx="207.1" cy="341.2" r="1.6"/><circle cx="208.8" cy="342" r="1.6"/><circle cx="209.7" cy="345.2" r="1.6"/><circle cx="191.3" cy="339.8" r="1.6"/><circle cx="203.6" cy="346.4" r="1.6"/><circle cx="201" cy="347" r="1.6"/><circle cx="199.2" cy="345.9" r="1.6"/><circle cx="200.1" cy="348.2" r="1.6"/><circle cx="201" cy="349.9" r="1.6"/><circle cx="201.8" cy="351.7" r="1.6"/><circle cx="193.1" cy="347.3" r="1.6"/><circle cx="191.3" cy="347.7" r="1.6"/><circle cx="186.9" cy="350.5" r="1.6"/><circle cx="174.3" cy="353.4" r="1.6"/><circle cx="172.6" cy="354.7" r="1.6"/><circle cx="172" cy="356.4" r="1.6"/><circle cx="157.5" cy="356.4" r="1.6"/><circle cx="265.9" cy="300.9" r="1.6"/><circle cx="265" cy="303.5" r="1.6"/><circle cx="263.6" cy="306.1" r="1.6"/><circle cx="263.3" cy="307.9" r="1.6"/><circle cx="262.4" cy="313.1" r="1.6"/><circle cx="259.8" cy="312.3" r="1.6"/><circle cx="258.9" cy="310.2" r="1.6"/><circle cx="254.5" cy="309.6" r="1.6"/><circle cx="252.4" cy="311.4" r="1.6"/><circle cx="251" cy="313.7" r="1.6"/><circle cx="247.5" cy="313.7" r="1.6"/><circle cx="245.8" cy="314.4" r="1.6"/><circle cx="241.4" cy="314.9" r="1.6"/><circle cx="241.9" cy="317.2" r="1.6"/><circle cx="238.8" cy="315.4" r="1.6"/><circle cx="237.9" cy="308.4" r="1.6"/><circle cx="237" cy="310.5" r="1.6"/><circle cx="235.3" cy="311.9" r="1.6"/><circle cx="236.1" cy="314" r="1.6"/><circle cx="233.9" cy="317.2" r="1.6"/><circle cx="230.9" cy="318.9" r="1.6"/><circle cx="239.5" cy="314.9" r="1.6"/><circle cx="241.2" cy="316.6" r="1.6"/><circle cx="248.3" cy="313.1" r="1.6"/><circle cx="235.1" cy="315.4" r="1.6"/><circle cx="233.4" cy="317.2" r="1.6"/><circle cx="301.5" cy="235.5" r="1.6"/><circle cx="297.4" cy="237.1" r="1.6"/><circle cx="295.3" cy="243.3" r="1.6"/><circle cx="293.8" cy="246" r="1.6"/><circle cx="292.2" cy="250.6" r="1.6"/><circle cx="292.2" cy="253.1" r="1.6"/><circle cx="291.1" cy="256.2" r="1.6"/><circle cx="289.7" cy="257.8" r="1.6"/><circle cx="285.3" cy="264.5" r="1.6"/><circle cx="284.9" cy="266.1" r="1.6"/><circle cx="283.5" cy="270.3" r="1.6"/><circle cx="282.2" cy="271.7" r="1.6"/><circle cx="280.8" cy="277.1" r="1.6"/><circle cx="278.7" cy="276.5" r="1.6"/><circle cx="277.7" cy="278.6" r="1.6"/><circle cx="276" cy="280.6" r="1.6"/><circle cx="274.6" cy="282.1" r="1.6"/><circle cx="276.6" cy="284.8" r="1.6"/><circle cx="274.6" cy="285.4" r="1.6"/><circle cx="271" cy="288.5" r="1.6"/><circle cx="269.4" cy="292" r="1.6"/><circle cx="267.3" cy="293.1" r="1.6"/><circle cx="269" cy="295.6" r="1.6"/><circle cx="265.4" cy="298.9" r="1.6"/></g>
<path d="M301.2 230.7l2.1 2.3l-2.1 2.3l-2.1 -2.3z" fill="#8a2be2" stroke="#4a1880" stroke-width="0.3"/>
<text x="234.4" y="228" font-size="8.7" font-weight="bold" fill="#000">rs511492</text>
<text x="198.6" y="281.2" font-size="8.7" font-weight="bold" fill="#000">rs1459101*</text>
<g stroke="#ff4500" stroke-width="1.5" fill="none" stroke-linecap="round" stroke-linejoin="round"><path d="M277.6 222.6L299.6 230.3M291.6 221.2L299.6 230.3L288.1 231.9"/><path d="M246.2 282.1L267.7 288.8M260.7 280.6L267.7 288.8L255.9 291"/></g>
<g><text x="44.2" y="390.5" font-size="5.5" fill="#222">OR4X7P</text>
<path d="M66.4 388.8H70.7M70.7 388.8l-1.2 -0.9M70.7 388.8l-1.2 0.9" stroke="#444" stroke-width="0.45" fill="none"/>
<rect x="57.4" y="391.2" width="0.7" height="3.6" fill="#1a2a9c"/>
<text x="86" y="390.5" font-size="5.5" fill="#222">OR4A17P</text>
<path d="M111.2 388.8H115.5M115.5 388.8l-1.2 -0.9M115.5 388.8l-1.2 0.9" stroke="#444" stroke-width="0.45" fill="none"/>
<rect x="100.3" y="391.2" width="1.3" height="3.6" fill="#1a2a9c"/>
<text x="126.5" y="390.5" font-size="5.5" fill="#222">OR4A50P</text>
<path d="M151.7 388.8H156M156 388.8l-1.2 -0.9M156 388.8l-1.2 0.9" stroke="#444" stroke-width="0.45" fill="none"/>
<rect x="141.2" y="391.2" width="0.7" height="3.6" fill="#1a2a9c"/>
<text x="171.7" y="390.5" font-size="5.5" fill="#222">OR4C1P</text>
<path d="M194.1 388.8H198.4M198.4 388.8l-1.2 -0.9M198.4 388.8l-1.2 0.9" stroke="#444" stroke-width="0.45" fill="none"/>
<rect x="184.7" y="391.2" width="1.3" height="3.6" fill="#1a2a9c"/>
<text x="205.5" y="390.5" font-size="5.5" fill="#222">OR4C14P</text>
<path d="M230.9 388.8H235.2M235.2 388.8l-1.2 -0.9M235.2 388.8l-1.2 0.9" stroke="#444" stroke-width="0.45" fill="none"/>
<rect x="219.9" y="391.2" width="1.3" height="3.6" fill="#1a2a9c"/>
<text x="252.7" y="390.5" font-size="5.5" fill="#222">OR4C16</text>
<path d="M274.5 388.8H278.8M278.8 388.8l-1.2 -0.9M278.8 388.8l-1.2 0.9" stroke="#444" stroke-width="0.45" fill="none"/>
<rect x="265.4" y="391.2" width="1.3" height="3.6" fill="#1a2a9c"/>
<text x="298.6" y="390.5" font-size="5.5" fill="#222">OR4C11</text>
<path d="M298.2 388.8H293.9M293.9 388.8l1.2 -0.9M293.9 388.8l1.2 0.9" stroke="#444" stroke-width="0.45" fill="none"/>
<rect x="305.9" y="391.2" width="1.3" height="3.6" fill="#1a2a9c"/>
<text x="61.3" y="400.6" font-size="5.5" fill="#222">RP11-131J4.12</text>
<path d="M99.5 398.9H103.8M103.8 398.9l-1.2 -0.9M103.8 398.9l-1.2 0.9" stroke="#444" stroke-width="0.45" fill="none"/>
<rect x="82.5" y="401.4" width="0.7" height="3.6" fill="#1a2a9c"/>
<text x="114.9" y="400.6" font-size="5.5" fill="#222">OR4A13P</text>
<path d="M140.1 398.9H144.4M144.4 398.9l-1.2 -0.9M144.4 398.9l-1.2 0.9" stroke="#444" stroke-width="0.45" fill="none"/>
<rect x="129.2" y="401.4" width="1.3" height="3.6" fill="#1a2a9c"/>
<text x="229.7" y="400.6" font-size="5.5" fill="#222">OR4C15</text>
<path d="M251.5 398.9H255.8M255.8 398.9l-1.2 -0.9M255.8 398.9l-1.2 0.9" stroke="#444" stroke-width="0.45" fill="none"/>
<rect x="242.3" y="401.4" width="1.3" height="3.6" fill="#1a2a9c"/>
<text x="69.7" y="410.8" font-size="5.5" fill="#222">OR4A10P</text>
<path d="M94.9 409.1H99.2M99.2 409.1l-1.2 -0.9M99.2 409.1l-1.2 0.9" stroke="#444" stroke-width="0.45" fill="none"/>
<rect x="84.4" y="411.5" width="0.7" height="3.6" fill="#1a2a9c"/>
<text x="129" y="410.8" font-size="5.5" fill="#222">OR4A14P</text>
<path d="M154.2 409.1H158.5M158.5 409.1l-1.2 -0.9M158.5 409.1l-1.2 0.9" stroke="#444" stroke-width="0.45" fill="none"/>
<rect x="143.3" y="411.5" width="1.3" height="3.6" fill="#1a2a9c"/>
<text x="146.4" y="420.9" font-size="5.5" fill="#222">OR4A21P</text>
<path d="M171.6 419.2H175.9M175.9 419.2l-1.2 -0.9M175.9 419.2l-1.2 0.9" stroke="#444" stroke-width="0.45" fill="none"/>
<rect x="160.8" y="421.7" width="1.3" height="3.6" fill="#1a2a9c"/></g>
<path d="M25.2 428.4H321.5" stroke="#8e8e8e" stroke-width="1.0" fill="none"/>
<path d="M42.5 428.4v3.2" stroke="#666" stroke-width="0.7" fill="none"/>
<text x="45.3" y="442.8" text-anchor="middle" font-size="8.1" textLength="19.0" lengthAdjust="spacingAndGlyphs" fill="#2a2a2a">55.40</text>
<path d="M107.4 428.4v3.2" stroke="#666" stroke-width="0.7" fill="none"/>
<text x="110.2" y="442.8" text-anchor="middle" font-size="8.1" textLength="19.0" lengthAdjust="spacingAndGlyphs" fill="#2a2a2a">55.45</text>
<path d="M172.3 428.4v3.2" stroke="#666" stroke-width="0.7" fill="none"/>
<text x="175.1" y="442.8" text-anchor="middle" font-size="8.1" textLength="19.0" lengthAdjust="spacingAndGlyphs" fill="#2a2a2a">55.50</text>
<path d="M237.2 428.4v3.2" stroke="#666" stroke-width="0.7" fill="none"/>
<text x="240" y="442.8" text-anchor="middle" font-size="8.1" textLength="19.0" lengthAdjust="spacingAndGlyphs" fill="#2a2a2a">55.55</text>
<path d="M302.1 428.4v3.2" stroke="#666" stroke-width="0.7" fill="none"/>
<text x="304.9" y="442.8" text-anchor="middle" font-size="8.1" textLength="19.0" lengthAdjust="spacingAndGlyphs" fill="#2a2a2a">55.60</text>
<text x="172.5" y="455.9" text-anchor="middle" font-size="9.2" textLength="87.3" lengthAdjust="spacingAndGlyphs" font-weight="bold" fill="#000">chromosome 11 (Mb)</text>
<text x="2.1" y="218.3" font-size="12.6" font-weight="bold" fill="#000">b</text>
<defs><clipPath id="mapclip"><path d="M617.4 15.9L622 17.7L626.2 19.6L630.1 21.4L633.8 23.2L637.3 25.1L640.5 26.9L643.5 28.7L646.4 30.6L649.2 32.4L651.7 34.2L654.2 36.1L656.5 37.9L658.7 39.7L660.8 41.6L662.8 43.4L664.8 45.2L666.6 47.1L668.3 48.9L669.9 50.7L671.5 52.6L673 54.4L674.4 56.2L675.7 58.1L677 59.9L678.1 61.7L679.3 63.6L680.3 65.4L681.3 67.2L682.2 69.1L683.1 70.9L683.9 72.7L684.2 74.6L684.2 76.4L684.2 78.2L684.2 80.1L684.2 81.9L684.2 83.7L684.2 85.6L684.2 87.4L684.2 89.2L684.2 91.1L684.2 92.9L684.2 94.7L684.2 96.6L684.2 98.4L684.2 100.2L684.2 102.1L684.2 103.9L684.2 105.7L684.2 107.6L684.2 109.4L684.2 111.2L684.2 113.1L684.2 114.9L684.2 116.7L684.2 118.6L684.2 120.4L684.2 122.2L683.9 124.1L683.1 125.9L682.2 127.7L681.3 129.6L680.3 131.4L679.3 133.2L678.1 135.1L677 136.9L675.7 138.7L674.4 140.6L673 142.4L671.5 144.2L669.9 146.1L668.3 147.9L666.6 149.7L664.8 151.6L662.8 153.4L660.8 155.2L658.7 157.1L656.5 158.9L654.2 160.7L651.7 162.6L649.2 164.4L646.4 166.2L643.5 168.1L640.5 169.9L637.3 171.7L633.8 173.6L630.1 175.4L626.2 177.2L622 179.1L617.4 180.9L473.8 180.9L469.2 179.1L465 177.2L461.1 175.4L457.4 173.6L453.9 171.7L450.7 169.9L447.7 168.1L444.8 166.2L442 164.4L439.5 162.6L437 160.7L434.7 158.9L432.5 157.1L430.4 155.2L428.4 153.4L426.4 151.6L424.6 149.7L422.9 147.9L421.3 146.1L419.7 144.2L418.2 142.4L416.8 140.6L415.5 138.7L414.2 136.9L413.1 135.1L411.9 133.2L410.9 131.4L409.9 129.6L409 127.7L408.1 125.9L407.3 124.1L407.2 122.2L407.2 120.4L407.2 118.6L407.2 116.7L407.2 114.9L407.2 113.1L407.2 111.2L407.2 109.4L407.2 107.6L407.2 105.7L407.2 103.9L407.2 102.1L407.2 100.2L407.2 98.4L407.2 96.6L407.2 94.7L407.2 92.9L407.2 91.1L407.2 89.2L407.2 87.4L407.2 85.6L407.2 83.7L407.2 81.9L407.2 80.1L407.2 78.2L407.2 76.4L407.2 74.6L407.3 72.7L408.1 70.9L409 69.1L409.9 67.2L410.9 65.4L411.9 63.6L413.1 61.7L414.2 59.9L415.5 58.1L416.8 56.2L418.2 54.4L419.7 52.6L421.3 50.7L422.9 48.9L424.6 47.1L426.4 45.2L428.4 43.4L430.4 41.6L432.5 39.7L434.7 37.9L437 36.1L439.5 34.2L442 32.4L444.8 30.6L447.7 28.7L450.7 26.9L453.9 25.1L457.4 23.2L461.1 21.4L465 19.6L469.2 17.7L473.8 15.9Z"/></clipPath></defs>
<g clip-path="url(#mapclip)">
<path d="M453.9 171.7H637.3M439.5 162.6H651.7M428.4 153.4H662.8M419.7 144.2H671.5M413.1 135.1H678.1M408.1 125.9H683.1M404.7 116.7H686.5M402.7 107.6H688.5M402 98.4H689.2M402.7 89.2H688.5M404.7 80.1H686.5M408.1 70.9H683.1M413.1 61.7H678.1M419.7 52.6H671.5M428.4 43.4H662.8M439.5 34.2H651.7M453.9 25.1H637.3M480 15.9L461.8 25.1L448.6 34.2L438.4 43.4L430.6 52.6L424.5 61.7L420 70.9L416.8 80.1L415 89.2L414.4 98.4L415 107.6L416.8 116.7L420 125.9L424.5 135.1L430.6 144.2L438.4 153.4L448.6 162.6L461.8 171.7L480 180.9M484 15.9L466.9 25.1L454.5 34.2L445 43.4L437.5 52.6L431.8 61.7L427.6 70.9L424.6 80.1L422.9 89.2L422.3 98.4L422.9 107.6L424.6 116.7L427.6 125.9L431.8 135.1L437.5 144.2L445 153.4L454.5 162.6L466.9 171.7L484 180.9M488 15.9L472 25.1L460.4 34.2L451.5 43.4L444.5 52.6L439.2 61.7L435.2 70.9L432.5 80.1L430.9 89.2L430.3 98.4L430.9 107.6L432.5 116.7L435.2 125.9L439.2 135.1L444.5 144.2L451.5 153.4L460.4 162.6L472 171.7L488 180.9M491.9 15.9L477.1 25.1L466.3 34.2L458 43.4L451.5 52.6L446.6 61.7L442.9 70.9L440.3 80.1L438.8 89.2L438.3 98.4L438.8 107.6L440.3 116.7L442.9 125.9L446.6 135.1L451.5 144.2L458 153.4L466.3 162.6L477.1 171.7L491.9 180.9M495.9 15.9L482.2 25.1L472.2 34.2L464.5 43.4L458.5 52.6L453.9 61.7L450.5 70.9L448.1 80.1L446.7 89.2L446.3 98.4L446.7 107.6L448.1 116.7L450.5 125.9L453.9 135.1L458.5 144.2L464.5 153.4L472.2 162.6L482.2 171.7L495.9 180.9M499.9 15.9L487.3 25.1L478.1 34.2L471 43.4L465.5 52.6L461.3 61.7L458.1 70.9L456 80.1L454.7 89.2L454.3 98.4L454.7 107.6L456 116.7L458.1 125.9L461.3 135.1L465.5 144.2L471 153.4L478.1 162.6L487.3 171.7L499.9 180.9M503.9 15.9L492.4 25.1L484 34.2L477.5 43.4L472.5 52.6L468.7 61.7L465.8 70.9L463.8 80.1L462.6 89.2L462.2 98.4L462.6 107.6L463.8 116.7L465.8 125.9L468.7 135.1L472.5 144.2L477.5 153.4L484 162.6L492.4 171.7L503.9 180.9M507.9 15.9L497.5 25.1L489.9 34.2L484 43.4L479.5 52.6L476 61.7L473.4 70.9L471.6 80.1L470.6 89.2L470.2 98.4L470.6 107.6L471.6 116.7L473.4 125.9L476 135.1L479.5 144.2L484 153.4L489.9 162.6L497.5 171.7L507.9 180.9M511.9 15.9L502.6 25.1L495.8 34.2L490.6 43.4L486.5 52.6L483.4 61.7L481.1 70.9L479.4 80.1L478.5 89.2L478.2 98.4L478.5 107.6L479.4 116.7L481.1 125.9L483.4 135.1L486.5 144.2L490.6 153.4L495.8 162.6L502.6 171.7L511.9 180.9M515.9 15.9L507.7 25.1L501.7 34.2L497.1 43.4L493.5 52.6L490.7 61.7L488.7 70.9L487.3 80.1L486.4 89.2L486.2 98.4L486.4 107.6L487.3 116.7L488.7 125.9L490.7 135.1L493.5 144.2L497.1 153.4L501.7 162.6L507.7 171.7L515.9 180.9M519.9 15.9L512.8 25.1L507.6 34.2L503.6 43.4L500.5 52.6L498.1 61.7L496.3 70.9L495.1 80.1L494.4 89.2L494.1 98.4L494.4 107.6L495.1 116.7L496.3 125.9L498.1 135.1L500.5 144.2L503.6 153.4L507.6 162.6L512.8 171.7L519.9 180.9M523.9 15.9L517.8 25.1L513.5 34.2L510.1 43.4L507.5 52.6L505.5 61.7L504 70.9L502.9 80.1L502.3 89.2L502.1 98.4L502.3 107.6L502.9 116.7L504 125.9L505.5 135.1L507.5 144.2L510.1 153.4L513.5 162.6L517.8 171.7L523.9 180.9M527.8 15.9L522.9 25.1L519.4 34.2L516.6 43.4L514.5 52.6L512.8 61.7L511.6 70.9L510.8 80.1L510.3 89.2L510.1 98.4L510.3 107.6L510.8 116.7L511.6 125.9L512.8 135.1L514.5 144.2L516.6 153.4L519.4 162.6L522.9 171.7L527.8 180.9M531.8 15.9L528 25.1L525.3 34.2L523.1 43.4L521.5 52.6L520.2 61.7L519.2 70.9L518.6 80.1L518.2 89.2L518.1 98.4L518.2 107.6L518.6 116.7L519.2 125.9L520.2 135.1L521.5 144.2L523.1 153.4L525.3 162.6L528 171.7L531.8 180.9M535.8 15.9L533.1 25.1L531.2 34.2L529.6 43.4L528.5 52.6L527.6 61.7L526.9 70.9L526.4 80.1L526.1 89.2L526.1 98.4L526.1 107.6L526.4 116.7L526.9 125.9L527.6 135.1L528.5 144.2L529.6 153.4L531.2 162.6L533.1 171.7L535.8 180.9M539.8 15.9L538.2 25.1L537.1 34.2L536.2 43.4L535.5 52.6L534.9 61.7L534.5 70.9L534.2 80.1L534.1 89.2L534 98.4L534.1 107.6L534.2 116.7L534.5 125.9L534.9 135.1L535.5 144.2L536.2 153.4L537.1 162.6L538.2 171.7L539.8 180.9M543.8 15.9L543.3 25.1L542.9 34.2L542.7 43.4L542.5 52.6L542.3 61.7L542.2 70.9L542.1 80.1L542 89.2L542 98.4L542 107.6L542.1 116.7L542.2 125.9L542.3 135.1L542.5 144.2L542.7 153.4L542.9 162.6L543.3 171.7L543.8 180.9M547.8 15.9L548.4 25.1L548.8 34.2L549.2 43.4L549.4 52.6L549.6 61.7L549.8 70.9L549.9 80.1L550 89.2L550 98.4L550 107.6L549.9 116.7L549.8 125.9L549.6 135.1L549.4 144.2L549.2 153.4L548.8 162.6L548.4 171.7L547.8 180.9M551.8 15.9L553.5 25.1L554.7 34.2L555.7 43.4L556.4 52.6L557 61.7L557.4 70.9L557.7 80.1L557.9 89.2L558 98.4L557.9 107.6L557.7 116.7L557.4 125.9L557 135.1L556.4 144.2L555.7 153.4L554.7 162.6L553.5 171.7L551.8 180.9M555.8 15.9L558.6 25.1L560.6 34.2L562.2 43.4L563.4 52.6L564.4 61.7L565.1 70.9L565.6 80.1L565.8 89.2L565.9 98.4L565.8 107.6L565.6 116.7L565.1 125.9L564.4 135.1L563.4 144.2L562.2 153.4L560.6 162.6L558.6 171.7L555.8 180.9M559.8 15.9L563.7 25.1L566.5 34.2L568.7 43.4L570.4 52.6L571.7 61.7L572.7 70.9L573.4 80.1L573.8 89.2L573.9 98.4L573.8 107.6L573.4 116.7L572.7 125.9L571.7 135.1L570.4 144.2L568.7 153.4L566.5 162.6L563.7 171.7L559.8 180.9M563.7 15.9L568.8 25.1L572.4 34.2L575.2 43.4L577.4 52.6L579.1 61.7L580.4 70.9L581.2 80.1L581.7 89.2L581.9 98.4L581.7 107.6L581.2 116.7L580.4 125.9L579.1 135.1L577.4 144.2L575.2 153.4L572.4 162.6L568.8 171.7L563.7 180.9M567.7 15.9L573.9 25.1L578.3 34.2L581.8 43.4L584.4 52.6L586.5 61.7L588 70.9L589 80.1L589.7 89.2L589.9 98.4L589.7 107.6L589 116.7L588 125.9L586.5 135.1L584.4 144.2L581.8 153.4L578.3 162.6L573.9 171.7L567.7 180.9M571.7 15.9L579 25.1L584.2 34.2L588.3 43.4L591.4 52.6L593.8 61.7L595.6 70.9L596.9 80.1L597.6 89.2L597.9 98.4L597.6 107.6L596.9 116.7L595.6 125.9L593.8 135.1L591.4 144.2L588.3 153.4L584.2 162.6L579 171.7L571.7 180.9M575.7 15.9L584 25.1L590.1 34.2L594.8 43.4L598.4 52.6L601.2 61.7L603.3 70.9L604.7 80.1L605.6 89.2L605.8 98.4L605.6 107.6L604.7 116.7L603.3 125.9L601.2 135.1L598.4 144.2L594.8 153.4L590.1 162.6L584 171.7L575.7 180.9M579.7 15.9L589.1 25.1L596 34.2L601.3 43.4L605.4 52.6L608.6 61.7L610.9 70.9L612.5 80.1L613.5 89.2L613.8 98.4L613.5 107.6L612.5 116.7L610.9 125.9L608.6 135.1L605.4 144.2L601.3 153.4L596 162.6L589.1 171.7L579.7 180.9M583.7 15.9L594.2 25.1L601.9 34.2L607.8 43.4L612.4 52.6L615.9 61.7L618.5 70.9L620.4 80.1L621.4 89.2L621.8 98.4L621.4 107.6L620.4 116.7L618.5 125.9L615.9 135.1L612.4 144.2L607.8 153.4L601.9 162.6L594.2 171.7L583.7 180.9M587.7 15.9L599.3 25.1L607.8 34.2L614.3 43.4L619.4 52.6L623.3 61.7L626.2 70.9L628.2 80.1L629.4 89.2L629.8 98.4L629.4 107.6L628.2 116.7L626.2 125.9L623.3 135.1L619.4 144.2L614.3 153.4L607.8 162.6L599.3 171.7L587.7 180.9M591.7 15.9L604.4 25.1L613.7 34.2L620.8 43.4L626.4 52.6L630.6 61.7L633.8 70.9L636 80.1L637.3 89.2L637.7 98.4L637.3 107.6L636 116.7L633.8 125.9L630.6 135.1L626.4 144.2L620.8 153.4L613.7 162.6L604.4 171.7L591.7 180.9M595.7 15.9L609.5 25.1L619.6 34.2L627.3 43.4L633.4 52.6L638 61.7L641.5 70.9L643.8 80.1L645.3 89.2L645.7 98.4L645.3 107.6L643.8 116.7L641.5 125.9L638 135.1L633.4 144.2L627.3 153.4L619.6 162.6L609.5 171.7L595.7 180.9M599.6 15.9L614.6 25.1L625.5 34.2L633.9 43.4L640.4 52.6L645.4 61.7L649.1 70.9L651.7 80.1L653.2 89.2L653.7 98.4L653.2 107.6L651.7 116.7L649.1 125.9L645.4 135.1L640.4 144.2L633.9 153.4L625.5 162.6L614.6 171.7L599.6 180.9M603.6 15.9L619.7 25.1L631.4 34.2L640.4 43.4L647.4 52.6L652.7 61.7L656.7 70.9L659.5 80.1L661.1 89.2L661.7 98.4L661.1 107.6L659.5 116.7L656.7 125.9L652.7 135.1L647.4 144.2L640.4 153.4L631.4 162.6L619.7 171.7L603.6 180.9M607.6 15.9L624.8 25.1L637.3 34.2L646.9 43.4L654.4 52.6L660.1 61.7L664.4 70.9L667.3 80.1L669.1 89.2L669.7 98.4L669.1 107.6L667.3 116.7L664.4 125.9L660.1 135.1L654.4 144.2L646.9 153.4L637.3 162.6L624.8 171.7L607.6 180.9M611.6 15.9L629.9 25.1L643.2 34.2L653.4 43.4L661.3 52.6L667.5 61.7L672 70.9L675.2 80.1L677 89.2L677.6 98.4L677 107.6L675.2 116.7L672 125.9L667.5 135.1L661.3 144.2L653.4 153.4L643.2 162.6L629.9 171.7L611.6 180.9M615.6 15.9L635 25.1L649.1 34.2L659.9 43.4L668.3 52.6L674.8 61.7L679.6 70.9L683 80.1L685 89.2L685.6 98.4L685 107.6L683 116.7L679.6 125.9L674.8 135.1L668.3 144.2L659.9 153.4L649.1 162.6L635 171.7L615.6 180.9" stroke="#f2f2f2" stroke-width="0.36" fill="none"/>
<path d="M425.5 65.6L428.1 66.2L429.9 65.6L432.6 64.7L435.6 64.5L438 64.2L438.6 64.6L437.6 65.9L436.7 67.2L437.1 68L438.5 68.2L440 68.8L439.9 69.5L441.5 70.4L443.2 70.1L443.7 68.6L445.3 68.2L447.2 69.2L450 70.1L451.7 69.5L452.7 69.7L452.5 71L452.6 72.7L452.9 74.6L453.2 76.4L453.9 78.7L453.7 81L454.5 81.9L454.9 84.2L455.9 85.1L457.3 86.8L457.4 87.9L458.7 88.8L460.3 88.1L461.9 88L463.7 87.6L463.4 88.9L462.5 91.1L460.7 94.3L459.1 96.1L457.4 97.5L455.9 99.3L454.7 100.7L453.9 102.5L453.6 104.4L454.1 105.7L455.1 108L455.6 111.7L455.3 113.1L453.2 114.4L452 116.6L452.8 118.6L453.1 120.4L451.6 121.8L451.8 123.2L451.7 124.8L451.3 125.9L450.3 127.7L449.3 129.1L448.4 129.6L445.8 129.8L444.5 130.3L443.1 129.8L442.2 128.2L440.7 125.9L439.3 124.5L438 122.7L436.7 119.5L434.8 116.7L433.4 114.4L433.1 112.2L433.9 109.9L433.9 108L433.3 106.5L432.3 103.9L431.9 102.5L430 100.7L429.4 99L429.9 97.5L430.1 95.7L430 94.7L429.2 94.3L428 94.4L427.2 94.5L426.1 92.7L425.3 92.5L423.5 92.8L421.7 93.6L420.9 94L420.1 93.7L419.3 93.5L416.5 94.4L415.3 93.8L413.5 92.2L412.3 90.6L412.1 89.7L411.1 88.3L410 86.9L410.1 86L409.8 84.9L410.8 83.7L411.4 81.9L412 80.1L411.6 79.2L413.1 76.9L415.1 74.6L416.8 73L418.2 72.5L419.8 71.4L420.5 70L421.6 68.6L423.3 67.6L424.4 66.8ZM462.2 109.4L463.4 112.6L463 114.4L462.9 116.7L462.5 120.4L462 121.5L460.9 121.8L460 121.3L459 119L459.3 116.7L458.6 114L459.7 113.1L461.1 111.7L461.7 110.6ZM425.8 65.4L425.6 64.7L424.9 64.3L423.8 64.5L424.6 63.1L424.2 62.8L425.9 60.8L426.6 59L428 58.3L429.7 58.5L431.1 58.5L432.3 58.6L433.3 57.6L434.2 56.2L434.1 55.3L433 54.6L433.1 54L434.7 53.7L435.6 53.9L436.1 52.8L437.4 53L438.7 52.4L439.3 51.7L440.9 51.3L441.9 50.5L442.9 49.8L444.7 49.4L445.9 49.1L446.8 48.2L447.2 47.1L448 46.2L450.1 45.5L449 46.6L448.7 47.5L447.6 48L447.4 48.4L447.8 48.9L449.1 48.5L449.8 48.9L451.4 48.6L453.3 48.3L453.8 48.5L455.2 48L456.5 46.2L457.6 45.6L458.2 46.2L459.3 45.4L459.6 44.3L460.9 43.9L462.9 43.8L464.4 43.5L463.9 42.9L461.4 43.2L459.6 43.4L459.6 42.5L461.2 40.7L464 39.3L465.4 38.5L465 38.1L463.6 38.3L462.3 39.3L459.8 40.5L457.8 41.6L456.7 42.8L457.2 43.4L456.2 44.1L454.7 44.8L453.5 46.2L452.7 46.9L451.5 47.1L450.9 47.6L450.1 47.6L450.4 46.8L450.9 45.5L451.4 44.3L451.4 43.9L450.2 44.5L448.7 45.1L447.7 45.1L447.7 44.3L449 42.5L450 41.6L451.8 40.8L453.4 40.2L454.8 39.7L457.3 38.4L459.3 37L461.7 35.8L464.1 35L465.7 34.2L467.9 33.8L470.7 33.2L471.7 33.5L473 34L472.2 34.5L473.5 34.8L474.9 35.1L476.4 36.3L476.4 37.2L475.2 37.7L473 37.4L471.2 37.4L471.3 38.4L470.7 39.3L471.7 39.7L472.7 39.3L474.4 39.2L474.8 38.2L477.3 37.7L478.7 36.5L479.3 35.6L480.1 36.1L479.7 37L481.8 36.3L484.7 35.6L485.1 35.9L487.9 35.3L489.8 34.7L489.7 35.3L492.3 35L493.2 35.5L494.6 33.3L497.1 31.5L498.9 31.7L497.8 33.3L496.4 35.1L496.2 36.5L497.3 35.6L499.3 32.4L500.2 32.4L501.7 32.2L503.9 31L502.7 32.4L503.6 32.9L504.4 31L508.3 29.7L511.6 28.7L516.2 28.3L519 27.2L520.1 28L522.7 28.3L522.6 30.6L520.6 30.8L522.2 31L525.4 31.5L528.4 30.8L529.9 31.9L531 33.3L533.2 32.9L535.5 32.9L537.3 31.9L537.9 31.7L540.7 32.1L543 32.9L544.7 33.4L547.6 33.4L549.2 34.6L551.2 34.5L553.6 34.3L555.1 35.1L555.3 34.2L558.3 34.4L560.8 35.1L562.7 35.8L565.4 37L567.5 37.8L566.2 39.3L564.6 39L562.6 38.4L561.5 38.8L560.3 39.3L561.5 41.1L558.7 41.6L556.9 42.5L556 43.4L553.1 43.4L551.5 44.8L551.2 45.4L551 46.9L549.3 48.4L549.2 49.6L548 50.7L547.2 51.7L546.6 50.3L546.3 48L546.6 46.2L547.9 44.8L549.8 42.9L551.1 42L551.7 41.1L549.1 41.8L547.2 42L545.9 43.9L544 44.3L541.3 43.9L538.1 44L536 45.7L534.5 47.5L533.4 48.4L534.7 49.1L536.3 49.6L536.5 50.7L535.9 51.7L535.8 53.5L534.6 55.3L533 56.9L531.9 58.1L530 59.2L528.5 59.4L527.7 59.9L527.4 60.8L525.7 61.9L526.3 63.1L526.9 64.5L526.7 65.9L525.3 66.6L524.4 66.8L524.6 65.4L525 64L523.7 63.6L523.8 62.2L523.4 61.7L521.6 62.7L521.4 61.3L521.8 61L519.8 62.2L518.5 62.7L518.9 63.6L519.2 64.2L520.7 63.9L521.8 64.3L520.2 65.2L519.2 66.3L519.9 67.7L520.8 69.2L520.8 70.1L519.9 70.6L520.8 71.1L520.3 72.3L519 74.1L518.1 75.5L517.3 76L516.2 77L514.2 78L513.6 78.2L511.6 78.8L511 79.8L510.7 78.8L509.7 78.5L508.5 79.2L507.6 80.5L507.4 81.4L508.2 83L509.2 83.7L509.8 86L509.7 87.9L508.3 88.9L507.6 89.7L506.4 90.4L506.1 89.2L505.1 88.7L504.6 87.7L503.2 86.8L502.9 86L502.4 86.9L501.9 88.8L501.7 89.9L502.5 90.6L502.9 92.2L504 92.7L504.9 94.3L504.9 95.8L505.5 97.1L504.8 97L503.2 95.7L502.5 93.5L502 92.3L500.9 91.1L501.1 89.2L501.3 87.4L501.1 85.6L500.8 83.3L499.9 83L499.1 83.9L498.1 83.7L498.5 81.9L497.8 80.2L497 79.2L496.8 77.9L495.8 77.8L494.5 78.4L492.9 78.7L492.7 79.6L491.1 80.5L489.8 81.9L488.7 83.2L487.1 84.2L486.8 86.3L486.4 87.9L486.4 89L485.6 89.9L485 90.2L484.4 91L483.6 90.2L483.3 88.8L482.6 86.9L482.4 85.1L481.8 83.3L481.6 81L481.7 79.2L481.4 78.7L480.2 79.4L479.1 78.1L479.8 77.5L478.8 76.9L477.8 75.7L477.5 75.1L475.6 75.2L473.6 75.3L471.7 75.1L470.4 74.8L470.3 73.7L468.5 74L467.1 73.1L466.2 71.8L465.8 70.7L465 70.5L464.2 71L464.4 72.5L465.1 73.8L465 74.8L465.6 75L465.9 74.5L465.9 75.6L466.1 76.2L467.9 76.2L469.5 74.8L469.9 74.2L469.6 75.9L471.1 76.8L471.8 77.8L470.5 79.6L469.8 81L468.6 81.9L467.3 82.8L465 83.7L462.2 85.3L458.9 86.7L457.7 86.8L457.5 85.6L457.4 84.2L457.5 83L456.6 81L455.6 78.7L455.5 76.9L454.7 75L454 73.2L454.1 71.4L453.2 72.9L452.6 72.3L452.5 71L452.7 69.7L454.1 69.7L455.1 68.3L456.1 66.8L456.9 65.4L457.3 64.8L456 64.8L454.7 65.3L453.2 64.7L451.8 65.1L450.9 64.5L450.8 63.1L451.5 62.2L451.1 61.7L451.7 61L449.8 61L449.2 61.6L448.8 61.3L448.4 62.7L448.7 63.6L447.8 64L447.4 64.9L446.5 64.7L446.6 63.6L446.4 62L446.8 60.4L446.9 59.6L446.1 59L445.1 58.1L445 57L444.3 57.2L444.7 56.5L443.5 56.9L443.1 57.8L443.5 58.5L443.8 59.7L444.6 60.1L445.4 61.2L445.5 61.6L444.6 61.3L443.9 62L444 62.7L443.3 63.3L442.5 63.6L443.2 62.7L443.4 61.7L442.8 61.1L442 60.5L441.6 59.7L441 59L441.3 58.2L440.6 57.7L439.3 58.3L437.8 58.9L437.1 58.6L436.1 58.7L435.3 59.4L435.1 60L434.2 60.5L432.8 61L431.4 62.2L431.4 62.8L430.2 63.8L428.8 64.7L427 64.8ZM453.7 60.6L455.5 60.6L457.3 59.9L458.4 59.9L459.5 60.6L461.4 60.8L463.1 60.3L463.3 59.4L462.6 58.5L461.6 57.6L461.2 57L462.3 55.5L463.5 55.1L462.7 55.3L460.2 56L460.2 56.9L459.6 57.3L458.4 57.6L458.2 56.7L459 56.2L457.9 55.7L456.9 56.2L455.9 57L454.7 58.1L453.7 59L453.3 59.4L453.2 60.1ZM470.7 55.8L471.9 55.5L473.2 55.8L472.7 57L471.2 57.5L470.4 57.8L470.5 58.7L471.3 59.4L471.1 60.4L470.9 61.7L470.9 62.7L470.6 64.2L469.1 64.8L468 64.7L467.1 64L467.3 63.1L468 62.2L469 61.5L468.6 60.8L468.2 59.9L467.9 59L468.1 57.6L469.1 56.6ZM433.6 52.6L435.3 52.3L437.2 51.9L439.3 51.5L439.1 51.2L440.5 50.1L439.8 49.8L440.2 48.9L440 48L440.4 47.1L440.2 46.7L441.8 45.6L440.4 45.6L441.8 44.7L440.5 44.7L439.1 45.7L438 46.6L437.9 47.5L437.6 48.2L438.7 48.2L437.9 49.4L436.7 49.5L436.3 50.3L435.1 50.9L436.3 51.3L435.1 51.7ZM434.7 50.5L435.8 49.4L436.9 48.2L436.2 47.7L434.9 48.4L433.5 48.9L433.1 49.5L432.7 50.3L431.6 50.9L432 51.2L433.2 50.9ZM435 38.4L437.3 37.5L439.5 37.7L441.8 37.6L441 38.8L439.4 39.5L436.2 40.3L434.1 39.9L435.2 39.3ZM440.2 63.6L442.5 63.4L441.6 64.8L440 63.9ZM438.4 60.8L439.5 60.8L438.5 62.5L437.6 62.7ZM439.6 59.1L440.2 59.1L439.5 60.4L439.1 60.1ZM447.4 65.8L449.4 66L449.1 66.3L447.3 66.1ZM453.8 66.3L455.7 65.8L455 66.4L453.8 66.7ZM486 32.9L486.6 33.5L488.6 33.6L488.7 31.9L490.4 30.6L493.2 29.2L496.5 28.6L499.5 27.9L498.2 27.8L494.4 28.5L491.1 29.5L488.4 31ZM471.2 26L473.8 25.3L477.5 24.8L480.9 24.9L478 26L475.8 26.4L473.6 27.4L471.3 28.1L470.9 27.4ZM490.8 24.7L493.4 24.2L497.9 23.6L499.2 24.3L495.6 24.9L492.4 25.1ZM515 26.4L517.7 25.3L520.4 24.2L520.9 26.2L518.5 26.9L516.3 26.9ZM536 29.2L538.3 28.7L540.4 29.2L543.1 29.5L542 29.8L538.7 29.8L536.4 29.9ZM559.5 33.1L560.9 32.9L561.9 33.3L560.5 33.5ZM536.7 56.2L537.6 55.7L537.3 54.9L537.7 53.3L538.6 53.5L537.8 51.7L537.9 49.8L537.6 48.6L537.2 49.4L536.8 50.7L536.9 52.6L536.8 54.4ZM535.2 60.4L535 59.4L535.4 58.7L536.2 58.7L536.4 56.9L537 57.3L538.2 58.1L539 57.8L539.1 58.7L538 59.1L537.4 59.9L536.4 59.4L535.8 59.4L535.7 60.1ZM527.8 67.2L529.1 66L530.6 65.8L531.7 65.7L532.4 64.3L533.7 64.2L534.5 63.1L534.9 61.7L535.1 60.6L536 60.5L536.3 61.7L536.1 62.8L535.6 63.8L535.4 64.9L535.3 65.7L534.6 66.4L534.5 65.9L533.8 66.6L532.8 66.7L532.3 67L531.5 67.7L531.1 67L529.8 66.9L528.9 67.1ZM527.8 67.3L528.4 67.9L528.4 69.1L527.7 69.8L527.2 69.7L527.2 68.6L526.8 68.2L527.3 67.6ZM529 67.2L530.4 67L530.7 67.4L530.1 67.9L529.3 68.3L528.8 67.9ZM520.1 75.3L520.4 75.9L519.8 77.5L519.3 78.2L518.8 77.3L519.4 75.9ZM509.7 80.8L510.8 80.1L511.5 80.4L511.1 81.3L510.3 81.7L509.7 81.4ZM518.9 81.4L520.2 81.5L520.2 83.3L519.6 84.7L520.3 85.6L521.5 85.8L521.4 86.9L520.5 85.9L519.5 85.8L518.8 85.3L518.4 84.2L518.7 83.3ZM519.7 92L521 90.6L522.6 89.4L523.3 91.1L523.1 92.6L522.4 93.3L521.3 92.4L520.9 91.4ZM521.7 86.9L522.6 86.9L522.8 88.3L522.3 89.2L521.8 89L521.8 87.9ZM519.8 87.6L520.8 87.9L521 88.8L520.7 90L520.2 89.6L520.3 88.8L519.7 88.6ZM515.9 90.7L516.6 90.3L517.9 88.1L517.6 88L516.6 89.4ZM518.6 86.1L519.4 86.2L519.3 87.1L518.9 86.9ZM509.3 97L509.8 96.6L511.1 96.1L512.5 95.4L513.3 94.3L514.5 93.4L515.5 92L516.3 92.6L517.3 93.6L516.7 94.4L516.3 95.2L516.5 96.4L517.3 97.5L516.3 97.7L516.1 99.1L515.3 100.2L515.1 101.6L513.9 102.2L512.5 101.4L511.6 101.6L510.3 101.1L510.1 99.8L509.5 98.9ZM498.4 93.3L500.2 93.6L501.1 94.9L502.5 96.4L503.7 97.5L504.9 98.4L505.7 99.5L506.9 101L506.9 102.2L506.8 103.7L505.9 103.7L505.2 103L504 102.1L502.9 101L502.4 99.3L501.3 97.9L500.8 96.6L499.4 95ZM506.4 104.6L507.6 103.9L509 104.4L510.6 104.6L512.3 104.8L513.8 105.5L513.7 106.3L511.8 106L509.8 105.6L508.2 105.5L507.3 105.1ZM514.2 105.8L515.8 105.9L517.4 106L519 106.1L520.6 106L520.6 106.6L519 106.6L517.4 106.5L515.8 106.7L514.2 106.5ZM521 107.8L522.2 106.8L523.7 106.1L523.3 106.7L522.2 107.4L521.4 107.8ZM517.4 107.1L518.8 107.5L518.4 107.8L517.4 107.4ZM517.9 97.7L518.7 97.2L520.5 97.5L522.2 96.9L521.7 97.9L519.7 97.9L518.5 98.1L518.1 99.1L519.3 99.3L520.7 99.1L520.3 99.9L519.4 100.2L519.9 101.3L520.5 102.5L520.1 103.4L519.5 102.8L518.9 101.2L518.5 101.6L518.4 103.4L517.7 103.4L517.7 101.6L517.2 100.8L517.7 99.3ZM524.1 96.6L524.6 97L525.1 98.1L524.5 99.1L524.3 97.9ZM524.5 101.2L526.5 101.2L526.7 101.7L524.9 101.6ZM526.9 99.1L528 98.8L529.2 99.1L529.6 100.7L530.4 101.4L531.2 100.4L532.4 99.9L534.8 100.8L536.8 101.6L537.6 102L538.7 103.3L540 103.9L540.3 104.6L540.4 105.7L541.6 107.1L542.7 107.8L541.6 107.9L540 107.6L539.2 106.7L538.8 105.7L537.6 105.5L536.9 106.2L536.5 106.8L534.9 106.8L533.7 105.9L532.5 106L533.1 104.8L532.5 103.4L530.9 102.6L529.3 102.1L528.5 102.1L527.7 101.1L528.9 100.5L527.7 100.2L526.9 99.6ZM540.7 103.6L542 103L543.2 102.2L543.8 102.3L543.6 103.3L542.4 104.1L541.2 104.1ZM542.6 100.8L544 101.6L544.4 102.6L543.8 101.9L542.6 101.1ZM545.7 103.4L546.6 104.4L546.4 104.7L545.8 103.9ZM547.2 104.6L548 105.1L549.6 105.9L549.2 106.1L547.6 105.3ZM549.7 106.9L550.6 107.2L551.2 107.9L551.7 108.2L550.9 108L549.8 107.4ZM555.2 112L555.7 112.6L556.1 113.5L555.6 113.1L555.1 112.4ZM553 116.8L554.2 117.7L555.3 118.8L554.9 118.8L553.6 117.9L552.9 117ZM563.5 114.4L564.5 114.5L564.5 115.1L563.6 115ZM584.3 79.9L585.1 80.2L584.7 81L584.4 80.4ZM486.4 89.5L487.3 90.6L487.7 92L487.1 92.8L486.4 92.9L486.2 91.5ZM513.7 122.2L513.8 119L514.4 118.4L516.1 117.3L517.8 116.7L519.3 116.3L520.2 115.1L521.2 114.3L521.3 113.2L522.3 112.2L523.7 111.1L524.7 112L525.9 112.1L526 110.8L526.8 109.8L528.2 108.8L530.1 109.4L531.6 109.4L531 110.8L530.6 112L531.4 112.9L532.6 113.5L533.8 114.4L534.8 114.4L535.3 112.6L535.5 110.3L535.8 108.3L536.9 109.9L537.1 111.5L538.3 112.2L538.8 113.9L539.2 115.6L540.5 116.7L541.5 117.8L542.7 119.7L544.1 121.1L544.6 122.2L544.9 124.6L544.5 126.8L543.9 128.4L543.2 129.4L542.4 131.4L542.3 132.8L540.8 133.1L539.5 134.2L538.4 133.5L537.5 134L535.6 133.4L534.6 132.3L534.2 131.1L533.6 131L533.6 130.3L533 128.7L532.4 129.4L531.7 130.3L530.9 129.1L530.1 128.5L528.5 127.7L527.7 127.3L526.2 127.4L524 127.9L522.5 128.7L522.2 129.5L519.6 129.6L518.2 130.5L516.7 130.3L515.9 129.8L516.2 127.7L515.5 126.4L515 124.8ZM538.4 135.7L539.7 136.1L541.1 135.9L541.1 137.1L540.8 138L540 138.4L539.3 138L538.8 137.1ZM559.3 129.9L560.5 130.8L560.7 132.1L561.5 132.9L563.1 132.9L563.4 133L562.9 134.3L562.1 134.6L562.2 135.2L561.3 136.3L560.7 136.5L560.4 136.3L560.7 135.3L560.6 134.9L559.9 134.4L560.5 134L560.7 133.1L560.3 131.9L559.5 130.5ZM559 135.5L560.1 136.6L559.7 137.4L558.9 138.4L559 138.6L557.7 139.1L557.3 140.5L556.3 141.1L555.4 141.1L554.2 140.6L555 139.5L555.7 138.7L557.2 137.8L557.9 136.7L558.6 135.8ZM568.8 38.3L571 37.4L572.4 37.9L571.2 37L569.4 35.8L570.8 34.7L572.3 33.8L574 33L576.8 33.5L579.4 34L582.5 34.2L583.8 34.6L586.5 35.1L588 34.7L590.1 34.1L591.1 34L593.3 34.7L595.5 34.4L598.4 35.1L600.5 36.1L603.3 36.3L604.3 35.9L606.2 36.1L608.5 36.3L610.5 36.1L611.5 35.9L610.8 34.7L608.7 32.9L609.5 32.4L611.1 33.3L612.9 34.7L614.9 35.6L616.9 36.5L616.7 35.6L616.8 34.7L618.9 34.7L620.4 36.1L621.3 37.4L619.9 37.9L619.2 38.6L619.6 39.6L618.3 39.9L617.6 41.1L617.6 42.5L618.4 44.3L620.4 45.7L622.6 46.2L625.2 47.1L627 47.7L628.9 47.9L630.3 49.8L632.3 51.4L633.3 51.2L631.8 48.9L632 47.1L631.3 45.7L629.1 44.5L628.6 42.9L627 41.3L628.9 41.3L631.5 42L633.1 42.5L634.6 43.9L636.4 45L637.4 44.5L637.2 43.1L640.3 45.2L642 46.6L644.1 48L646.5 48.9L648.5 50.3L649.4 51.2L648.6 51.4L647.8 51.7L647.2 52.4L645.1 52.4L642.7 52.4L642 53.5L641.5 55L642.2 54.4L643.6 53.3L645.1 53.7L645.1 54.6L646.2 55.8L647.2 56.2L648.8 56.5L649.4 55.8L649.4 56.9L647.9 57.5L646.9 58.5L646 57.6L646.7 56.7L645.2 57.2L644.5 57.8L643.6 58.4L643.7 59.4L644.5 59.9L643.7 60.5L642.2 61L642.5 62.2L642.2 62.8L642.2 64.2L642.2 64.6L643.1 66L642.3 66.8L641.8 67.3L640.9 68.2L640.2 69.2L640.2 70.4L641.6 72.5L642.4 74.1L642.5 75.2L641.8 75.3L641.1 74.3L639.9 72.9L639.6 71.8L638.4 70.9L637.3 71.1L636 70.5L634.5 70.6L634.6 71.6L633.2 71.5L631.2 71.2L630.2 71.6L629 72.9L629.1 74.6L629.3 76.9L629.5 78L630.3 79.6L631.3 80.8L632.5 81.6L634.3 81.4L635.4 81L635.5 79.3L635.8 79L637.7 78.7L638.3 79.2L638.1 80.5L637.9 81.6L637.8 82.8L637.7 83.8L639.8 83.8L641.4 83.9L642.1 84.7L642.1 86.5L642.2 88.3L642.9 89.2L643.7 90L644.6 90.3L645.5 89.7L646.5 89.8L647.5 90.6L647.1 91.7L646.6 90.6L645.8 90.2L645.2 91.6L644.2 91.2L643 90.8L642.4 90.5L641.3 89.2L640.6 88.8L640.5 88.1L639 86.6L638.2 86.3L636.9 85.8L635.7 85.6L634.8 84.9L633.5 83.6L632.5 83.7L631.6 84L629.9 83.5L628.7 83L626.9 82L625.4 81.2L624.1 80.5L623.8 79.6L623.8 78.7L622.7 77.1L621.1 75.5L619.8 74.6L619.1 73.5L618.2 72.7L616.7 71.4L616 70L614.6 69.3L614.8 70.4L616.1 71.8L617.1 73.2L618.4 74.6L619.3 75.9L620.3 77.1L619.4 76.9L618 75.7L617.4 74.4L616.1 73.5L615.2 72.9L615.6 72.3L614.1 70.6L613 69.2L612.5 68.4L611.3 67.2L609.5 66.8L608 64.8L607.3 63.8L605.9 62.2L605.2 61.4L604.9 59.9L604.4 59L603.8 56L602.6 54L603.9 54.2L604.5 54.9L603.8 53.5L602.6 52.6L601 52.1L599.8 51.7L599 50.3L597.5 49.1L596.7 48.4L595.5 47.5L594 46.2L591.8 44.8L590.3 44.5L588.5 43.6L587 43.4L584.9 43L583.4 42.5L582.7 43.4L581.9 43.9L580.8 44L580.9 42.7L581.4 42.3L580.2 42.7L579.6 43.9L579.3 45.1L578.3 46.2L577.2 47.1L575.7 47.8L574.4 48.2L574.9 47.3L576.1 46.6L577.1 45.4L577.3 44.5L576.2 44.7L574.3 44.5L573.8 43.4L571.9 42.7L570.9 41.8L571.3 40.7L572.8 40.2L573.4 39.3L572.2 39.2L570 39.2ZM603.6 54L601.9 53.6L599.6 52.1L600.2 51.8L601.9 52.6L603.3 53.5ZM596.9 50.5L595.9 49.8L595 48.8L595.8 48.9L596.2 49.8ZM579.6 46L580.4 45.2L581 45.6L580.3 46.2ZM633.7 37.3L635 40.2L634.9 41.6L632.9 41.1L630.9 40.7L627.9 39.3L625.8 39.5L624.6 38.4L626.6 37.9L625.5 36.1L621.5 34.4L619.9 34.2L616.7 34.2L613.5 33.3L610.7 31L613.3 30.8L615.5 30.8L618.8 31.7L622.6 32.6L626.4 34L629.3 35.9L632.3 36.8ZM596.8 32.9L596.8 31.2L599.8 31.5L602.4 31.2L605.5 32.9L606.5 34.9L603.9 35.3L601.1 35.6L597.9 34.4ZM591.9 32.4L591.3 30.3L594.9 30.6L595.4 32.4L593.8 33.1ZM608 28.3L610.9 28.5L614.4 28.3L613.2 26L615 24.6L615.6 23.1L611.6 22.3L606.7 22.2L603 23.1L602.3 24.2L605.2 24.9L608.6 26.4ZM605.6 29.2L608.6 30L613.2 30.1L614.9 29.7L612.8 28.7L608.3 28.6L604.7 28.3ZM594.3 29.5L597.6 30.1L600.5 29.7L599.7 28.7L597.2 28.3L594.1 28.5ZM601.5 29.5L605 29.7L603.6 28.3L601.4 28.2ZM602.8 26.4L606.2 26.6L606.5 25.5L602.8 24.2L601.9 25.1ZM605.1 32.4L608.4 32.9L607.1 31L604.7 30.6ZM608.5 31.9L611.1 31.7L610 30.6L607.5 30.6ZM608.8 35.1L611.3 35.6L610.3 34.4L609 34.2ZM620.9 39.9L620.9 38.8L623.2 39.7L623 40.7ZM649.3 54.8L648.8 52.1L649.4 51.2L650.5 52.6L652.3 53.2L654 54.9L653.6 55.6L652 55.3ZM615.2 26.7L615.6 25.1L616.9 23.2L621 22.8L624.4 22L629 21.9L634.6 22.8L639.3 24.2L641.4 23.7L642.5 25.5L645.5 27.8L648.9 29.7L650.4 31.5L653.2 33.8L653.3 35.1L651.2 35.9L650.8 37L649.8 38.2L648.6 38.8L649.7 40.7L651.3 43.2L648.8 42.7L646.6 42L644.3 40.7L642.1 39.6L639.6 37.9L637.7 36.5L636.9 35.1L634.1 33.8L631.6 31.9L627.9 30.1L624.8 28.7L621.3 28.6L618.7 27.8ZM639.7 78.3L640.9 77.3L642.4 77.1L644.1 77.8L645.9 78.7L647.2 79.4L648.4 79.9L647.4 80.2L645.7 80.2L645.9 79.6L644.8 79.2L643.1 78.2L641.8 77.9L640.7 78.1ZM648.5 81.5L649.3 80.2L650.5 80.2L651.8 80.4L653.2 81.4L652.4 81.5L651.2 81.7L650.8 82.1L650.1 81.7ZM645.5 81.5L647.1 81.7L646.8 82.1L645.6 81.9ZM654.2 81.4L655.4 81.5L655.4 81.9L654.3 81.9ZM647.5 90.6L648 91.1L648.7 88.8L649.3 88.3L650.7 87.9L651.6 87L652.1 88.3L652 89.2L653 87.9L653 87.2L654.3 88.3L656.3 88.7L657.5 89.1L659.5 88.6L660.4 89.7L661.3 90.6L662.6 92L663.9 92.9L665.5 92.9L667.5 93.8L668.4 94.5L669.6 96.8L669.7 98.4L670.8 99L672 99L674.2 100.7L676.4 101.1L677.6 101L678.7 101.8L679.9 102.8L681.2 103.2L681.5 105L681.1 106.7L679.3 108.5L677.8 110.3L677 112.2L676.5 114.4L675.4 116.3L674.9 117L673.9 118.6L671.9 119.5L670.3 119.9L669.2 120.4L667.5 121.6L666.5 123.2L665.6 124.6L664.1 126.2L662.1 127.8L660.4 129.3L658.8 130.4L657.8 130.4L656.6 129.6L656.3 130.1L656.8 130.9L656.8 131.8L655.4 133.2L654.1 133.9L651.8 134.1L650.9 135.5L648.7 135.8L648.1 136.9L648.8 137.5L647.5 138.1L646.3 139.7L644.3 140.6L644.7 141.7L644.6 142.2L642.5 143.6L640.6 145L640.1 146.3L639.6 147L639.9 148.1L640.8 148.5L639.6 149L638 149.3L637.2 149L636.9 147.9L636.3 147.3L635.9 146.3L636.4 144.7L637.3 142.9L638.2 141.3L640.2 139.7L641.2 138.3L641.8 136.7L642.6 135.1L643.6 133.2L644.2 132.4L645.3 130.9L646.7 128.8L647.6 126.8L648.2 125.4L649.1 123.6L650 121.8L650.6 119.9L651.3 117.7L651.8 115.3L651.1 114.4L649.6 113.3L648.4 112.4L647.7 111.1L647.3 109.4L646.7 107.6L646.2 105.9L645.6 104.6L644.6 103.9L644.6 102.5L645.4 101.5L645.8 100.5L644.9 100.4L645.1 99.3L645.6 98.1L645.7 97.6L646.7 97L647.1 96L647.7 94.9L647.7 93.4L647.5 92.2L647.1 91.7ZM645.7 145.6L647.2 145.4L647.8 145.8L646.6 146.3L645.5 146.2ZM659.6 88.6L660.3 88.5L660.3 89.1L659.7 89.1ZM447.5 168L447.9 166.2L450.2 164.7L453.4 164L455.4 163.3L461.4 163.5L467.4 163.7L472.7 163.1L475.5 162.9L477.9 162.4L480 161.3L482.6 160.7L483.6 159.7L485.7 160L488.8 161.1L492 161.4L495.4 161.9L498 163.3L500.3 162.2L502 160.9L503.6 160.6L506.6 160.6L512.4 160L518.6 160.2L524.8 160.6L530.7 160.2L536.8 160.6L539.9 161L542.9 162L548.8 163.1L551.7 163.9L554.5 164.7L552 166.7L550.2 168.3L551.7 169.9L553.7 170.1L559 170.2L559 170.2L564.2 170.4L569.5 170.1L572.3 169.7L575.1 169.4L578.3 168.5L584.3 167.5L590.2 167L595.8 166.9L599.3 167.3L603.6 165.5L606.8 165.1L608.1 165.6L613.6 165.8L617.7 165.6L621.4 165.3L626.9 162.4L630.5 160L634.1 158.2L637.1 157.1L639.4 156.6L636.8 158L633.3 159.6L630.2 161.5L629.2 163.5L626 166.2L620.9 168.5L613.8 170.4L609.5 171.7L611.3 173.4L616.2 174L623.1 173.4L629.4 172L634.8 170.6L641 168.8L643.7 168L617.4 180.9L473.8 180.9Z" fill="#a9a9a9" fill-rule="evenodd" stroke="#a9a9a9" stroke-width="0.25" stroke-linejoin="round"/>
</g>
<path d="M617.4 15.9L622 17.7L626.2 19.6L630.1 21.4L633.8 23.2L637.3 25.1L640.5 26.9L643.5 28.7L646.4 30.6L649.2 32.4L651.7 34.2L654.2 36.1L656.5 37.9L658.7 39.7L660.8 41.6L662.8 43.4L664.8 45.2L666.6 47.1L668.3 48.9L669.9 50.7L671.5 52.6L673 54.4L674.4 56.2L675.7 58.1L677 59.9L678.1 61.7L679.3 63.6L680.3 65.4L681.3 67.2L682.2 69.1L683.1 70.9L683.9 72.7L684.2 74.6L684.2 76.4L684.2 78.2L684.2 80.1L684.2 81.9L684.2 83.7L684.2 85.6L684.2 87.4L684.2 89.2L684.2 91.1L684.2 92.9L684.2 94.7L684.2 96.6L684.2 98.4L684.2 100.2L684.2 102.1L684.2 103.9L684.2 105.7L684.2 107.6L684.2 109.4L684.2 111.2L684.2 113.1L684.2 114.9L684.2 116.7L684.2 118.6L684.2 120.4L684.2 122.2L683.9 124.1L683.1 125.9L682.2 127.7L681.3 129.6L680.3 131.4L679.3 133.2L678.1 135.1L677 136.9L675.7 138.7L674.4 140.6L673 142.4L671.5 144.2L669.9 146.1L668.3 147.9L666.6 149.7L664.8 151.6L662.8 153.4L660.8 155.2L658.7 157.1L656.5 158.9L654.2 160.7L651.7 162.6L649.2 164.4L646.4 166.2L643.5 168.1L640.5 169.9L637.3 171.7L633.8 173.6L630.1 175.4L626.2 177.2L622 179.1L617.4 180.9L473.8 180.9L469.2 179.1L465 177.2L461.1 175.4L457.4 173.6L453.9 171.7L450.7 169.9L447.7 168.1L444.8 166.2L442 164.4L439.5 162.6L437 160.7L434.7 158.9L432.5 157.1L430.4 155.2L428.4 153.4L426.4 151.6L424.6 149.7L422.9 147.9L421.3 146.1L419.7 144.2L418.2 142.4L416.8 140.6L415.5 138.7L414.2 136.9L413.1 135.1L411.9 133.2L410.9 131.4L409.9 129.6L409 127.7L408.1 125.9L407.3 124.1L407.2 122.2L407.2 120.4L407.2 118.6L407.2 116.7L407.2 114.9L407.2 113.1L407.2 111.2L407.2 109.4L407.2 107.6L407.2 105.7L407.2 103.9L407.2 102.1L407.2 100.2L407.2 98.4L407.2 96.6L407.2 94.7L407.2 92.9L407.2 91.1L407.2 89.2L407.2 87.4L407.2 85.6L407.2 83.7L407.2 81.9L407.2 80.1L407.2 78.2L407.2 76.4L407.2 74.6L407.3 72.7L408.1 70.9L409 69.1L409.9 67.2L410.9 65.4L411.9 63.6L413.1 61.7L414.2 59.9L415.5 58.1L416.8 56.2L418.2 54.4L419.7 52.6L421.3 50.7L422.9 48.9L424.6 47.1L426.4 45.2L428.4 43.4L430.4 41.6L432.5 39.7L434.7 37.9L437 36.1L439.5 34.2L442 32.4L444.8 30.6L447.7 28.7L450.7 26.9L453.9 25.1L457.4 23.2L461.1 21.4L465 19.6L469.2 17.7L473.8 15.9Z" fill="none" stroke="#4a4a4a" stroke-width="0.8"/>
<path d="M474.4 15.9H616.8" stroke="#fff" stroke-width="1.6"/>
<path d="M473.8 16H617.4" stroke="#cdcdcd" stroke-width="1.2"/>
<path d="M473.8 180.9H617.4" stroke="#8a8a8a" stroke-width="1"/>
<g><circle cx="461.2" cy="43.3" r="5.15" fill="#f2bd6f" stroke="#fff" stroke-width="0.5"/><circle cx="438.1" cy="50" r="5.15" fill="#f2bd6f" stroke="#fff" stroke-width="0.5"/><circle cx="429.3" cy="61.3" r="5.15" fill="#f2bd6f" stroke="#fff" stroke-width="0.5"/><circle cx="441.8" cy="58.8" r="5.15" fill="#f2bd6f" stroke="#fff" stroke-width="0.5"/><circle cx="409.7" cy="86" r="5.15" fill="#f2bd6f" stroke="#fff" stroke-width="0.5"/><circle cx="412.1" cy="90.2" r="5.15" fill="#f2bd6f" stroke="#fff" stroke-width="0.5"/><circle cx="425.2" cy="92" r="5.15" fill="#f2bd6f" stroke="#fff" stroke-width="0.5"/><circle cx="428.3" cy="90.2" r="5.15" fill="#f2bd6f" stroke="#fff" stroke-width="0.5"/><circle cx="451.5" cy="99" r="5.15" fill="#f2bd6f" stroke="#fff" stroke-width="0.5"/><circle cx="481.4" cy="77.4" r="5.15" fill="#f2bd6f" stroke="#fff" stroke-width="0.5"/><circle cx="484.2" cy="69.5" r="5.15" fill="#f2bd6f" stroke="#fff" stroke-width="0.5"/><circle cx="485.6" cy="82.4" r="5.15" fill="#f2bd6f" stroke="#fff" stroke-width="0.5"/><circle cx="486.2" cy="92.3" r="5.15" fill="#f2bd6f" stroke="#fff" stroke-width="0.5"/><path d="M486.2 92.3H491.3" stroke="#fff" stroke-width="0.5"/><circle cx="495.2" cy="77" r="5.15" fill="#f2bd6f" stroke="#fff" stroke-width="0.5"/><path d="M495.2 77H500.3" stroke="#fff" stroke-width="0.5"/><circle cx="503.6" cy="78.5" r="5.15" fill="#f2bd6f" stroke="#fff" stroke-width="0.5"/><path d="M503.6 78.5L508.8 78.5A5.15 5.15 0 0 0 499.63 75.22Z" fill="#3a73b3" stroke="#fff" stroke-width="0.4" stroke-linejoin="round"/><circle cx="513.5" cy="77.4" r="5.15" fill="#f2bd6f" stroke="#fff" stroke-width="0.5"/><path d="M513.5 77.4L518.6 77.4A5.15 5.15 0 0 0 515.98 72.89Z" fill="#3a73b3" stroke="#fff" stroke-width="0.4" stroke-linejoin="round"/><circle cx="507.6" cy="88.7" r="5.15" fill="#f2bd6f" stroke="#fff" stroke-width="0.5"/><path d="M507.6 88.7L512.8 88.7A5.15 5.15 0 0 0 507.60 83.55Z" fill="#3a73b3" stroke="#fff" stroke-width="0.4" stroke-linejoin="round"/><circle cx="517.4" cy="61.8" r="5.15" fill="#f2bd6f" stroke="#fff" stroke-width="0.5"/><path d="M517.4 61.8L522.5 61.8A5.15 5.15 0 0 0 520.68 57.83Z" fill="#3a73b3" stroke="#fff" stroke-width="0.4" stroke-linejoin="round"/><circle cx="534.3" cy="65.9" r="5.15" fill="#f2bd6f" stroke="#fff" stroke-width="0.5"/><path d="M534.3 65.9L539.4 65.9A5.15 5.15 0 0 0 539.41 65.25Z" fill="#3a73b3" stroke="#fff" stroke-width="0.4" stroke-linejoin="round"/><circle cx="614.5" cy="61.7" r="5.15" fill="#f2bd6f" stroke="#fff" stroke-width="0.5"/><circle cx="626.1" cy="65.5" r="5.15" fill="#f2bd6f" stroke="#fff" stroke-width="0.5"/><circle cx="628.9" cy="80.7" r="5.15" fill="#f2bd6f" stroke="#fff" stroke-width="0.5"/><circle cx="660.6" cy="86.2" r="5.15" fill="#f2bd6f" stroke="#fff" stroke-width="0.5"/><circle cx="654.5" cy="81.4" r="5.15" fill="#f2bd6f" stroke="#fff" stroke-width="0.5"/><circle cx="650.1" cy="94.5" r="5.15" fill="#f2bd6f" stroke="#fff" stroke-width="0.5"/><circle cx="647.3" cy="109.6" r="5.15" fill="#f2bd6f" stroke="#fff" stroke-width="0.5"/><path d="M647.3 109.6H652.4" stroke="#fff" stroke-width="0.5"/></g>
<text x="478" y="11.8" font-size="9.7" font-weight="bold" fill="#111">Haplotype frequency: <tspan fill="#3a73b3">CTT</tspan>/<tspan fill="#f2bd6f">others</tspan></text>
<text x="395.2" y="11.5" font-size="12.6" font-weight="bold" fill="#000">c</text>
</svg>
</body></html>
